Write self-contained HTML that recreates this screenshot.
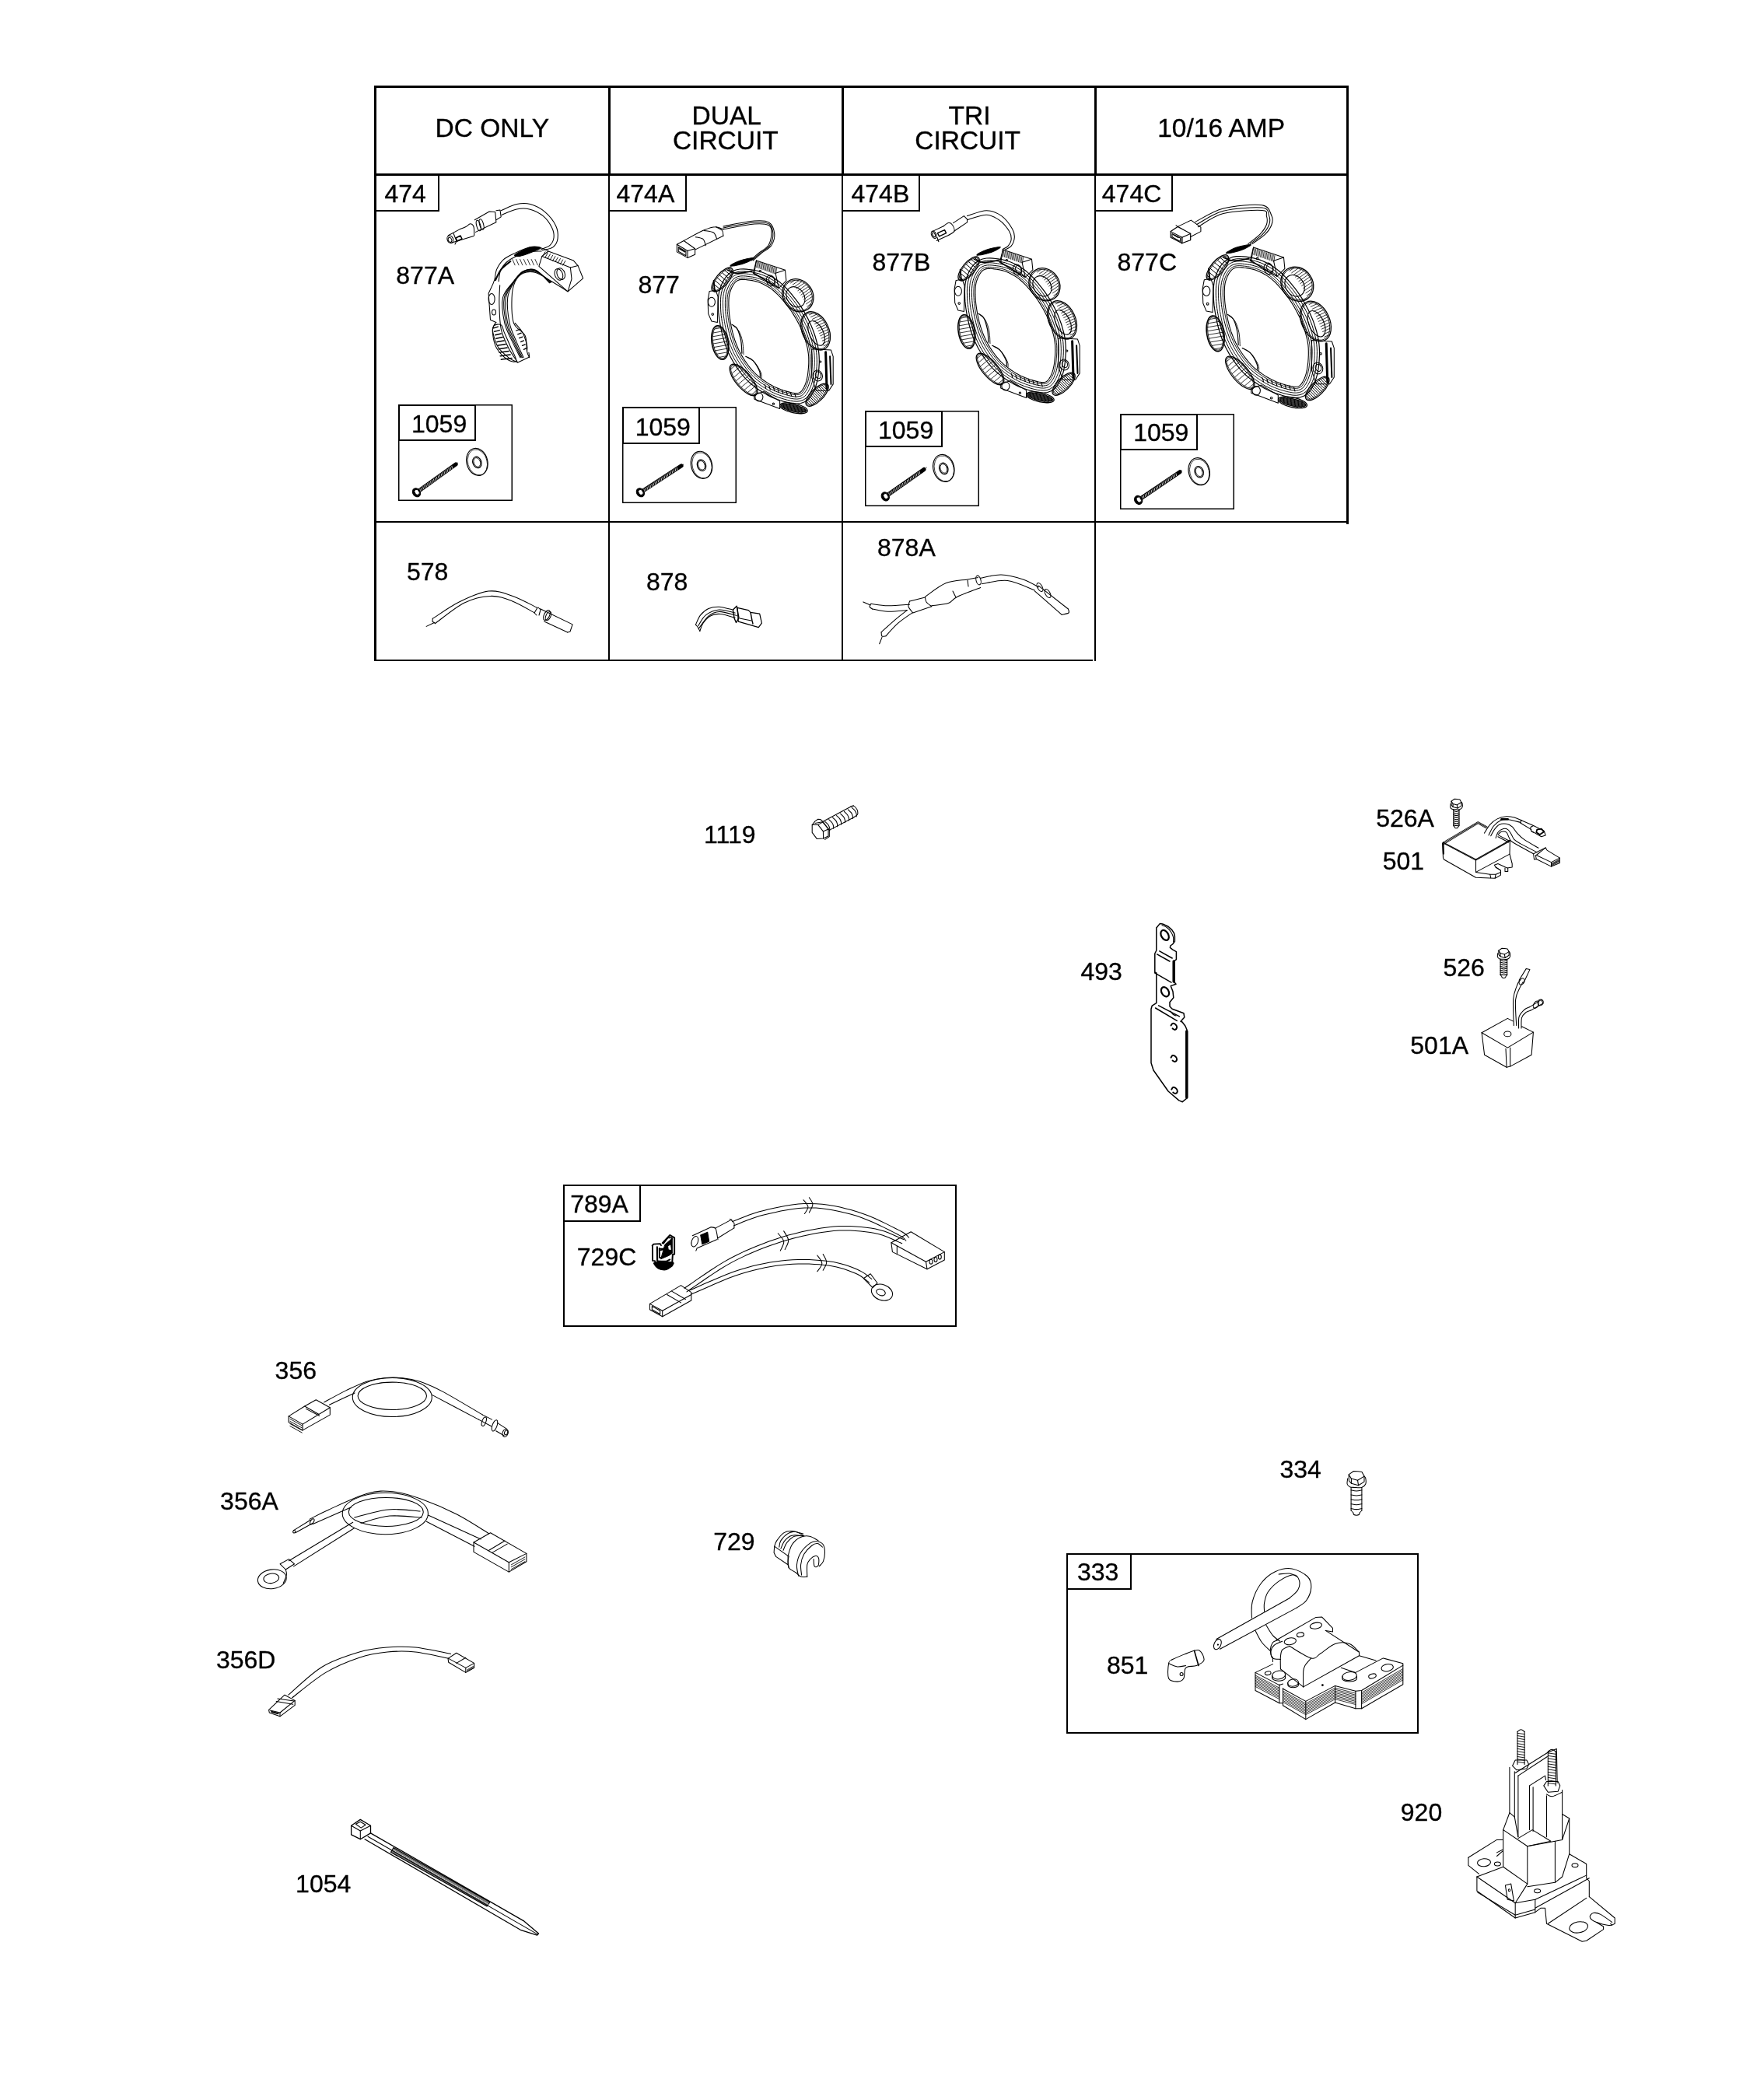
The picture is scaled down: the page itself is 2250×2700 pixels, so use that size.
<!DOCTYPE html>
<html><head><meta charset="utf-8"><style>
html,body{margin:0;padding:0;background:#fff;width:2250px;height:2700px;overflow:hidden}
svg{position:absolute;left:0;top:0;display:block;will-change:transform}
</style></head><body>
<svg width="2250" height="2700" viewBox="0 0 2250 2700" xmlns="http://www.w3.org/2000/svg">
<g fill="#000">
<rect x="481" y="110" width="1253" height="3"/>
<rect x="481" y="223" width="1253" height="3"/>
<rect x="481" y="670" width="1252" height="2"/>
<rect x="481" y="848" width="924" height="2"/>
<rect x="481" y="110" width="3" height="740"/>
<rect x="782" y="110" width="3" height="116"/>
<rect x="782" y="226" width="2" height="624"/>
<rect x="1082" y="110" width="3" height="116"/>
<rect x="1082" y="226" width="2" height="624"/>
<rect x="1407" y="110" width="3" height="116"/>
<rect x="1407" y="226" width="2" height="624"/>
<rect x="1731" y="110" width="3" height="564"/>
</g>
<g>
<rect x="482" y="224" width="82" height="47" fill="none" stroke="#000" stroke-width="2"/>
<rect x="783" y="224" width="99" height="47" fill="none" stroke="#000" stroke-width="2"/>
<rect x="1083" y="224" width="99" height="47" fill="none" stroke="#000" stroke-width="2"/>
<rect x="1408" y="224" width="99" height="47" fill="none" stroke="#000" stroke-width="2"/>
<rect x="512.75" y="520.75" width="145.5" height="122.5" fill="none" stroke="#000" stroke-width="1.5"/>
<rect x="513" y="521" width="98" height="45" fill="none" stroke="#000" stroke-width="2"/>
<rect x="800.75" y="523.75" width="145.5" height="122.5" fill="none" stroke="#000" stroke-width="1.5"/>
<rect x="801" y="524" width="98" height="46" fill="none" stroke="#000" stroke-width="2"/>
<rect x="1112.75" y="528.75" width="145.5" height="121.5" fill="none" stroke="#000" stroke-width="1.5"/>
<rect x="1113" y="529" width="98" height="45" fill="none" stroke="#000" stroke-width="2"/>
<rect x="1440.75" y="532.75" width="145.5" height="121.5" fill="none" stroke="#000" stroke-width="1.5"/>
<rect x="1441" y="533" width="98" height="45" fill="none" stroke="#000" stroke-width="2"/>
<rect x="725" y="1524" width="504" height="181" fill="none" stroke="#000" stroke-width="2"/>
<rect x="725" y="1524" width="98" height="46" fill="none" stroke="#000" stroke-width="2"/>
<rect x="1372" y="1998" width="451" height="230" fill="none" stroke="#000" stroke-width="2"/>
<rect x="1372" y="1998" width="82" height="45" fill="none" stroke="#000" stroke-width="2"/>
</g>
<g font-family="Liberation Sans, sans-serif" fill="#000" stroke="#000" stroke-width="0.35">
<text x="559.6" y="176.0" font-size="33.5">DC ONLY</text>
<text x="889.5" y="160.0" font-size="33.5">DUAL</text>
<text x="864.9" y="191.9" font-size="33.5">CIRCUIT</text>
<text x="1219.6" y="160.0" font-size="33.5">TRI</text>
<text x="1176.2" y="191.8" font-size="33.5">CIRCUIT</text>
<text x="1488.2" y="176.3" font-size="33.5">10/16 AMP</text>
<text x="494.5" y="260.0" font-size="32.0">474</text>
<text x="792.5" y="260.0" font-size="32.0">474A</text>
<text x="1094.5" y="260.0" font-size="32.0">474B</text>
<text x="1416.8" y="260.0" font-size="32.0">474C</text>
<text x="509.3" y="365.0" font-size="32.0">877A</text>
<text x="820.5" y="377.0" font-size="32.0">877</text>
<text x="1121.5" y="348.4" font-size="32.0">877B</text>
<text x="1436.5" y="348.0" font-size="32.0">877C</text>
<text x="529.0" y="556.0" font-size="32.0">1059</text>
<text x="816.7" y="559.8" font-size="32.0">1059</text>
<text x="1129.0" y="564.0" font-size="32.0">1059</text>
<text x="1457.2" y="567.0" font-size="32.0">1059</text>
<text x="523.0" y="746.0" font-size="32.0">578</text>
<text x="831.0" y="758.6" font-size="32.0">878</text>
<text x="1128.0" y="714.7" font-size="32.0">878A</text>
<text x="905.1" y="1084.0" font-size="32.0">1119</text>
<text x="1769.2" y="1062.9" font-size="32.0">526A</text>
<text x="1777.7" y="1118.4" font-size="32.0">501</text>
<text x="1389.4" y="1259.7" font-size="32.0">493</text>
<text x="1855.5" y="1254.8" font-size="32.0">526</text>
<text x="1813.3" y="1355.0" font-size="32.0">501A</text>
<text x="733.2" y="1559.0" font-size="32.0">789A</text>
<text x="741.8" y="1627.4" font-size="32.0">729C</text>
<text x="353.6" y="1772.7" font-size="32.0">356</text>
<text x="283.1" y="1940.7" font-size="32.0">356A</text>
<text x="277.9" y="2145.0" font-size="32.0">356D</text>
<text x="917.2" y="1992.7" font-size="32.0">729</text>
<text x="1645.5" y="1900.2" font-size="32.0">334</text>
<text x="1384.9" y="2031.8" font-size="32.0">333</text>
<text x="1422.9" y="2152.0" font-size="32.0">851</text>
<text x="1800.8" y="2340.7" font-size="32.0">920</text>
<text x="380.1" y="2432.7" font-size="32.0">1054</text>
</g>
<g fill="none" stroke="#000" stroke-width="1.05" stroke-linejoin="round" stroke-linecap="round">
<path d="M947.8,360.9 L950.1,359.9 L952.7,359.4 L955.6,359.3 L958.5,359.5 L961.4,359.9 L964.2,360.2 L967,360.6 L969.7,361.2 L972.5,361.9 L975.2,362.8 L977.9,363.8 L980.7,365 L983.4,366.4 L986.1,367.9 L988.8,369.5 L991.6,371.4 L994.3,373.5 L997.1,376 L1000.1,378.9 L1003.2,382.1 L1006.3,385.7 L1009.4,389.4 L1012.3,393 L1015,396.6 L1017.4,400 L1019.6,403.4 L1021.7,406.9 L1023.7,410.3 L1025.6,413.7 L1027.3,417.1 L1029,420.6 L1030.5,424 L1031.9,427.4 L1033.3,430.9 L1034.5,434.3 L1035.5,437.7 L1036.5,441.1 L1037.4,444.4 L1038.2,447.7 L1038.8,451.1 L1039.3,454.6 L1039.7,458.3 L1039.8,462.3 L1039.8,466.5 L1039.6,470.9 L1039.2,475.2 L1038.8,479.3 L1038.3,483 L1037.6,486.3 L1036.9,489.4 L1036,492.4 L1035,495 L1033.9,497.4 L1032.8,499.4 L1031.7,501.2 L1030.7,502.7 L1029.6,503.8 L1028.3,504.7 L1026.7,505.3 L1024.6,505.6 L1021.8,505.5 L1018.5,505 L1014.9,504.1 L1011.1,503.1 L1007.4,502 L1004,500.8 L1000.9,499.6 L997.8,498.3 L994.8,496.9 L991.9,495.3 L989,493.7 L986.2,491.9 L983.3,490 L980.5,488 L977.7,485.9 L974.9,483.7 L972.3,481.4 L969.7,478.9 L967.2,476.2 L964.8,473.3 L962.4,470.3 L960.2,467.2 L958,464.1 L956,461 L954.1,457.9 L952.4,454.8 L950.7,451.7 L949.2,448.5 L947.8,445.2 L946.4,441.8 L945.1,438.3 L944,434.8 L942.9,431.1 L941.9,427.4 L941,423.7 L940.2,419.9 L939.5,416 L938.8,412.1 L938.2,408.1 L937.7,404.2 L937.3,400.3 L937.1,396.6 L936.9,392.9 L936.9,389.3 L937,385.8 L937.2,382.3 L937.7,379.1 L938.4,376 L939.5,373 L940.7,370 L942.2,367.2 L943.8,364.7 L945.7,362.5Z" stroke-width="1.1"/>
<path d="M946.7,359.2 L949.5,358 L952.5,357.4 L955.6,357.3 L958.7,357.5 L961.6,357.9 L964.5,358.2 L967.3,358.7 L970.2,359.2 L973,360 L975.9,360.9 L978.7,362 L981.5,363.2 L984.3,364.6 L987.1,366.1 L989.9,367.9 L992.7,369.8 L995.6,372 L998.5,374.5 L1001.5,377.5 L1004.7,380.8 L1007.8,384.4 L1010.9,388.1 L1013.9,391.8 L1016.6,395.4 L1019,398.9 L1021.3,402.4 L1023.5,405.8 L1025.5,409.3 L1027.3,412.8 L1029.1,416.3 L1030.8,419.7 L1032.3,423.2 L1033.8,426.7 L1035.1,430.2 L1036.4,433.7 L1037.5,437.1 L1038.5,440.6 L1039.4,443.9 L1040.2,447.3 L1040.8,450.8 L1041.3,454.4 L1041.7,458.2 L1041.8,462.2 L1041.8,466.6 L1041.6,471 L1041.2,475.4 L1040.8,479.5 L1040.3,483.3 L1039.6,486.7 L1038.8,490 L1037.9,493 L1036.8,495.8 L1035.7,498.3 L1034.5,500.4 L1033.4,502.3 L1032.3,503.9 L1030.9,505.3 L1029.2,506.5 L1027.1,507.3 L1024.6,507.6 L1021.6,507.5 L1018.1,506.9 L1014.4,506.1 L1010.6,505 L1006.8,503.9 L1003.3,502.7 L1000.1,501.5 L997,500.1 L993.9,498.6 L990.9,497.1 L988,495.4 L985.1,493.6 L982.2,491.7 L979.3,489.6 L976.5,487.5 L973.7,485.2 L970.9,482.8 L968.3,480.3 L965.7,477.5 L963.2,474.6 L960.8,471.5 L958.5,468.4 L956.4,465.2 L954.3,462.1 L952.4,459 L950.6,455.8 L948.9,452.6 L947.4,449.3 L945.9,446 L944.5,442.5 L943.2,439 L942.1,435.4 L941,431.6 L940,427.9 L939.1,424.1 L938.3,420.3 L937.5,416.4 L936.8,412.4 L936.2,408.4 L935.7,404.4 L935.3,400.5 L935.1,396.7 L934.9,393 L934.9,389.3 L935,385.7 L935.2,382.1 L935.7,378.7 L936.5,375.4 L937.6,372.3 L938.9,369.2 L940.4,366.2 L942.2,363.5 L944.3,361.1Z" stroke-width="0.9"/>
<path d="M945.5,357.1 L948.8,355.6 L952.3,354.9 L955.6,354.8 L958.9,355 L962,355.4 L964.9,355.8 L967.8,356.2 L970.7,356.8 L973.7,357.6 L976.7,358.5 L979.7,359.6 L982.6,361 L985.5,362.4 L988.4,364 L991.3,365.8 L994.2,367.8 L997.2,370.1 L1000.2,372.7 L1003.3,375.7 L1006.5,379.1 L1009.7,382.8 L1012.9,386.5 L1015.9,390.3 L1018.6,393.9 L1021.1,397.5 L1023.4,401 L1025.6,404.6 L1027.6,408.1 L1029.5,411.6 L1031.3,415.1 L1033,418.7 L1034.6,422.2 L1036.1,425.8 L1037.5,429.3 L1038.7,432.9 L1039.8,436.4 L1040.9,439.9 L1041.8,443.3 L1042.6,446.8 L1043.3,450.4 L1043.8,454.1 L1044.1,458 L1044.3,462.2 L1044.3,466.6 L1044.1,471.1 L1043.7,475.6 L1043.3,479.8 L1042.7,483.7 L1042,487.3 L1041.2,490.6 L1040.2,493.8 L1039.1,496.7 L1038,499.4 L1036.7,501.7 L1035.5,503.6 L1034.2,505.4 L1032.6,507.2 L1030.4,508.8 L1027.7,509.7 L1024.7,510.1 L1021.4,510 L1017.7,509.4 L1013.8,508.5 L1009.9,507.4 L1006,506.2 L1002.5,505 L999.2,503.8 L995.9,502.4 L992.8,500.9 L989.7,499.3 L986.7,497.5 L983.7,495.7 L980.8,493.7 L977.8,491.7 L974.9,489.5 L972,487.1 L969.2,484.7 L966.5,482 L963.9,479.2 L961.3,476.2 L958.8,473.1 L956.5,469.9 L954.3,466.6 L952.2,463.4 L950.2,460.2 L948.4,457 L946.7,453.7 L945.1,450.4 L943.6,446.9 L942.2,443.4 L940.9,439.8 L939.7,436.1 L938.6,432.3 L937.6,428.5 L936.7,424.6 L935.8,420.8 L935.1,416.9 L934.3,412.8 L933.7,408.8 L933.2,404.7 L932.8,400.7 L932.6,396.8 L932.4,393 L932.4,389.3 L932.5,385.6 L932.8,381.9 L933.3,378.2 L934.1,374.8 L935.2,371.4 L936.6,368.1 L938.3,364.9 L940.3,362 L942.6,359.3Z" stroke-width="1.0"/>
<path d="M943.9,354.5 L947.9,352.7 L951.9,352 L955.7,351.8 L959.2,352 L962.3,352.4 L965.3,352.8 L968.3,353.3 L971.4,353.9 L974.5,354.7 L977.7,355.7 L980.8,356.9 L983.9,358.2 L986.9,359.7 L989.9,361.4 L992.9,363.2 L996,365.3 L999.1,367.8 L1002.2,370.5 L1005.4,373.6 L1008.7,377.1 L1012,380.8 L1015.2,384.6 L1018.2,388.4 L1021,392.1 L1023.6,395.8 L1026,399.4 L1028.2,403 L1030.3,406.6 L1032.2,410.2 L1034,413.8 L1035.8,417.4 L1037.4,421 L1038.9,424.6 L1040.3,428.3 L1041.6,431.9 L1042.7,435.5 L1043.8,439.1 L1044.7,442.6 L1045.5,446.2 L1046.2,449.9 L1046.8,453.8 L1047.1,457.8 L1047.3,462.2 L1047.3,466.7 L1047.1,471.3 L1046.7,475.9 L1046.3,480.2 L1045.7,484.2 L1045,487.9 L1044.1,491.4 L1043.1,494.8 L1041.9,497.8 L1040.6,500.7 L1039.3,503.2 L1038,505.2 L1036.6,507.3 L1034.6,509.5 L1031.7,511.4 L1028.4,512.6 L1024.8,513.1 L1021,512.9 L1017.1,512.3 L1013.1,511.4 L1009,510.3 L1005.1,509.1 L1001.5,507.9 L998,506.5 L994.7,505.1 L991.5,503.6 L988.3,501.9 L985.2,500.1 L982.1,498.2 L979.1,496.2 L976.1,494.1 L973.1,491.8 L970.1,489.4 L967.2,486.9 L964.4,484.1 L961.6,481.2 L959,478.1 L956.5,474.9 L954.1,471.6 L951.8,468.3 L949.6,465 L947.7,461.7 L945.8,458.4 L944,455 L942.4,451.6 L940.8,448.1 L939.4,444.5 L938,440.8 L936.8,437 L935.7,433.1 L934.7,429.2 L933.7,425.3 L932.9,421.4 L932.1,417.4 L931.4,413.3 L930.8,409.2 L930.2,405 L929.8,400.9 L929.6,396.9 L929.5,393.1 L929.4,389.3 L929.5,385.4 L929.8,381.5 L930.3,377.7 L931.2,373.9 L932.4,370.4 L933.9,366.9 L935.7,363.4 L937.9,360.1 L940.5,357.1Z" stroke-width="0.9"/>
<path d="M942.4,351.9 L947.1,349.9 L951.6,349 L955.7,348.8 L959.4,349.1 L962.7,349.4 L965.7,349.8 L968.8,350.3 L972.1,351 L975.4,351.8 L978.6,352.9 L981.9,354.1 L985.2,355.5 L988.3,357.1 L991.4,358.8 L994.5,360.7 L997.8,362.9 L1001,365.4 L1004.3,368.3 L1007.6,371.5 L1010.9,375.1 L1014.3,378.8 L1017.5,382.7 L1020.6,386.6 L1023.4,390.4 L1026.1,394.1 L1028.5,397.8 L1030.8,401.5 L1032.9,405.2 L1034.9,408.8 L1036.7,412.5 L1038.5,416.1 L1040.1,419.8 L1041.7,423.5 L1043.1,427.2 L1044.4,431 L1045.6,434.7 L1046.6,438.3 L1047.6,441.9 L1048.5,445.6 L1049.2,449.4 L1049.8,453.4 L1050.1,457.7 L1050.3,462.1 L1050.3,466.8 L1050.1,471.5 L1049.7,476.1 L1049.2,480.6 L1048.6,484.7 L1047.9,488.6 L1047,492.2 L1045.9,495.7 L1044.7,499 L1043.3,502 L1041.9,504.7 L1040.6,506.9 L1039,509.2 L1036.5,511.8 L1033.1,514.1 L1029,515.6 L1024.9,516.1 L1020.7,515.9 L1016.5,515.3 L1012.3,514.3 L1008.2,513.2 L1004.2,511.9 L1000.4,510.7 L996.9,509.3 L993.5,507.8 L990.1,506.2 L986.8,504.5 L983.6,502.7 L980.5,500.7 L977.4,498.7 L974.3,496.5 L971.2,494.2 L968.2,491.7 L965.1,489.1 L962.2,486.2 L959.4,483.2 L956.7,480 L954.1,476.7 L951.6,473.3 L949.3,470 L947.1,466.6 L945.1,463.2 L943.1,459.8 L941.3,456.4 L939.6,452.9 L938.1,449.3 L936.6,445.6 L935.2,441.8 L933.9,437.9 L932.8,433.9 L931.7,430 L930.8,426 L929.9,422 L929.2,418 L928.4,413.8 L927.8,409.6 L927.2,405.4 L926.8,401.1 L926.6,397.1 L926.5,393.2 L926.4,389.3 L926.5,385.3 L926.8,381.2 L927.4,377.1 L928.4,373.1 L929.6,369.3 L931.2,365.6 L933.1,361.9 L935.5,358.3 L938.5,354.9Z" stroke-width="1.0"/>
<path d="M940.8,349.3 L946.2,347 L951.3,346 L955.8,345.8 L959.7,346.1 L963.1,346.5 L966.1,346.9 L969.3,347.3 L972.7,348 L976.2,348.9 L979.6,350 L983.1,351.3 L986.4,352.8 L989.7,354.4 L992.9,356.2 L996.2,358.2 L999.5,360.5 L1002.9,363.1 L1006.3,366.1 L1009.7,369.4 L1013.2,373 L1016.6,376.9 L1019.8,380.8 L1023,384.8 L1025.9,388.6 L1028.5,392.4 L1031,396.2 L1033.4,400 L1035.5,403.7 L1037.5,407.4 L1039.4,411.1 L1041.2,414.9 L1042.9,418.6 L1044.5,422.4 L1045.9,426.2 L1047.3,430 L1048.5,433.8 L1049.5,437.5 L1050.5,441.1 L1051.4,444.9 L1052.2,448.9 L1052.7,453.1 L1053.1,457.5 L1053.3,462.1 L1053.3,466.9 L1053,471.7 L1052.7,476.4 L1052.2,480.9 L1051.6,485.2 L1050.8,489.2 L1049.9,493 L1048.8,496.7 L1047.5,500.1 L1046,503.4 L1044.5,506.2 L1043.1,508.5 L1041.3,511 L1038.5,514 L1034.4,516.8 L1029.7,518.5 L1025,519.1 L1020.4,518.9 L1016,518.2 L1011.6,517.2 L1007.3,516.1 L1003.2,514.8 L999.4,513.5 L995.8,512.1 L992.2,510.6 L988.7,508.9 L985.4,507.1 L982.1,505.2 L978.9,503.3 L975.7,501.2 L972.6,499 L969.4,496.6 L966.2,494 L963.1,491.3 L960.1,488.3 L957.1,485.2 L954.3,481.9 L951.7,478.5 L949.2,475.1 L946.8,471.6 L944.6,468.2 L942.5,464.8 L940.5,461.3 L938.7,457.7 L936.9,454.1 L935.3,450.4 L933.8,446.6 L932.4,442.7 L931.1,438.7 L929.9,434.7 L928.8,430.7 L927.9,426.6 L927,422.6 L926.2,418.5 L925.5,414.3 L924.8,410 L924.3,405.7 L923.8,401.4 L923.6,397.2 L923.5,393.2 L923.4,389.2 L923.5,385.1 L923.8,380.9 L924.4,376.5 L925.5,372.3 L926.8,368.2 L928.5,364.3 L930.5,360.4 L933.1,356.5 L936.4,352.8Z" stroke-width="1.2"/>
<path d="M940.9,417.1C942.1,418.1 945.8,419.2 947.8,422.6C949.7,426.1 951.5,432.5 952.6,437.7C953.6,443 953.7,451.4 953.9,454.2" stroke-width="1.2"/>
<path d="M942.3,418.5C943.5,419.7 947.8,421.9 949.8,425.4C951.9,428.8 953.6,434.1 954.6,439.1C955.7,444.1 955.8,452.8 956,455.5" stroke-width="0.9"/>
<path d="M958.7,458.3C960.3,459.2 965.4,460.6 968.3,463.8C971.3,467 975.1,474.1 976.6,477.5C978.1,480.9 977.1,483.2 977.3,484.3" stroke-width="1.2"/>
<path d="M961.5,459.7C963,460.7 967.6,462.6 970.4,465.8C973.2,469 976.8,475.5 978.2,478.9C979.7,482.2 978.9,484.6 979,485.7" stroke-width="0.9"/>
<ellipse cx="1025.9" cy="379.8" rx="19" ry="22" transform="rotate(-35 1025.9 379.8)" stroke-width="1.3"/>
<ellipse cx="1025.9" cy="379.8" rx="17.5" ry="20.5" transform="rotate(-35 1025.9 379.8)" stroke-width="0.8"/>
<ellipse cx="1022.9" cy="381.8" rx="11" ry="14" transform="rotate(-35 1022.9 381.8)" stroke-width="1.1"/>
<path d="M1016.6,363.9 L1021.6,360.4" stroke-width="0.8"/>
<path d="M1019.2,366.1 L1027,360.7" stroke-width="0.8"/>
<path d="M1021.6,368.6 L1031,362" stroke-width="0.8"/>
<path d="M1023.7,371.1 L1034.2,363.8" stroke-width="0.8"/>
<path d="M1025.8,373.8 L1037,366" stroke-width="0.8"/>
<path d="M1027.8,376.5 L1039.3,368.5" stroke-width="0.8"/>
<path d="M1029.8,379.2 L1041.2,371.2" stroke-width="0.8"/>
<path d="M1031.6,382 L1042.7,374.2" stroke-width="0.8"/>
<path d="M1033.4,384.9 L1043.8,377.6" stroke-width="0.8"/>
<path d="M1035,387.8 L1044.4,381.2" stroke-width="0.8"/>
<path d="M1036.5,390.8 L1044.3,385.4" stroke-width="0.8"/>
<path d="M1037.8,394.1 L1042.8,390.6" stroke-width="0.8"/>
<ellipse cx="1048.6" cy="425.4" rx="17" ry="26" transform="rotate(-25 1048.6 425.4)" stroke-width="1.3"/>
<ellipse cx="1048.6" cy="425.4" rx="15.5" ry="24.5" transform="rotate(-25 1048.6 425.4)" stroke-width="0.8"/>
<ellipse cx="1049.6" cy="428.4" rx="9" ry="17" transform="rotate(-25 1049.6 428.4)" stroke-width="1.1"/>
<path d="M1040.5,404.8 L1045.4,402.5" stroke-width="0.8"/>
<path d="M1042.5,407.6 L1049.8,404.2" stroke-width="0.8"/>
<path d="M1044.3,410.5 L1053.1,406.4" stroke-width="0.8"/>
<path d="M1046,413.5 L1055.8,408.9" stroke-width="0.8"/>
<path d="M1047.6,416.5 L1058.2,411.5" stroke-width="0.8"/>
<path d="M1049.2,419.5 L1060.2,414.4" stroke-width="0.8"/>
<path d="M1050.7,422.5 L1061.9,417.3" stroke-width="0.8"/>
<path d="M1052.1,425.6 L1063.3,420.4" stroke-width="0.8"/>
<path d="M1053.5,428.7 L1064.5,423.6" stroke-width="0.8"/>
<path d="M1054.8,431.8 L1065.3,426.9" stroke-width="0.8"/>
<path d="M1056,435 L1065.9,430.4" stroke-width="0.8"/>
<path d="M1057.2,438.2 L1066,434.1" stroke-width="0.8"/>
<path d="M1058.3,441.4 L1065.6,438" stroke-width="0.8"/>
<path d="M1059.1,444.8 L1064,442.5" stroke-width="0.8"/>
<ellipse cx="925.8" cy="440.5" rx="10.5" ry="22" transform="rotate(-10 925.8 440.5)" stroke-width="1.6"/>
<ellipse cx="925.8" cy="440.5" rx="9" ry="20.5" transform="rotate(-10 925.8 440.5)" stroke-width="0.8"/>
<path d="M918.8,423 L926.5,421.6" stroke-width="0.8"/>
<path d="M916.9,428 L930,425.7" stroke-width="0.8"/>
<path d="M916.3,432.8 L932.1,430" stroke-width="0.8"/>
<path d="M916.4,437.4 L933.7,434.4" stroke-width="0.8"/>
<path d="M917,442 L934.7,438.9" stroke-width="0.8"/>
<path d="M918,446.5 L935.3,443.5" stroke-width="0.8"/>
<path d="M919.5,450.9 L935.3,448.1" stroke-width="0.8"/>
<path d="M921.7,455.2 L934.8,452.9" stroke-width="0.8"/>
<path d="M925.2,459.3 L932.9,457.9" stroke-width="0.8"/>
<ellipse cx="956" cy="488.5" rx="10" ry="25" transform="rotate(-40 956 488.5)" stroke-width="1.3"/>
<ellipse cx="956" cy="488.5" rx="8.5" ry="23.5" transform="rotate(-40 956 488.5)" stroke-width="0.8"/>
<path d="M939.6,474.6 L945.2,469.9" stroke-width="0.8"/>
<path d="M941,480.3 L950.6,472.3" stroke-width="0.8"/>
<path d="M943.4,485.2 L955,475.5" stroke-width="0.8"/>
<path d="M946.3,489.7 L958.9,479.1" stroke-width="0.8"/>
<path d="M949.5,493.9 L962.5,483" stroke-width="0.8"/>
<path d="M953.1,497.8 L965.7,487.2" stroke-width="0.8"/>
<path d="M957,501.4 L968.6,491.7" stroke-width="0.8"/>
<path d="M961.4,504.6 L971,496.6" stroke-width="0.8"/>
<path d="M966.8,507 L972.4,502.3" stroke-width="0.8"/>
<ellipse cx="928.6" cy="359.5" rx="8" ry="19" transform="rotate(40 928.6 359.5)" stroke-width="1.3"/>
<ellipse cx="928.6" cy="359.5" rx="6.5" ry="17.5" transform="rotate(40 928.6 359.5)" stroke-width="0.8"/>
<path d="M936.5,345.7 L940.9,349.3" stroke-width="1.0"/>
<path d="M932,347.7 L939.6,354.1" stroke-width="1.0"/>
<path d="M928.3,350.5 L937.5,358.2" stroke-width="1.0"/>
<path d="M925.1,353.7 L935,362" stroke-width="1.0"/>
<path d="M922.2,357.1 L932.1,365.4" stroke-width="1.0"/>
<path d="M919.6,360.9 L928.8,368.6" stroke-width="1.0"/>
<path d="M917.5,365 L925.2,371.4" stroke-width="1.0"/>
<path d="M916.3,369.8 L920.6,373.4" stroke-width="1.0"/>
<ellipse cx="1050.6" cy="507.7" rx="8" ry="19" transform="rotate(45 1050.6 507.7)" stroke-width="1.3"/>
<ellipse cx="1050.6" cy="507.7" rx="6.5" ry="17.5" transform="rotate(45 1050.6 507.7)" stroke-width="0.8"/>
<path d="M1059.8,494.5 L1063.8,498.5" stroke-width="1.0"/>
<path d="M1057.1,495.3 L1063,501.2" stroke-width="1.0"/>
<path d="M1054.7,496.4 L1061.9,503.5" stroke-width="1.0"/>
<path d="M1052.6,497.6 L1060.6,505.7" stroke-width="1.0"/>
<path d="M1050.6,499.1 L1059.2,507.7" stroke-width="1.0"/>
<path d="M1048.7,500.6 L1057.7,509.6" stroke-width="1.0"/>
<path d="M1046.9,502.2 L1056.1,511.4" stroke-width="1.0"/>
<path d="M1045.2,503.9 L1054.4,513.1" stroke-width="1.0"/>
<path d="M1043.6,505.7 L1052.6,514.7" stroke-width="1.0"/>
<path d="M1042,507.6 L1050.7,516.3" stroke-width="1.0"/>
<path d="M1040.6,509.6 L1048.7,517.7" stroke-width="1.0"/>
<path d="M1039.3,511.8 L1046.5,519" stroke-width="1.0"/>
<path d="M1038.2,514.1 L1044.2,520.1" stroke-width="1.0"/>
<path d="M1037.5,516.8 L1041.5,520.8" stroke-width="1.0"/>
<ellipse cx="1020.5" cy="524.8" rx="18" ry="6" transform="rotate(12 1020.5 524.8)" stroke-width="1.3"/>
<ellipse cx="1020.5" cy="524.8" rx="16.5" ry="4.5" transform="rotate(12 1020.5 524.8)" stroke-width="0.8"/>
<path d="M1014.3,519.3 L1028.3,522.3" stroke-width="1.0"/>
<path d="M1009.6,519.3 L1032.6,524.2" stroke-width="1.0"/>
<path d="M1006.9,519.6 L1034.9,525.6" stroke-width="1.0"/>
<path d="M1005.3,520.2 L1036.1,526.8" stroke-width="1.0"/>
<path d="M1004.5,520.9 L1036.6,527.8" stroke-width="1.0"/>
<path d="M1004.3,521.8 L1036.4,528.7" stroke-width="1.0"/>
<path d="M1004.8,522.8 L1035.6,529.4" stroke-width="1.0"/>
<path d="M1006,524 L1034,530" stroke-width="1.0"/>
<path d="M1008.3,525.4 L1031.3,530.3" stroke-width="1.0"/>
<path d="M1012.6,527.3 L1026.6,530.3" stroke-width="1.0"/>
<path d="M938.9,341.7C939.5,340.7 946.9,336.5 951.9,334.9C956.9,333.2 967.5,331.2 969,331.6C970.5,331.9 964.3,335.3 960.8,336.9C957.3,338.5 951.4,340.2 947.8,341C944.1,341.8 938.2,342.7 938.9,341.7Z" fill="#000"/>
<path d="M935.4,347.2C937.5,347.9 942.5,351.1 947.8,351.3C953,351.5 963.8,349 967,348.6" stroke-width="1.6"/>
<path d="M968.3,351.3 L972.5,334.9 L1009.5,347.2 L1010.9,360.9 L1001.3,370.5 L968.3,351.3Z"/>
<path d="M972.5,334.9 L969.7,351.3 L1001.3,370.5"/>
<path d="M997.1,351.3 L1009.5,347.2"/>
<path d="M997.1,351.3 L1001.3,370.5"/>
<path d="M973.8,336.2 L972.7,343.8" stroke-width="0.8"/>
<path d="M975.5,336.8 L974.4,344.3" stroke-width="0.8"/>
<path d="M977.1,337.4 L976,344.9" stroke-width="0.8"/>
<path d="M978.8,338 L977.7,345.5" stroke-width="0.8"/>
<path d="M980.4,338.5 L979.3,346.1" stroke-width="0.8"/>
<path d="M982.1,339.1 L981,346.7" stroke-width="0.8"/>
<path d="M983.7,339.7 L982.6,347.2" stroke-width="0.8"/>
<path d="M985.3,340.3 L984.3,347.8" stroke-width="0.8"/>
<path d="M987,340.8 L985.9,348.4" stroke-width="0.8"/>
<path d="M988.6,341.4 L987.5,349" stroke-width="0.8"/>
<path d="M990.3,342 L989.2,349.5" stroke-width="0.8"/>
<path d="M991.9,342.6 L990.8,350.1" stroke-width="0.8"/>
<path d="M993.6,343.1 L992.5,350.7" stroke-width="0.8"/>
<path d="M995.2,343.7 L994.1,351.3" stroke-width="0.8"/>
<path d="M996.9,344.3 L995.8,351.8" stroke-width="0.8"/>
<path d="M998.5,344.9 L997.4,352.4" stroke-width="0.8"/>
<ellipse cx="991" cy="360.9" rx="5.5" ry="7" transform="rotate(-20 991 360.9)"/>
<ellipse cx="992.3" cy="360.2" rx="3.5" ry="5" transform="rotate(-20 992.3 360.2)"/>
<ellipse cx="977.3" cy="348.6" rx="1.2" ry="1.2"/>
<path d="M912.1,374.6 L920.3,373.3 L923.1,381.5 L922.4,414.4 L914.9,413 L910.7,403.4 L910.1,385.6Z"/>
<ellipse cx="914.9" cy="388.3" rx="4.5" ry="6"/>
<ellipse cx="916.2" cy="404.1" rx="1.3" ry="1.3"/>
<path d="M917.6,360.9 L919,374.6" stroke-width="1.8"/>
<path d="M1043.8,448.7 L1068.5,450.1 L1071.2,458.3 L1071.2,493.9 L1065.7,502.2 L1049.3,502.2 L1043.8,485.7Z"/>
<path d="M1061.6,452.8 L1063,499.4" stroke-width="3"/>
<path d="M1067.1,458.3 L1068.5,493.9" stroke-width="2"/>
<ellipse cx="1051.3" cy="483" rx="6" ry="7" transform="rotate(-20 1051.3 483)"/>
<ellipse cx="1052" cy="482.3" rx="3.5" ry="4.5" transform="rotate(-20 1052 482.3)"/>
<ellipse cx="1054.7" cy="465.1" rx="1.2" ry="1.2"/>
<path d="M969.7,507.7 L982.1,503.5 L1002.6,515.9 L1002.6,525.5 L980.7,517.3 L969.7,513.1Z"/>
<ellipse cx="975.9" cy="510.4" rx="5" ry="5.5"/>
<ellipse cx="994.4" cy="519.3" rx="1.2" ry="1.2"/>
<path d="M983.4,494.6 L984.8,499.4" stroke-width="1.1"/>
<path d="M988.9,496.3 L990.3,501.1" stroke-width="1.1"/>
<path d="M994.4,497.9 L995.8,502.7" stroke-width="1.1"/>
<path d="M999.9,499.6 L1001.3,504.4" stroke-width="1.1"/>
<path d="M1005.4,501.2 L1006.7,506" stroke-width="1.1"/>
<path d="M1010.9,502.9 L1012.2,507.7" stroke-width="1.1"/>
<path d="M1016.3,504.5 L1017.7,509.3" stroke-width="1.1"/>
<path d="M1021.8,506.1 L1023.2,510.9" stroke-width="1.1"/>
<path d="M1264.8,346.9 L1267.1,345.9 L1269.7,345.4 L1272.6,345.3 L1275.5,345.5 L1278.4,345.9 L1281.2,346.2 L1284,346.6 L1286.7,347.2 L1289.5,347.9 L1292.2,348.8 L1294.9,349.8 L1297.7,351 L1300.4,352.4 L1303.1,353.9 L1305.8,355.5 L1308.6,357.4 L1311.3,359.5 L1314.1,362 L1317.1,364.9 L1320.2,368.1 L1323.3,371.7 L1326.4,375.4 L1329.3,379 L1332,382.6 L1334.4,386 L1336.6,389.4 L1338.7,392.9 L1340.7,396.3 L1342.6,399.7 L1344.3,403.1 L1346,406.6 L1347.5,410 L1348.9,413.4 L1350.3,416.9 L1351.5,420.3 L1352.5,423.7 L1353.5,427.1 L1354.4,430.4 L1355.2,433.7 L1355.8,437.1 L1356.3,440.6 L1356.7,444.3 L1356.8,448.3 L1356.8,452.5 L1356.6,456.9 L1356.2,461.2 L1355.8,465.3 L1355.3,469 L1354.6,472.3 L1353.9,475.4 L1353,478.4 L1352,481 L1350.9,483.4 L1349.8,485.4 L1348.7,487.2 L1347.7,488.7 L1346.6,489.8 L1345.3,490.7 L1343.7,491.3 L1341.6,491.6 L1338.8,491.5 L1335.5,491 L1331.9,490.1 L1328.1,489.1 L1324.4,488 L1321,486.8 L1317.9,485.6 L1314.8,484.3 L1311.8,482.9 L1308.9,481.3 L1306,479.7 L1303.2,477.9 L1300.3,476 L1297.5,474 L1294.7,471.9 L1291.9,469.7 L1289.3,467.4 L1286.7,464.9 L1284.2,462.2 L1281.8,459.3 L1279.4,456.3 L1277.2,453.2 L1275,450.1 L1273,447 L1271.1,443.9 L1269.4,440.8 L1267.7,437.7 L1266.2,434.5 L1264.8,431.2 L1263.4,427.8 L1262.1,424.3 L1261,420.8 L1259.9,417.1 L1258.9,413.4 L1258,409.7 L1257.2,405.9 L1256.5,402 L1255.8,398.1 L1255.2,394.1 L1254.7,390.2 L1254.3,386.3 L1254.1,382.6 L1253.9,378.9 L1253.9,375.3 L1254,371.8 L1254.2,368.3 L1254.7,365.1 L1255.4,362 L1256.5,359 L1257.7,356 L1259.2,353.2 L1260.8,350.7 L1262.7,348.5Z" stroke-width="1.1"/>
<path d="M1263.7,345.2 L1266.5,344 L1269.5,343.4 L1272.6,343.3 L1275.7,343.5 L1278.6,343.9 L1281.5,344.2 L1284.3,344.7 L1287.2,345.2 L1290,346 L1292.9,346.9 L1295.7,348 L1298.5,349.2 L1301.3,350.6 L1304.1,352.1 L1306.9,353.9 L1309.7,355.8 L1312.6,358 L1315.5,360.5 L1318.5,363.5 L1321.7,366.8 L1324.8,370.4 L1327.9,374.1 L1330.9,377.8 L1333.6,381.4 L1336,384.9 L1338.3,388.4 L1340.5,391.8 L1342.5,395.3 L1344.3,398.8 L1346.1,402.3 L1347.8,405.7 L1349.3,409.2 L1350.8,412.7 L1352.1,416.2 L1353.4,419.7 L1354.5,423.1 L1355.5,426.6 L1356.4,429.9 L1357.2,433.3 L1357.8,436.8 L1358.3,440.4 L1358.7,444.2 L1358.8,448.2 L1358.8,452.6 L1358.6,457 L1358.2,461.4 L1357.8,465.5 L1357.3,469.3 L1356.6,472.7 L1355.8,476 L1354.9,479 L1353.8,481.8 L1352.7,484.3 L1351.5,486.4 L1350.4,488.3 L1349.3,489.9 L1347.9,491.3 L1346.2,492.5 L1344.1,493.3 L1341.6,493.6 L1338.6,493.5 L1335.1,492.9 L1331.4,492.1 L1327.6,491 L1323.8,489.9 L1320.3,488.7 L1317.1,487.5 L1314,486.1 L1310.9,484.6 L1307.9,483.1 L1305,481.4 L1302.1,479.6 L1299.2,477.7 L1296.3,475.6 L1293.5,473.5 L1290.7,471.2 L1287.9,468.8 L1285.3,466.3 L1282.7,463.5 L1280.2,460.6 L1277.8,457.5 L1275.5,454.4 L1273.4,451.2 L1271.3,448.1 L1269.4,445 L1267.6,441.8 L1265.9,438.6 L1264.4,435.3 L1262.9,432 L1261.5,428.5 L1260.2,425 L1259.1,421.4 L1258,417.6 L1257,413.9 L1256.1,410.1 L1255.3,406.3 L1254.5,402.4 L1253.8,398.4 L1253.2,394.4 L1252.7,390.4 L1252.3,386.5 L1252.1,382.7 L1251.9,379 L1251.9,375.3 L1252,371.7 L1252.2,368.1 L1252.7,364.7 L1253.5,361.4 L1254.6,358.3 L1255.9,355.2 L1257.4,352.2 L1259.2,349.5 L1261.3,347.1Z" stroke-width="0.9"/>
<path d="M1262.5,343.1 L1265.8,341.6 L1269.3,340.9 L1272.6,340.8 L1275.9,341 L1279,341.4 L1281.9,341.8 L1284.8,342.2 L1287.7,342.8 L1290.7,343.6 L1293.7,344.5 L1296.7,345.6 L1299.6,347 L1302.5,348.4 L1305.4,350 L1308.3,351.8 L1311.2,353.8 L1314.2,356.1 L1317.2,358.7 L1320.3,361.7 L1323.5,365.1 L1326.7,368.8 L1329.9,372.5 L1332.9,376.3 L1335.6,379.9 L1338.1,383.5 L1340.4,387 L1342.6,390.6 L1344.6,394.1 L1346.5,397.6 L1348.3,401.1 L1350,404.7 L1351.6,408.2 L1353.1,411.8 L1354.5,415.3 L1355.7,418.9 L1356.8,422.4 L1357.9,425.9 L1358.8,429.3 L1359.6,432.8 L1360.3,436.4 L1360.8,440.1 L1361.1,444 L1361.3,448.2 L1361.3,452.6 L1361.1,457.1 L1360.7,461.6 L1360.3,465.8 L1359.7,469.7 L1359,473.3 L1358.2,476.6 L1357.2,479.8 L1356.1,482.7 L1355,485.4 L1353.7,487.7 L1352.5,489.6 L1351.2,491.4 L1349.6,493.2 L1347.4,494.8 L1344.7,495.7 L1341.7,496.1 L1338.4,496 L1334.7,495.4 L1330.8,494.5 L1326.9,493.4 L1323,492.2 L1319.5,491 L1316.2,489.8 L1312.9,488.4 L1309.8,486.9 L1306.7,485.3 L1303.7,483.5 L1300.7,481.7 L1297.8,479.7 L1294.8,477.7 L1291.9,475.5 L1289,473.1 L1286.2,470.7 L1283.5,468 L1280.9,465.2 L1278.3,462.2 L1275.8,459.1 L1273.5,455.9 L1271.3,452.6 L1269.2,449.4 L1267.2,446.2 L1265.4,443 L1263.7,439.7 L1262.1,436.4 L1260.6,432.9 L1259.2,429.4 L1257.9,425.8 L1256.7,422.1 L1255.6,418.3 L1254.6,414.5 L1253.7,410.6 L1252.8,406.8 L1252.1,402.9 L1251.3,398.8 L1250.7,394.8 L1250.2,390.7 L1249.8,386.7 L1249.6,382.8 L1249.4,379 L1249.4,375.3 L1249.5,371.6 L1249.8,367.9 L1250.3,364.2 L1251.1,360.8 L1252.2,357.4 L1253.6,354.1 L1255.3,350.9 L1257.3,348 L1259.6,345.3Z" stroke-width="1.0"/>
<path d="M1260.9,340.5 L1264.9,338.7 L1268.9,338 L1272.7,337.8 L1276.2,338 L1279.3,338.4 L1282.3,338.8 L1285.3,339.3 L1288.4,339.9 L1291.5,340.7 L1294.7,341.7 L1297.8,342.9 L1300.9,344.2 L1303.9,345.7 L1306.9,347.4 L1309.9,349.2 L1313,351.3 L1316.1,353.8 L1319.2,356.5 L1322.4,359.6 L1325.7,363.1 L1329,366.8 L1332.2,370.6 L1335.2,374.4 L1338,378.1 L1340.6,381.8 L1343,385.4 L1345.2,389 L1347.3,392.6 L1349.2,396.2 L1351,399.8 L1352.8,403.4 L1354.4,407 L1355.9,410.6 L1357.3,414.3 L1358.6,417.9 L1359.7,421.5 L1360.8,425.1 L1361.7,428.6 L1362.5,432.2 L1363.2,435.9 L1363.8,439.8 L1364.1,443.8 L1364.3,448.2 L1364.3,452.7 L1364.1,457.3 L1363.7,461.9 L1363.3,466.2 L1362.7,470.2 L1362,473.9 L1361.1,477.4 L1360.1,480.8 L1358.9,483.8 L1357.6,486.7 L1356.3,489.2 L1355,491.2 L1353.6,493.3 L1351.6,495.5 L1348.7,497.4 L1345.4,498.6 L1341.8,499.1 L1338,498.9 L1334.1,498.3 L1330.1,497.4 L1326,496.3 L1322.1,495.1 L1318.5,493.9 L1315,492.5 L1311.7,491.1 L1308.5,489.6 L1305.3,487.9 L1302.2,486.1 L1299.1,484.2 L1296.1,482.2 L1293.1,480.1 L1290.1,477.8 L1287.1,475.4 L1284.2,472.9 L1281.4,470.1 L1278.6,467.2 L1276,464.1 L1273.5,460.9 L1271.1,457.6 L1268.8,454.3 L1266.6,451 L1264.7,447.7 L1262.8,444.4 L1261,441 L1259.4,437.6 L1257.8,434.1 L1256.4,430.5 L1255,426.8 L1253.8,423 L1252.7,419.1 L1251.7,415.2 L1250.7,411.3 L1249.9,407.4 L1249.1,403.4 L1248.4,399.3 L1247.8,395.2 L1247.2,391 L1246.8,386.9 L1246.6,382.9 L1246.5,379.1 L1246.4,375.3 L1246.5,371.4 L1246.8,367.5 L1247.3,363.7 L1248.2,359.9 L1249.4,356.4 L1250.9,352.9 L1252.7,349.4 L1254.9,346.1 L1257.5,343.1Z" stroke-width="0.9"/>
<path d="M1259.4,337.9 L1264.1,335.9 L1268.6,335 L1272.7,334.8 L1276.4,335.1 L1279.7,335.4 L1282.7,335.8 L1285.8,336.3 L1289.1,337 L1292.4,337.8 L1295.6,338.9 L1298.9,340.1 L1302.2,341.5 L1305.3,343.1 L1308.4,344.8 L1311.5,346.7 L1314.8,348.9 L1318,351.4 L1321.3,354.3 L1324.6,357.5 L1327.9,361.1 L1331.3,364.8 L1334.5,368.7 L1337.6,372.6 L1340.4,376.4 L1343.1,380.1 L1345.5,383.8 L1347.8,387.5 L1349.9,391.2 L1351.9,394.8 L1353.7,398.5 L1355.5,402.1 L1357.1,405.8 L1358.7,409.5 L1360.1,413.2 L1361.4,417 L1362.6,420.7 L1363.6,424.3 L1364.6,427.9 L1365.5,431.6 L1366.2,435.4 L1366.8,439.4 L1367.1,443.7 L1367.3,448.1 L1367.3,452.8 L1367.1,457.5 L1366.7,462.1 L1366.2,466.6 L1365.6,470.7 L1364.9,474.6 L1364,478.2 L1362.9,481.7 L1361.7,485 L1360.3,488 L1358.9,490.7 L1357.6,492.9 L1356,495.2 L1353.5,497.8 L1350.1,500.1 L1346,501.6 L1341.9,502.1 L1337.7,501.9 L1333.5,501.3 L1329.3,500.3 L1325.2,499.2 L1321.2,497.9 L1317.4,496.7 L1313.9,495.3 L1310.5,493.8 L1307.1,492.2 L1303.8,490.5 L1300.6,488.7 L1297.5,486.7 L1294.4,484.7 L1291.3,482.5 L1288.2,480.2 L1285.2,477.7 L1282.1,475.1 L1279.2,472.2 L1276.4,469.2 L1273.7,466 L1271.1,462.7 L1268.6,459.3 L1266.3,456 L1264.1,452.6 L1262.1,449.2 L1260.1,445.8 L1258.3,442.4 L1256.6,438.9 L1255.1,435.3 L1253.6,431.6 L1252.2,427.8 L1250.9,423.9 L1249.8,419.9 L1248.7,416 L1247.8,412 L1246.9,408 L1246.2,404 L1245.4,399.8 L1244.8,395.6 L1244.2,391.4 L1243.8,387.1 L1243.6,383.1 L1243.5,379.2 L1243.4,375.3 L1243.5,371.3 L1243.8,367.2 L1244.4,363.1 L1245.4,359.1 L1246.6,355.3 L1248.2,351.6 L1250.1,347.9 L1252.5,344.3 L1255.5,340.9Z" stroke-width="1.0"/>
<path d="M1257.8,335.3 L1263.2,333 L1268.3,332 L1272.8,331.8 L1276.7,332.1 L1280.1,332.5 L1283.1,332.9 L1286.3,333.3 L1289.7,334 L1293.2,334.9 L1296.6,336 L1300.1,337.3 L1303.4,338.8 L1306.7,340.4 L1309.9,342.2 L1313.2,344.2 L1316.5,346.5 L1319.9,349.1 L1323.3,352.1 L1326.7,355.4 L1330.2,359 L1333.6,362.9 L1336.8,366.8 L1340,370.8 L1342.9,374.6 L1345.5,378.4 L1348,382.2 L1350.4,386 L1352.5,389.7 L1354.5,393.4 L1356.4,397.1 L1358.2,400.9 L1359.9,404.6 L1361.5,408.4 L1362.9,412.2 L1364.3,416 L1365.5,419.8 L1366.5,423.5 L1367.5,427.1 L1368.4,430.9 L1369.2,434.9 L1369.7,439.1 L1370.1,443.5 L1370.3,448.1 L1370.3,452.9 L1370,457.7 L1369.7,462.4 L1369.2,466.9 L1368.6,471.2 L1367.8,475.2 L1366.9,479 L1365.8,482.7 L1364.5,486.1 L1363,489.4 L1361.5,492.2 L1360.1,494.5 L1358.3,497 L1355.5,500 L1351.4,502.8 L1346.7,504.5 L1342,505.1 L1337.4,504.9 L1333,504.2 L1328.6,503.2 L1324.3,502.1 L1320.2,500.8 L1316.4,499.5 L1312.8,498.1 L1309.2,496.6 L1305.7,494.9 L1302.4,493.1 L1299.1,491.2 L1295.9,489.3 L1292.7,487.2 L1289.6,485 L1286.4,482.6 L1283.2,480 L1280.1,477.3 L1277.1,474.3 L1274.1,471.2 L1271.3,467.9 L1268.7,464.5 L1266.2,461.1 L1263.8,457.6 L1261.6,454.2 L1259.5,450.8 L1257.5,447.3 L1255.7,443.7 L1253.9,440.1 L1252.3,436.4 L1250.8,432.6 L1249.4,428.7 L1248.1,424.7 L1246.9,420.7 L1245.8,416.7 L1244.9,412.6 L1244,408.6 L1243.2,404.5 L1242.5,400.3 L1241.8,396 L1241.3,391.7 L1240.8,387.4 L1240.6,383.2 L1240.5,379.2 L1240.4,375.2 L1240.5,371.1 L1240.8,366.9 L1241.4,362.5 L1242.5,358.3 L1243.8,354.2 L1245.5,350.3 L1247.5,346.4 L1250.1,342.5 L1253.4,338.8Z" stroke-width="1.2"/>
<path d="M1257.9,403.1C1259.1,404.1 1262.8,405.2 1264.8,408.6C1266.7,412.1 1268.5,418.5 1269.6,423.7C1270.6,429 1270.7,437.4 1270.9,440.2" stroke-width="1.2"/>
<path d="M1259.3,404.5C1260.5,405.7 1264.8,407.9 1266.8,411.4C1268.9,414.8 1270.6,420.1 1271.6,425.1C1272.7,430.1 1272.8,438.8 1273,441.5" stroke-width="0.9"/>
<path d="M1275.7,444.3C1277.3,445.2 1282.4,446.6 1285.3,449.8C1288.3,453 1292.1,460.1 1293.6,463.5C1295.1,466.9 1294.1,469.2 1294.3,470.3" stroke-width="1.2"/>
<path d="M1278.5,445.7C1280,446.7 1284.6,448.6 1287.4,451.8C1290.2,455 1293.8,461.5 1295.2,464.9C1296.7,468.2 1295.9,470.6 1296,471.7" stroke-width="0.9"/>
<ellipse cx="1342.9" cy="365.8" rx="19" ry="22" transform="rotate(-35 1342.9 365.8)" stroke-width="1.3"/>
<ellipse cx="1342.9" cy="365.8" rx="17.5" ry="20.5" transform="rotate(-35 1342.9 365.8)" stroke-width="0.8"/>
<ellipse cx="1339.9" cy="367.8" rx="11" ry="14" transform="rotate(-35 1339.9 367.8)" stroke-width="1.1"/>
<path d="M1333.6,349.9 L1338.6,346.4" stroke-width="0.8"/>
<path d="M1336.2,352.1 L1344,346.7" stroke-width="0.8"/>
<path d="M1338.6,354.6 L1348,348" stroke-width="0.8"/>
<path d="M1340.7,357.1 L1351.2,349.8" stroke-width="0.8"/>
<path d="M1342.8,359.8 L1354,352" stroke-width="0.8"/>
<path d="M1344.8,362.5 L1356.3,354.5" stroke-width="0.8"/>
<path d="M1346.8,365.2 L1358.2,357.2" stroke-width="0.8"/>
<path d="M1348.6,368 L1359.7,360.2" stroke-width="0.8"/>
<path d="M1350.4,370.9 L1360.8,363.6" stroke-width="0.8"/>
<path d="M1352,373.8 L1361.4,367.2" stroke-width="0.8"/>
<path d="M1353.5,376.8 L1361.3,371.4" stroke-width="0.8"/>
<path d="M1354.8,380.1 L1359.8,376.6" stroke-width="0.8"/>
<ellipse cx="1365.6" cy="411.4" rx="17" ry="26" transform="rotate(-25 1365.6 411.4)" stroke-width="1.3"/>
<ellipse cx="1365.6" cy="411.4" rx="15.5" ry="24.5" transform="rotate(-25 1365.6 411.4)" stroke-width="0.8"/>
<ellipse cx="1366.6" cy="414.4" rx="9" ry="17" transform="rotate(-25 1366.6 414.4)" stroke-width="1.1"/>
<path d="M1357.5,390.8 L1362.4,388.5" stroke-width="0.8"/>
<path d="M1359.5,393.6 L1366.8,390.2" stroke-width="0.8"/>
<path d="M1361.3,396.5 L1370.1,392.4" stroke-width="0.8"/>
<path d="M1363,399.5 L1372.8,394.9" stroke-width="0.8"/>
<path d="M1364.6,402.5 L1375.2,397.5" stroke-width="0.8"/>
<path d="M1366.2,405.5 L1377.2,400.4" stroke-width="0.8"/>
<path d="M1367.7,408.5 L1378.9,403.3" stroke-width="0.8"/>
<path d="M1369.1,411.6 L1380.3,406.4" stroke-width="0.8"/>
<path d="M1370.5,414.7 L1381.5,409.6" stroke-width="0.8"/>
<path d="M1371.8,417.8 L1382.3,412.9" stroke-width="0.8"/>
<path d="M1373,421 L1382.9,416.4" stroke-width="0.8"/>
<path d="M1374.2,424.2 L1383,420.1" stroke-width="0.8"/>
<path d="M1375.3,427.4 L1382.6,424" stroke-width="0.8"/>
<path d="M1376.1,430.8 L1381,428.5" stroke-width="0.8"/>
<ellipse cx="1242.8" cy="426.5" rx="10.5" ry="22" transform="rotate(-10 1242.8 426.5)" stroke-width="1.6"/>
<ellipse cx="1242.8" cy="426.5" rx="9" ry="20.5" transform="rotate(-10 1242.8 426.5)" stroke-width="0.8"/>
<path d="M1235.8,409 L1243.5,407.6" stroke-width="0.8"/>
<path d="M1233.9,414 L1247,411.7" stroke-width="0.8"/>
<path d="M1233.3,418.8 L1249.1,416" stroke-width="0.8"/>
<path d="M1233.4,423.4 L1250.7,420.4" stroke-width="0.8"/>
<path d="M1234,428 L1251.7,424.9" stroke-width="0.8"/>
<path d="M1235,432.5 L1252.3,429.5" stroke-width="0.8"/>
<path d="M1236.5,436.9 L1252.3,434.1" stroke-width="0.8"/>
<path d="M1238.7,441.2 L1251.8,438.9" stroke-width="0.8"/>
<path d="M1242.2,445.3 L1249.9,443.9" stroke-width="0.8"/>
<ellipse cx="1273" cy="474.5" rx="10" ry="25" transform="rotate(-40 1273 474.5)" stroke-width="1.3"/>
<ellipse cx="1273" cy="474.5" rx="8.5" ry="23.5" transform="rotate(-40 1273 474.5)" stroke-width="0.8"/>
<path d="M1256.6,460.6 L1262.2,455.9" stroke-width="0.8"/>
<path d="M1258,466.3 L1267.6,458.3" stroke-width="0.8"/>
<path d="M1260.4,471.2 L1272,461.5" stroke-width="0.8"/>
<path d="M1263.3,475.7 L1275.9,465.1" stroke-width="0.8"/>
<path d="M1266.5,479.9 L1279.5,469" stroke-width="0.8"/>
<path d="M1270.1,483.8 L1282.7,473.2" stroke-width="0.8"/>
<path d="M1274,487.4 L1285.6,477.7" stroke-width="0.8"/>
<path d="M1278.4,490.6 L1288,482.6" stroke-width="0.8"/>
<path d="M1283.8,493 L1289.4,488.3" stroke-width="0.8"/>
<ellipse cx="1245.6" cy="345.5" rx="8" ry="19" transform="rotate(40 1245.6 345.5)" stroke-width="1.3"/>
<ellipse cx="1245.6" cy="345.5" rx="6.5" ry="17.5" transform="rotate(40 1245.6 345.5)" stroke-width="0.8"/>
<path d="M1253.5,331.7 L1257.9,335.3" stroke-width="1.0"/>
<path d="M1249,333.7 L1256.6,340.1" stroke-width="1.0"/>
<path d="M1245.3,336.5 L1254.5,344.2" stroke-width="1.0"/>
<path d="M1242.1,339.7 L1252,348" stroke-width="1.0"/>
<path d="M1239.2,343.1 L1249.1,351.4" stroke-width="1.0"/>
<path d="M1236.6,346.9 L1245.8,354.6" stroke-width="1.0"/>
<path d="M1234.5,351 L1242.2,357.4" stroke-width="1.0"/>
<path d="M1233.3,355.8 L1237.6,359.4" stroke-width="1.0"/>
<ellipse cx="1367.6" cy="493.7" rx="8" ry="19" transform="rotate(45 1367.6 493.7)" stroke-width="1.3"/>
<ellipse cx="1367.6" cy="493.7" rx="6.5" ry="17.5" transform="rotate(45 1367.6 493.7)" stroke-width="0.8"/>
<path d="M1376.8,480.5 L1380.8,484.5" stroke-width="1.0"/>
<path d="M1374.1,481.3 L1380,487.2" stroke-width="1.0"/>
<path d="M1371.7,482.4 L1378.9,489.5" stroke-width="1.0"/>
<path d="M1369.6,483.6 L1377.6,491.7" stroke-width="1.0"/>
<path d="M1367.6,485.1 L1376.2,493.7" stroke-width="1.0"/>
<path d="M1365.7,486.6 L1374.7,495.6" stroke-width="1.0"/>
<path d="M1363.9,488.2 L1373.1,497.4" stroke-width="1.0"/>
<path d="M1362.2,489.9 L1371.4,499.1" stroke-width="1.0"/>
<path d="M1360.6,491.7 L1369.6,500.7" stroke-width="1.0"/>
<path d="M1359,493.6 L1367.7,502.3" stroke-width="1.0"/>
<path d="M1357.6,495.6 L1365.7,503.7" stroke-width="1.0"/>
<path d="M1356.3,497.8 L1363.5,505" stroke-width="1.0"/>
<path d="M1355.2,500.1 L1361.2,506.1" stroke-width="1.0"/>
<path d="M1354.5,502.8 L1358.5,506.8" stroke-width="1.0"/>
<ellipse cx="1337.5" cy="510.8" rx="18" ry="6" transform="rotate(12 1337.5 510.8)" stroke-width="1.3"/>
<ellipse cx="1337.5" cy="510.8" rx="16.5" ry="4.5" transform="rotate(12 1337.5 510.8)" stroke-width="0.8"/>
<path d="M1331.3,505.3 L1345.3,508.3" stroke-width="1.0"/>
<path d="M1326.6,505.3 L1349.6,510.2" stroke-width="1.0"/>
<path d="M1323.9,505.6 L1351.9,511.6" stroke-width="1.0"/>
<path d="M1322.3,506.2 L1353.1,512.8" stroke-width="1.0"/>
<path d="M1321.5,506.9 L1353.6,513.8" stroke-width="1.0"/>
<path d="M1321.3,507.8 L1353.4,514.7" stroke-width="1.0"/>
<path d="M1321.8,508.8 L1352.6,515.4" stroke-width="1.0"/>
<path d="M1323,510 L1351,516" stroke-width="1.0"/>
<path d="M1325.3,511.4 L1348.3,516.3" stroke-width="1.0"/>
<path d="M1329.6,513.3 L1343.6,516.3" stroke-width="1.0"/>
<path d="M1255.9,327.7C1256.5,326.7 1263.9,322.5 1268.9,320.9C1273.9,319.2 1284.5,317.2 1286,317.6C1287.5,317.9 1281.3,321.3 1277.8,322.9C1274.3,324.5 1268.4,326.2 1264.8,327C1261.1,327.8 1255.2,328.7 1255.9,327.7Z" fill="#000"/>
<path d="M1252.4,333.2C1254.5,333.9 1259.5,337.1 1264.8,337.3C1270,337.5 1280.8,335 1284,334.6" stroke-width="1.6"/>
<path d="M1285.3,337.3 L1289.5,320.9 L1326.5,333.2 L1327.9,346.9 L1318.3,356.5 L1285.3,337.3Z"/>
<path d="M1289.5,320.9 L1286.7,337.3 L1318.3,356.5"/>
<path d="M1314.1,337.3 L1326.5,333.2"/>
<path d="M1314.1,337.3 L1318.3,356.5"/>
<path d="M1290.8,322.2 L1289.7,329.8" stroke-width="0.8"/>
<path d="M1292.5,322.8 L1291.4,330.3" stroke-width="0.8"/>
<path d="M1294.1,323.4 L1293,330.9" stroke-width="0.8"/>
<path d="M1295.8,324 L1294.7,331.5" stroke-width="0.8"/>
<path d="M1297.4,324.5 L1296.3,332.1" stroke-width="0.8"/>
<path d="M1299.1,325.1 L1298,332.7" stroke-width="0.8"/>
<path d="M1300.7,325.7 L1299.6,333.2" stroke-width="0.8"/>
<path d="M1302.3,326.3 L1301.3,333.8" stroke-width="0.8"/>
<path d="M1304,326.8 L1302.9,334.4" stroke-width="0.8"/>
<path d="M1305.6,327.4 L1304.5,335" stroke-width="0.8"/>
<path d="M1307.3,328 L1306.2,335.5" stroke-width="0.8"/>
<path d="M1308.9,328.6 L1307.8,336.1" stroke-width="0.8"/>
<path d="M1310.6,329.1 L1309.5,336.7" stroke-width="0.8"/>
<path d="M1312.2,329.7 L1311.1,337.3" stroke-width="0.8"/>
<path d="M1313.9,330.3 L1312.8,337.8" stroke-width="0.8"/>
<path d="M1315.5,330.9 L1314.4,338.4" stroke-width="0.8"/>
<ellipse cx="1308" cy="346.9" rx="5.5" ry="7" transform="rotate(-20 1308 346.9)"/>
<ellipse cx="1309.3" cy="346.2" rx="3.5" ry="5" transform="rotate(-20 1309.3 346.2)"/>
<ellipse cx="1294.3" cy="334.6" rx="1.2" ry="1.2"/>
<path d="M1229.1,360.6 L1237.3,359.3 L1240.1,367.5 L1239.4,400.4 L1231.9,399 L1227.7,389.4 L1227.1,371.6Z"/>
<ellipse cx="1231.9" cy="374.3" rx="4.5" ry="6"/>
<ellipse cx="1233.2" cy="390.1" rx="1.3" ry="1.3"/>
<path d="M1234.6,346.9 L1236,360.6" stroke-width="1.8"/>
<path d="M1360.8,434.7 L1385.5,436.1 L1388.2,444.3 L1388.2,479.9 L1382.7,488.2 L1366.3,488.2 L1360.8,471.7Z"/>
<path d="M1378.6,438.8 L1380,485.4" stroke-width="3"/>
<path d="M1384.1,444.3 L1385.5,479.9" stroke-width="2"/>
<ellipse cx="1368.3" cy="469" rx="6" ry="7" transform="rotate(-20 1368.3 469)"/>
<ellipse cx="1369" cy="468.3" rx="3.5" ry="4.5" transform="rotate(-20 1369 468.3)"/>
<ellipse cx="1371.7" cy="451.1" rx="1.2" ry="1.2"/>
<path d="M1286.7,493.7 L1299.1,489.5 L1319.6,501.9 L1319.6,511.5 L1297.7,503.3 L1286.7,499.1Z"/>
<ellipse cx="1292.9" cy="496.4" rx="5" ry="5.5"/>
<ellipse cx="1311.4" cy="505.3" rx="1.2" ry="1.2"/>
<path d="M1300.4,480.6 L1301.8,485.4" stroke-width="1.1"/>
<path d="M1305.9,482.3 L1307.3,487.1" stroke-width="1.1"/>
<path d="M1311.4,483.9 L1312.8,488.7" stroke-width="1.1"/>
<path d="M1316.9,485.6 L1318.3,490.4" stroke-width="1.1"/>
<path d="M1322.4,487.2 L1323.7,492" stroke-width="1.1"/>
<path d="M1327.9,488.9 L1329.2,493.7" stroke-width="1.1"/>
<path d="M1333.3,490.5 L1334.7,495.3" stroke-width="1.1"/>
<path d="M1338.8,492.1 L1340.2,496.9" stroke-width="1.1"/>
<path d="M1585.7,345.4 L1588.2,344.3 L1590.9,343.8 L1593.9,343.7 L1597,343.9 L1600,344.3 L1603,344.6 L1605.9,345.1 L1608.7,345.7 L1611.6,346.4 L1614.5,347.3 L1617.4,348.4 L1620.3,349.7 L1623.1,351.1 L1626,352.7 L1628.8,354.4 L1631.7,356.4 L1634.6,358.6 L1637.5,361.2 L1640.7,364.2 L1643.9,367.7 L1647.2,371.4 L1650.4,375.2 L1653.5,379.1 L1656.3,382.8 L1658.8,386.4 L1661.2,390 L1663.4,393.6 L1665.4,397.2 L1667.4,400.8 L1669.2,404.4 L1671,408 L1672.6,411.6 L1674.1,415.2 L1675.5,418.8 L1676.7,422.4 L1677.9,426 L1678.9,429.5 L1679.8,433 L1680.7,436.5 L1681.3,440.1 L1681.9,443.7 L1682.2,447.6 L1682.3,451.8 L1682.3,456.2 L1682.1,460.8 L1681.8,465.4 L1681.3,469.6 L1680.7,473.5 L1680.1,477 L1679.3,480.3 L1678.3,483.4 L1677.3,486.2 L1676.2,488.6 L1675,490.8 L1673.9,492.6 L1672.8,494.2 L1671.7,495.4 L1670.3,496.4 L1668.6,497 L1666.3,497.3 L1663.5,497.2 L1660,496.6 L1656.2,495.7 L1652.2,494.7 L1648.3,493.5 L1644.7,492.2 L1641.4,491 L1638.2,489.6 L1635.1,488.1 L1632.1,486.5 L1629,484.7 L1626,482.9 L1623,480.9 L1620.1,478.8 L1617.1,476.6 L1614.2,474.3 L1611.4,471.8 L1608.7,469.2 L1606.1,466.4 L1603.6,463.4 L1601.1,460.2 L1598.7,457 L1596.5,453.7 L1594.3,450.5 L1592.4,447.2 L1590.5,444 L1588.8,440.7 L1587.2,437.3 L1585.7,433.9 L1584.3,430.3 L1582.9,426.7 L1581.7,422.9 L1580.6,419.1 L1579.6,415.2 L1578.6,411.2 L1577.8,407.3 L1577,403.2 L1576.3,399.1 L1575.6,394.9 L1575.1,390.8 L1574.7,386.7 L1574.5,382.8 L1574.3,379 L1574.3,375.2 L1574.4,371.5 L1574.6,367.9 L1575.1,364.4 L1575.9,361.2 L1577,358.1 L1578.3,354.9 L1579.8,352 L1581.6,349.3 L1583.5,347.1Z" stroke-width="1.1"/>
<path d="M1584.6,343.6 L1587.5,342.3 L1590.7,341.7 L1593.9,341.6 L1597.1,341.8 L1600.3,342.2 L1603.3,342.6 L1606.2,343 L1609.2,343.6 L1612.2,344.4 L1615.2,345.3 L1618.2,346.5 L1621.2,347.8 L1624.1,349.2 L1627,350.8 L1630,352.6 L1632.9,354.7 L1635.9,357 L1639,359.7 L1642.1,362.7 L1645.4,366.2 L1648.8,370 L1652,373.9 L1655.1,377.8 L1658,381.6 L1660.5,385.2 L1662.9,388.9 L1665.2,392.5 L1667.3,396.2 L1669.2,399.8 L1671.1,403.5 L1672.9,407.1 L1674.5,410.8 L1676,414.4 L1677.4,418.1 L1678.7,421.7 L1679.9,425.4 L1680.9,429 L1681.9,432.5 L1682.7,436.1 L1683.4,439.7 L1683.9,443.5 L1684.3,447.5 L1684.4,451.7 L1684.4,456.3 L1684.2,461 L1683.9,465.5 L1683.4,469.9 L1682.8,473.9 L1682.1,477.5 L1681.3,480.9 L1680.3,484 L1679.2,487 L1678,489.6 L1676.8,491.8 L1675.6,493.8 L1674.5,495.5 L1673,497 L1671.2,498.2 L1669,499 L1666.4,499.4 L1663.2,499.2 L1659.6,498.7 L1655.7,497.8 L1651.6,496.7 L1647.7,495.5 L1644,494.2 L1640.7,492.9 L1637.4,491.5 L1634.2,490 L1631,488.3 L1628,486.5 L1624.9,484.6 L1621.9,482.6 L1618.8,480.5 L1615.8,478.3 L1612.9,475.9 L1610,473.4 L1607.2,470.7 L1604.6,467.8 L1602,464.7 L1599.4,461.5 L1597,458.2 L1594.7,454.9 L1592.6,451.6 L1590.6,448.3 L1588.7,445 L1586.9,441.6 L1585.3,438.2 L1583.8,434.7 L1582.3,431.1 L1581,427.3 L1579.7,423.5 L1578.6,419.6 L1577.5,415.7 L1576.6,411.7 L1575.7,407.7 L1574.9,403.6 L1574.2,399.5 L1573.6,395.2 L1573,391 L1572.6,386.9 L1572.4,382.9 L1572.2,379 L1572.2,375.2 L1572.3,371.4 L1572.6,367.6 L1573.1,364 L1573.9,360.6 L1575,357.3 L1576.4,354 L1578,350.9 L1579.9,348 L1582.1,345.5Z" stroke-width="0.9"/>
<path d="M1583.3,341.3 L1586.8,339.8 L1590.4,339.1 L1594,339 L1597.4,339.2 L1600.6,339.6 L1603.6,340 L1606.7,340.4 L1609.8,341 L1612.9,341.9 L1616.1,342.8 L1619.2,344 L1622.3,345.4 L1625.3,346.9 L1628.3,348.6 L1631.4,350.4 L1634.5,352.6 L1637.6,355 L1640.8,357.7 L1644,360.9 L1647.4,364.5 L1650.8,368.3 L1654.1,372.2 L1657.2,376.2 L1660.1,380 L1662.7,383.7 L1665.2,387.5 L1667.4,391.2 L1669.6,394.9 L1671.6,398.6 L1673.5,402.3 L1675.3,406 L1676.9,409.7 L1678.5,413.4 L1679.9,417.2 L1681.2,420.9 L1682.4,424.6 L1683.5,428.3 L1684.4,431.9 L1685.3,435.5 L1686,439.3 L1686.5,443.2 L1686.9,447.3 L1687.1,451.7 L1687,456.4 L1686.8,461.1 L1686.5,465.8 L1686,470.2 L1685.4,474.3 L1684.7,478 L1683.8,481.6 L1682.8,484.9 L1681.7,487.9 L1680.4,490.7 L1679.1,493.2 L1677.8,495.2 L1676.5,497.1 L1674.8,499 L1672.4,500.6 L1669.6,501.6 L1666.5,502 L1663,501.9 L1659.1,501.3 L1655,500.3 L1650.9,499.2 L1646.9,498 L1643.1,496.7 L1639.7,495.4 L1636.3,493.9 L1633,492.3 L1629.8,490.6 L1626.6,488.8 L1623.5,486.9 L1620.4,484.8 L1617.3,482.7 L1614.2,480.4 L1611.2,477.9 L1608.2,475.3 L1605.4,472.5 L1602.6,469.5 L1599.9,466.4 L1597.3,463.1 L1594.9,459.8 L1592.5,456.4 L1590.3,453 L1588.3,449.6 L1586.4,446.2 L1584.6,442.8 L1582.9,439.3 L1581.3,435.7 L1579.9,432 L1578.5,428.2 L1577.2,424.3 L1576.1,420.3 L1575,416.3 L1574,412.3 L1573.2,408.2 L1572.4,404.1 L1571.6,399.9 L1571,395.6 L1570.4,391.3 L1570,387.1 L1569.8,383 L1569.6,379.1 L1569.6,375.2 L1569.7,371.2 L1569.9,367.4 L1570.5,363.5 L1571.4,359.9 L1572.6,356.4 L1574,352.9 L1575.7,349.6 L1577.8,346.5 L1580.3,343.6Z" stroke-width="1.0"/>
<path d="M1581.7,338.6 L1585.9,336.8 L1590.1,336 L1594,335.8 L1597.7,336.1 L1601,336.4 L1604.1,336.8 L1607.2,337.3 L1610.5,338 L1613.8,338.8 L1617.1,339.9 L1620.4,341.1 L1623.6,342.6 L1626.8,344.1 L1629.9,345.9 L1633.1,347.8 L1636.3,350 L1639.6,352.5 L1642.9,355.4 L1646.3,358.7 L1649.7,362.3 L1653.2,366.2 L1656.5,370.3 L1659.7,374.3 L1662.6,378.2 L1665.3,382 L1667.8,385.8 L1670.2,389.6 L1672.3,393.4 L1674.4,397.1 L1676.3,400.9 L1678.1,404.7 L1679.8,408.5 L1681.4,412.3 L1682.9,416.1 L1684.2,419.9 L1685.4,423.7 L1686.5,427.4 L1687.5,431.1 L1688.4,434.9 L1689.1,438.8 L1689.7,442.9 L1690.1,447.1 L1690.2,451.7 L1690.2,456.4 L1690,461.3 L1689.6,466.1 L1689.1,470.6 L1688.5,474.8 L1687.8,478.7 L1686.8,482.4 L1685.8,485.9 L1684.6,489.1 L1683.2,492.1 L1681.8,494.7 L1680.5,496.9 L1679,499.1 L1676.8,501.4 L1673.8,503.4 L1670.3,504.7 L1666.6,505.1 L1662.6,505 L1658.5,504.3 L1654.3,503.4 L1650,502.2 L1645.9,501 L1642.1,499.6 L1638.5,498.3 L1635,496.8 L1631.6,495.1 L1628.3,493.4 L1625,491.5 L1621.8,489.5 L1618.6,487.4 L1615.4,485.2 L1612.3,482.8 L1609.2,480.3 L1606.1,477.6 L1603.1,474.7 L1600.2,471.6 L1597.5,468.4 L1594.8,465 L1592.3,461.6 L1589.9,458.1 L1587.7,454.7 L1585.6,451.2 L1583.6,447.7 L1581.8,444.2 L1580,440.6 L1578.4,436.9 L1576.9,433.1 L1575.5,429.2 L1574.2,425.2 L1573,421.2 L1571.9,417.1 L1571,413 L1570.1,408.9 L1569.3,404.7 L1568.5,400.4 L1567.8,396 L1567.3,391.7 L1566.9,387.4 L1566.6,383.2 L1566.5,379.2 L1566.4,375.1 L1566.5,371.1 L1566.8,367 L1567.4,363 L1568.4,359 L1569.6,355.3 L1571.2,351.6 L1573,348 L1575.3,344.6 L1578.1,341.4Z" stroke-width="0.9"/>
<path d="M1580,335.9 L1585,333.7 L1589.8,332.8 L1594.1,332.7 L1597.9,332.9 L1601.4,333.3 L1604.5,333.7 L1607.8,334.2 L1611.2,334.9 L1614.7,335.8 L1618.1,336.9 L1621.6,338.2 L1625,339.7 L1628.2,341.3 L1631.5,343.1 L1634.8,345.2 L1638.2,347.5 L1641.6,350.1 L1645,353.1 L1648.5,356.5 L1652,360.2 L1655.5,364.2 L1658.9,368.3 L1662.2,372.3 L1665.2,376.3 L1667.9,380.2 L1670.5,384.1 L1672.9,388 L1675.1,391.8 L1677.1,395.7 L1679.1,399.5 L1681,403.3 L1682.7,407.2 L1684.3,411.1 L1685.8,415 L1687.2,418.9 L1688.4,422.8 L1689.5,426.6 L1690.5,430.4 L1691.4,434.2 L1692.2,438.3 L1692.8,442.5 L1693.2,446.9 L1693.4,451.6 L1693.3,456.5 L1693.1,461.5 L1692.7,466.3 L1692.2,471 L1691.6,475.3 L1690.8,479.4 L1689.9,483.3 L1688.8,486.9 L1687.5,490.3 L1686,493.5 L1684.5,496.3 L1683.1,498.6 L1681.5,501 L1678.9,503.7 L1675.3,506.2 L1671,507.7 L1666.7,508.3 L1662.3,508.1 L1657.9,507.4 L1653.5,506.4 L1649.1,505.3 L1644.9,503.9 L1641,502.6 L1637.3,501.2 L1633.7,499.6 L1630.2,497.9 L1626.7,496.1 L1623.4,494.2 L1620.1,492.2 L1616.8,490 L1613.6,487.8 L1610.3,485.3 L1607.1,482.7 L1604,479.9 L1600.9,476.9 L1597.9,473.7 L1595,470.4 L1592.3,466.9 L1589.7,463.4 L1587.3,459.9 L1585,456.3 L1582.9,452.8 L1580.8,449.2 L1579,445.6 L1577.2,441.9 L1575.5,438.1 L1574,434.2 L1572.5,430.2 L1571.2,426.2 L1570,422 L1568.9,417.9 L1567.9,413.7 L1567,409.5 L1566.2,405.3 L1565.4,400.9 L1564.7,396.5 L1564.2,392 L1563.7,387.6 L1563.5,383.3 L1563.3,379.2 L1563.3,375.1 L1563.4,370.9 L1563.7,366.7 L1564.3,362.4 L1565.3,358.1 L1566.7,354.2 L1568.3,350.3 L1570.3,346.4 L1572.8,342.6 L1575.9,339.1Z" stroke-width="1.0"/>
<path d="M1578.4,333.2 L1584.1,330.7 L1589.4,329.7 L1594.1,329.5 L1598.2,329.8 L1601.8,330.2 L1605,330.6 L1608.3,331.1 L1611.9,331.8 L1615.5,332.8 L1619.2,333.9 L1622.8,335.3 L1626.3,336.9 L1629.7,338.5 L1633.1,340.4 L1636.5,342.5 L1640,344.9 L1643.6,347.7 L1647.2,350.8 L1650.8,354.3 L1654.4,358.1 L1657.9,362.1 L1661.4,366.3 L1664.7,370.4 L1667.7,374.4 L1670.5,378.4 L1673.1,382.4 L1675.6,386.4 L1677.8,390.3 L1679.9,394.2 L1681.9,398.1 L1683.8,402 L1685.6,406 L1687.3,409.9 L1688.8,413.9 L1690.2,417.9 L1691.4,421.9 L1692.6,425.7 L1693.6,429.6 L1694.5,433.6 L1695.3,437.8 L1695.9,442.2 L1696.3,446.8 L1696.5,451.6 L1696.5,456.6 L1696.2,461.7 L1695.9,466.6 L1695.4,471.4 L1694.7,475.9 L1693.9,480.1 L1692.9,484.1 L1691.7,487.9 L1690.4,491.5 L1688.9,494.9 L1687.3,497.9 L1685.8,500.3 L1683.9,503 L1681,506.1 L1676.7,509 L1671.7,510.8 L1666.8,511.4 L1662,511.3 L1657.3,510.5 L1652.7,509.5 L1648.3,508.3 L1644,506.9 L1639.9,505.6 L1636.1,504.1 L1632.4,502.5 L1628.7,500.8 L1625.2,498.9 L1621.8,496.9 L1618.4,494.8 L1615.1,492.6 L1611.7,490.3 L1608.4,487.8 L1605.1,485.1 L1601.8,482.2 L1598.6,479.1 L1595.5,475.8 L1592.6,472.4 L1589.8,468.8 L1587.2,465.2 L1584.7,461.6 L1582.3,458 L1580.1,454.4 L1578.1,450.7 L1576.1,447 L1574.3,443.2 L1572.6,439.3 L1571,435.4 L1569.5,431.3 L1568.2,427.1 L1566.9,422.9 L1565.8,418.6 L1564.8,414.4 L1563.9,410.1 L1563.1,405.8 L1562.3,401.4 L1561.6,396.9 L1561,392.4 L1560.6,387.9 L1560.3,383.5 L1560.2,379.3 L1560.1,375.1 L1560.2,370.8 L1560.6,366.3 L1561.2,361.8 L1562.3,357.3 L1563.7,353 L1565.4,348.9 L1567.6,344.8 L1570.3,340.7 L1573.8,336.8Z" stroke-width="1.2"/>
<path d="M1578.5,404.4C1579.7,405.4 1583.7,406.6 1585.7,410.2C1587.7,413.8 1589.7,420.5 1590.7,426C1591.8,431.5 1591.9,440.4 1592.2,443.3" stroke-width="1.2"/>
<path d="M1579.9,405.8C1581.3,407 1585.7,409.4 1587.9,413C1590,416.6 1591.8,422.2 1592.9,427.4C1594,432.7 1594.1,441.8 1594.3,444.7" stroke-width="0.9"/>
<path d="M1597.2,447.6C1598.9,448.6 1604.2,450 1607.3,453.4C1610.4,456.7 1614.4,464.2 1615.9,467.8C1617.5,471.4 1616.5,473.8 1616.7,475" stroke-width="1.2"/>
<path d="M1600.1,449C1601.7,450.1 1606.5,452.2 1609.5,455.5C1612.4,458.9 1616.2,465.7 1617.7,469.2C1619.2,472.7 1618.4,475.2 1618.5,476.4" stroke-width="0.9"/>
<ellipse cx="1667.8" cy="365.2" rx="19.9" ry="23.1" transform="rotate(-35 1667.8 365.2)" stroke-width="1.3"/>
<ellipse cx="1667.8" cy="365.2" rx="18.4" ry="21.5" transform="rotate(-35 1667.8 365.2)" stroke-width="0.8"/>
<ellipse cx="1664.6" cy="367.3" rx="11.6" ry="14.7" transform="rotate(-35 1664.6 367.3)" stroke-width="1.1"/>
<path d="M1658,348.4 L1663.2,344.8" stroke-width="0.8"/>
<path d="M1660.7,350.8 L1668.9,345.1" stroke-width="0.8"/>
<path d="M1663.2,353.4 L1673.1,346.5" stroke-width="0.8"/>
<path d="M1665.5,356.1 L1676.5,348.4" stroke-width="0.8"/>
<path d="M1667.7,358.9 L1679.4,350.7" stroke-width="0.8"/>
<path d="M1669.8,361.7 L1681.8,353.3" stroke-width="0.8"/>
<path d="M1671.8,364.6 L1683.8,356.2" stroke-width="0.8"/>
<path d="M1673.7,367.5 L1685.4,359.3" stroke-width="0.8"/>
<path d="M1675.6,370.5 L1686.6,362.8" stroke-width="0.8"/>
<path d="M1677.3,373.6 L1687.2,366.7" stroke-width="0.8"/>
<path d="M1678.9,376.8 L1687.1,371.1" stroke-width="0.8"/>
<path d="M1680.2,380.2 L1685.5,376.5" stroke-width="0.8"/>
<ellipse cx="1691.5" cy="413" rx="17.9" ry="27.3" transform="rotate(-25 1691.5 413)" stroke-width="1.3"/>
<ellipse cx="1691.5" cy="413" rx="16.3" ry="25.7" transform="rotate(-25 1691.5 413)" stroke-width="0.8"/>
<ellipse cx="1692.6" cy="416.2" rx="9.5" ry="17.9" transform="rotate(-25 1692.6 416.2)" stroke-width="1.1"/>
<path d="M1683.1,391.5 L1688.2,389.1" stroke-width="0.8"/>
<path d="M1685.2,394.4 L1692.8,390.8" stroke-width="0.8"/>
<path d="M1687.1,397.4 L1696.3,393.1" stroke-width="0.8"/>
<path d="M1688.9,400.5 L1699.2,395.7" stroke-width="0.8"/>
<path d="M1690.6,403.7 L1701.6,398.5" stroke-width="0.8"/>
<path d="M1692.2,406.9 L1703.7,401.5" stroke-width="0.8"/>
<path d="M1693.7,410.1 L1705.5,404.6" stroke-width="0.8"/>
<path d="M1695.2,413.3 L1707,407.8" stroke-width="0.8"/>
<path d="M1696.7,416.5 L1708.2,411.2" stroke-width="0.8"/>
<path d="M1698.1,419.8 L1709.2,414.7" stroke-width="0.8"/>
<path d="M1699.4,423.1 L1709.7,418.3" stroke-width="0.8"/>
<path d="M1700.6,426.5 L1709.9,422.2" stroke-width="0.8"/>
<path d="M1701.7,429.9 L1709.4,426.3" stroke-width="0.8"/>
<path d="M1702.6,433.4 L1707.8,431" stroke-width="0.8"/>
<ellipse cx="1562.7" cy="428.9" rx="11" ry="23.1" transform="rotate(-10 1562.7 428.9)" stroke-width="1.6"/>
<ellipse cx="1562.7" cy="428.9" rx="9.5" ry="21.5" transform="rotate(-10 1562.7 428.9)" stroke-width="0.8"/>
<path d="M1555.2,410.5 L1563.4,409.1" stroke-width="0.8"/>
<path d="M1553.3,415.8 L1567,413.4" stroke-width="0.8"/>
<path d="M1552.7,420.8 L1569.3,417.9" stroke-width="0.8"/>
<path d="M1552.8,425.7 L1570.9,422.5" stroke-width="0.8"/>
<path d="M1553.4,430.5 L1572,427.2" stroke-width="0.8"/>
<path d="M1554.4,435.2 L1572.6,432" stroke-width="0.8"/>
<path d="M1556,439.9 L1572.7,437" stroke-width="0.8"/>
<path d="M1558.3,444.4 L1572.1,442" stroke-width="0.8"/>
<path d="M1562,448.7 L1570.1,447.2" stroke-width="0.8"/>
<ellipse cx="1594.3" cy="479.3" rx="10.5" ry="26.2" transform="rotate(-40 1594.3 479.3)" stroke-width="1.3"/>
<ellipse cx="1594.3" cy="479.3" rx="8.9" ry="24.7" transform="rotate(-40 1594.3 479.3)" stroke-width="0.8"/>
<path d="M1577.1,464.8 L1583.1,459.8" stroke-width="0.8"/>
<path d="M1578.6,470.8 L1588.7,462.3" stroke-width="0.8"/>
<path d="M1581.1,475.9 L1593.3,465.6" stroke-width="0.8"/>
<path d="M1584.1,480.6 L1597.4,469.4" stroke-width="0.8"/>
<path d="M1587.5,485 L1601.2,473.5" stroke-width="0.8"/>
<path d="M1591.3,489.1 L1604.6,477.9" stroke-width="0.8"/>
<path d="M1595.4,492.9 L1607.6,482.7" stroke-width="0.8"/>
<path d="M1600,496.3 L1610.1,487.8" stroke-width="0.8"/>
<path d="M1605.6,498.8 L1611.6,493.8" stroke-width="0.8"/>
<ellipse cx="1565.5" cy="343.9" rx="8.4" ry="19.9" transform="rotate(40 1565.5 343.9)" stroke-width="1.3"/>
<ellipse cx="1565.5" cy="343.9" rx="6.8" ry="18.4" transform="rotate(40 1565.5 343.9)" stroke-width="0.8"/>
<path d="M1573.9,329.3 L1578.5,333.2" stroke-width="1.0"/>
<path d="M1569.1,331.5 L1577.1,338.2" stroke-width="1.0"/>
<path d="M1565.3,334.4 L1574.9,342.5" stroke-width="1.0"/>
<path d="M1561.9,337.8 L1572.3,346.5" stroke-width="1.0"/>
<path d="M1558.8,341.4 L1569.2,350.1" stroke-width="1.0"/>
<path d="M1556.2,345.3 L1565.8,353.4" stroke-width="1.0"/>
<path d="M1554,349.6 L1562,356.3" stroke-width="1.0"/>
<path d="M1552.6,354.7 L1557.2,358.5" stroke-width="1.0"/>
<ellipse cx="1693.7" cy="499.4" rx="8.4" ry="19.9" transform="rotate(45 1693.7 499.4)" stroke-width="1.3"/>
<ellipse cx="1693.7" cy="499.4" rx="6.8" ry="18.4" transform="rotate(45 1693.7 499.4)" stroke-width="0.8"/>
<path d="M1703.3,485.6 L1707.5,489.8" stroke-width="1.0"/>
<path d="M1700.5,486.4 L1706.7,492.7" stroke-width="1.0"/>
<path d="M1698,487.6 L1705.6,495.1" stroke-width="1.0"/>
<path d="M1695.8,488.9 L1704.2,497.4" stroke-width="1.0"/>
<path d="M1693.7,490.4 L1702.7,499.5" stroke-width="1.0"/>
<path d="M1691.7,492 L1701.1,501.5" stroke-width="1.0"/>
<path d="M1689.8,493.7 L1699.4,503.4" stroke-width="1.0"/>
<path d="M1688,495.5 L1697.6,505.2" stroke-width="1.0"/>
<path d="M1686.3,497.4 L1695.7,506.9" stroke-width="1.0"/>
<path d="M1684.7,499.4 L1693.7,508.5" stroke-width="1.0"/>
<path d="M1683.2,501.5 L1691.6,510" stroke-width="1.0"/>
<path d="M1681.8,503.8 L1689.4,511.3" stroke-width="1.0"/>
<path d="M1680.7,506.2 L1686.9,512.5" stroke-width="1.0"/>
<path d="M1679.9,509 L1684.1,513.2" stroke-width="1.0"/>
<ellipse cx="1662" cy="517.4" rx="18.9" ry="6.3" transform="rotate(12 1662 517.4)" stroke-width="1.3"/>
<ellipse cx="1662" cy="517.4" rx="17.3" ry="4.7" transform="rotate(12 1662 517.4)" stroke-width="0.8"/>
<path d="M1655.5,511.7 L1670.3,514.8" stroke-width="1.0"/>
<path d="M1650.6,511.6 L1674.8,516.8" stroke-width="1.0"/>
<path d="M1647.8,512 L1677.2,518.2" stroke-width="1.0"/>
<path d="M1646.2,512.6 L1678.5,519.5" stroke-width="1.0"/>
<path d="M1645.3,513.4 L1679,520.6" stroke-width="1.0"/>
<path d="M1645.1,514.3 L1678.8,521.5" stroke-width="1.0"/>
<path d="M1645.6,515.4 L1677.9,522.3" stroke-width="1.0"/>
<path d="M1646.9,516.6 L1676.2,522.9" stroke-width="1.0"/>
<path d="M1649.2,518.1 L1673.4,523.2" stroke-width="1.0"/>
<path d="M1653.8,520 L1668.5,523.2" stroke-width="1.0"/>
<path d="M1576.3,325.2C1577.1,324.1 1584.7,319.8 1590,318C1595.3,316.2 1606.5,314.2 1608,314.5C1609.6,314.9 1603.1,318.5 1599.4,320.2C1595.7,321.8 1589.5,323.6 1585.7,324.5C1581.9,325.3 1575.6,326.3 1576.3,325.2Z" fill="#000"/>
<path d="M1572.7,331C1574.9,331.7 1580.2,335 1585.7,335.3C1591.2,335.5 1602.5,332.9 1605.9,332.4" stroke-width="1.6"/>
<path d="M1607.3,335.3 L1611.6,318 L1650.5,331 L1651.9,345.4 L1641.9,355.4 L1607.3,335.3Z"/>
<path d="M1611.6,318 L1608.7,335.3 L1641.9,355.4"/>
<path d="M1637.5,335.3 L1650.5,331"/>
<path d="M1637.5,335.3 L1641.9,355.4"/>
<path d="M1613.1,319.4 L1611.9,327.4" stroke-width="0.8"/>
<path d="M1614.8,320 L1613.6,328" stroke-width="0.8"/>
<path d="M1616.5,320.6 L1615.4,328.6" stroke-width="0.8"/>
<path d="M1618.3,321.3 L1617.1,329.2" stroke-width="0.8"/>
<path d="M1620,321.9 L1618.8,329.8" stroke-width="0.8"/>
<path d="M1621.7,322.5 L1620.6,330.4" stroke-width="0.8"/>
<path d="M1623.4,323.1 L1622.3,331" stroke-width="0.8"/>
<path d="M1625.2,323.7 L1624,331.6" stroke-width="0.8"/>
<path d="M1626.9,324.3 L1625.7,332.2" stroke-width="0.8"/>
<path d="M1628.6,324.9 L1627.5,332.8" stroke-width="0.8"/>
<path d="M1630.3,325.5 L1629.2,333.4" stroke-width="0.8"/>
<path d="M1632.1,326.1 L1630.9,334" stroke-width="0.8"/>
<path d="M1633.8,326.7 L1632.7,334.6" stroke-width="0.8"/>
<path d="M1635.5,327.3 L1634.4,335.2" stroke-width="0.8"/>
<path d="M1637.3,327.9 L1636.1,335.8" stroke-width="0.8"/>
<path d="M1639,328.5 L1637.8,336.4" stroke-width="0.8"/>
<ellipse cx="1631.1" cy="345.4" rx="5.8" ry="7.4" transform="rotate(-20 1631.1 345.4)"/>
<ellipse cx="1632.5" cy="344.6" rx="3.7" ry="5.2" transform="rotate(-20 1632.5 344.6)"/>
<ellipse cx="1616.7" cy="332.4" rx="1.3" ry="1.3"/>
<path d="M1548.3,359.8 L1556.9,358.3 L1559.8,367 L1559.1,401.5 L1551.1,400.1 L1546.8,390 L1546.1,371.3Z"/>
<ellipse cx="1551.1" cy="374.2" rx="4.7" ry="6.3"/>
<ellipse cx="1552.6" cy="390.7" rx="1.4" ry="1.4"/>
<path d="M1554,345.4 L1555.5,359.8" stroke-width="1.8"/>
<path d="M1686.5,437.5 L1712.4,439 L1715.3,447.6 L1715.3,485 L1709.5,493.7 L1692.3,493.7 L1686.5,476.4Z"/>
<path d="M1705.2,441.8 L1706.7,490.8" stroke-width="3"/>
<path d="M1711,447.6 L1712.4,485" stroke-width="2"/>
<ellipse cx="1694.4" cy="473.5" rx="6.3" ry="7.4" transform="rotate(-20 1694.4 473.5)"/>
<ellipse cx="1695.1" cy="472.8" rx="3.7" ry="4.7" transform="rotate(-20 1695.1 472.8)"/>
<ellipse cx="1698" cy="454.8" rx="1.3" ry="1.3"/>
<path d="M1608.7,499.4 L1621.7,495.1 L1643.3,508.1 L1643.3,518.2 L1620.3,509.5 L1608.7,505.2Z"/>
<ellipse cx="1615.2" cy="502.3" rx="5.2" ry="5.8"/>
<ellipse cx="1634.7" cy="511.7" rx="1.3" ry="1.3"/>
<path d="M1623.1,485.8 L1624.6,490.8" stroke-width="1.1"/>
<path d="M1628.9,487.5 L1630.3,492.5" stroke-width="1.1"/>
<path d="M1634.7,489.2 L1636.1,494.3" stroke-width="1.1"/>
<path d="M1640.4,490.9 L1641.9,496" stroke-width="1.1"/>
<path d="M1646.2,492.7 L1647.6,497.7" stroke-width="1.1"/>
<path d="M1651.9,494.4 L1653.4,499.4" stroke-width="1.1"/>
<path d="M1657.7,496.1 L1659.1,501.2" stroke-width="1.1"/>
<path d="M1663.5,497.9 L1664.9,502.9" stroke-width="1.1"/>
<path d="M870.3,314.3 L879.2,309.5 L893.6,319.8 L893.6,327.3 L884,331.4 L870.3,323.9Z"/>
<path d="M870.3,314.3 L884,322.5 L893.6,319.8"/>
<path d="M884,322.5 L884,331.4"/>
<path d="M872.3,317.7 L881.9,323.2 L881.9,328.7 L872.3,323.2Z"/>
<path d="M873.7,319.8 L880.6,323.9" stroke-width="1.5"/>
<path d="M879.2,309.5C883.5,307.2 898.4,298.7 905.3,295.8C912.1,292.8 916.2,291.8 920.3,291.7C924.5,291.5 928.3,294.5 929.9,295.1"/>
<path d="M893.6,321.1 L929.9,303.3"/>
<path d="M894.3,304.7C895.9,305.1 901.7,305.6 903.9,307.4C906.1,309.3 906.7,314.3 907.3,315.7"/>
<path d="M905.3,296.5C907.3,296.9 914.9,297.4 917.6,299.2C920.3,301 921,306.1 921.7,307.4"/>
<path d="M920.3,291.7C921.7,292.5 927,294.5 928.6,296.5C930.2,298.4 929.7,302.2 929.9,303.3"/>
<path d="M929.9,291C936.6,289.8 959.9,284.9 969.7,284.1C979.5,283.3 984.6,283.4 988.9,286.2C993.3,288.9 995.3,295.7 995.8,300.6C996.2,305.5 994.4,311.5 991.7,315.7C988.9,319.8 983.2,322.1 979.3,325.3C975.4,328.5 970.2,333.3 968.3,334.9"/>
<path d="M929.9,292.9C936.6,291.7 959.9,286.8 969.7,286C979.5,285.2 984.9,285.7 988.9,288.1C992.9,290.5 993.7,296 993.9,300.6C994,305.2 992.5,311.5 989.7,315.7C987,319.8 981.3,322.1 977.4,325.3C973.5,328.5 968.3,333.3 966.4,334.9"/>
<path d="M929.9,294.8C936.6,293.7 959.9,288.8 969.7,288C979.5,287.2 985.2,287.9 988.9,290C992.6,292.1 992.1,296.3 991.9,300.6C991.7,304.8 990.6,311.5 987.8,315.7C985.1,319.8 979.4,322.1 975.5,325.3C971.6,328.5 966.3,333.3 964.5,334.9"/>
<path d="M1505.2,297.6 L1514.2,291.4 L1530.7,300.4 L1530.7,308.7 L1519.7,312.8 L1505.2,305.2Z" stroke-width="1.2"/>
<path d="M1505.2,297.6 L1519.7,305.2 L1530.7,300.4"/>
<path d="M1519.7,305.2 L1519.7,312.8" stroke-width="1.6"/>
<path d="M1507,300.5 L1517.5,306 L1517.5,310.5 L1507,304.8Z"/>
<path d="M1509,302 L1515,305.5" stroke-width="1.4"/>
<path d="M1514.2,291.4 L1531.4,283.1 L1543.9,292.1 L1543.9,297.6 L1530.7,304.5"/>
<path d="M1514,291.5 L1512,289.5"/>
<path d="M1537,285.2C1543,282.3 1558.6,271.6 1572.9,268C1587.2,264.4 1612.2,262.2 1622.6,263.8C1632.9,265.4 1632.9,273.5 1635,277.6C1637.1,281.8 1636.4,284.8 1635,288.7C1633.6,292.6 1630.9,297 1626.7,301.1C1622.5,305.2 1612.9,311.4 1610.1,313.5"/>
<path d="M1538.7,288.5C1544.4,285.6 1558.9,274.9 1572.9,271.3C1586.9,267.7 1612.8,266.1 1622.6,267.1C1632.4,268.2 1630.2,274 1631.7,277.6C1633.2,281.2 1633.1,284.8 1631.7,288.7C1630.3,292.6 1627.4,297 1623.4,301.1C1619.4,305.2 1610.1,311.4 1607.5,313.5"/>
<path d="M1540.3,291.8C1545.7,288.9 1559.2,278.2 1572.9,274.6C1586.6,271 1613.3,269.9 1622.6,270.4C1631.8,270.9 1627.4,274.6 1628.4,277.6C1629.4,280.7 1629.8,284.8 1628.4,288.7C1627,292.6 1624,297 1620.1,301.1C1616.2,305.2 1607.4,311.4 1604.8,313.5"/>
<ellipse cx="578.9" cy="307.8" rx="3.8" ry="5" transform="rotate(-25 578.9 307.8)"/>
<ellipse cx="578.5" cy="308.3" rx="2.2" ry="3.2" transform="rotate(-25 578.5 308.3)"/>
<path d="M576.3,302.8 L591.4,294.6"/>
<path d="M581,312 L609,303.4"/>
<path d="M583,300 L587,310 L585,314"/>
<path d="M586,306 L592,303 L594,307 L588,310Z" stroke-width="1.5"/>
<path d="M591.4,294.6C592.7,294.1 596.8,292.6 599,291.5C601.2,290.4 602.9,287.7 604.6,287.7C606.3,287.7 608.1,289 609,291.5C609.9,294 609.6,300.9 609.7,302.8"/>
<path d="M610.3,282.7 L629.1,272 L636.7,272.6 L637.9,285.8 L611.5,298.4"/>
<ellipse cx="615.3" cy="290" rx="2.5" ry="7" transform="rotate(-15 615.3 290)"/>
<ellipse cx="619.1" cy="288.5" rx="2.5" ry="7" transform="rotate(-15 619.1 288.5)"/>
<path d="M637.9,270.7 L643,270.1 L644.2,278.9 L637.9,282.7"/>
<path d="M644.2,270.7C647.6,269.4 658,264 664.3,262.6C670.6,261.2 675.8,260.9 681.9,262.6C688,264.3 695.3,268 700.8,272.6C706.2,277.2 711.9,284.5 714.6,290.2C717.3,295.9 717.7,302 717.1,306.6C716.5,311.2 714.2,315.4 710.9,317.9C707.5,320.4 699.3,321.1 697,321.7"/>
<path d="M644.9,276.4C648.1,275.1 658.3,270.1 664.3,268.9C670.3,267.6 675,267.4 680.7,268.9C686.4,270.4 693.5,273.7 698.3,277.7C703.1,281.7 707.3,288.1 709.6,292.7C711.9,297.3 712.5,301.5 712.1,305.3C711.7,309.1 709.8,312.9 707.1,315.4C704.4,317.9 697.7,319.6 695.8,320.4"/>
<ellipse cx="1200.7" cy="301.8" rx="3" ry="5" transform="rotate(-25 1200.7 301.8)"/>
<ellipse cx="1200.7" cy="301.8" rx="1.6" ry="3" transform="rotate(-25 1200.7 301.8)"/>
<path d="M1198.6,297.6 L1213.1,290.7"/>
<path d="M1204.2,309.4 L1220,302.2"/>
<path d="M1205.5,299.7 L1214.5,295.6 L1216.6,299.7 L1207.6,303.9Z" stroke-width="1.4"/>
<path d="M1204.9,305.2 L1206.9,310.8"/>
<path d="M1213.1,290.7C1214.2,290 1217.5,286.9 1219.4,286.6C1221.2,286.2 1222.9,286.9 1224.2,288.7C1225.5,290.4 1227.6,294.7 1227,297C1226.3,299.2 1221.2,301.3 1220,302.2"/>
<path d="M1225.6,286.6 L1239.4,277.6 L1243.5,281.8 L1243.5,285.9 L1227,297"/>
<path d="M1243.5,277.6C1247.7,276.5 1261,270.7 1268.4,270.7C1275.7,270.7 1282.2,273.7 1287.7,277.6C1293.2,281.5 1298.8,289.6 1301.5,294.2C1304.3,298.8 1304.5,301.6 1304.3,305.2C1304.1,308.9 1302.4,313.5 1300.1,316.3C1297.8,319 1292.1,320.9 1290.5,321.8"/>
<path d="M1244.2,282.5C1248.2,281.4 1261.6,276.1 1268.4,276.2C1275.2,276.4 1280.1,279.7 1285,283.1C1289.8,286.6 1294.8,292.8 1297.4,297C1299.9,301.1 1300.4,304.8 1300.1,308C1299.9,311.2 1297.8,314.2 1296,316.3C1294.2,318.4 1290.2,319.7 1289.1,320.4"/>
<path d="M664.5,465.5C662.8,464.5 658.1,463 654,459.8C650,456.6 643.6,451.4 640.2,446C636.9,440.6 634.7,431.9 633.8,427.4C632.8,423 633.9,421.5 634.6,419.3C635.2,417.2 637.3,415.3 637.8,414.5"/>
<path d="M637.8,414.5 L630.5,411.2 L628.1,377.2 L633.8,365.1 L636.2,358.6"/>
<path d="M636.2,358.6C636.6,356.6 636.9,350.5 638.6,346.4C640.4,342.4 643.1,337.7 646.7,334.3C650.4,330.9 654.8,328.9 660.5,326.2C666.2,323.5 674.8,319.3 680.7,318.1C686.7,316.9 692.1,318.1 696.1,318.9C700.2,319.7 703.5,322.3 705,323"/>
<path d="M641.1,361.8C641.5,359.5 641.9,352.1 643.5,348.1C645.1,344 647.7,340.5 650.8,337.5C653.9,334.6 657,332.5 662.1,330.2C667.2,327.9 675.9,325 681.5,323.8C687.2,322.6 693.7,323.1 696.1,323"/>
<path d="M705,323 L737.4,335.1 L743.1,341.6 L749.6,357.8 L730.1,374.8 L692.9,342.4 L696.9,329.4 L705,323Z"/>
<path d="M696.9,329.4 L733.4,344 L735,358.6 L730.1,374.8"/>
<path d="M733.4,344 L743.1,341.6"/>
<ellipse cx="718.4" cy="352.9" rx="5" ry="7.5" transform="rotate(-20 718.4 352.9)"/>
<ellipse cx="721.2" cy="352.1" rx="5" ry="7.5" transform="rotate(-20 721.2 352.1)"/>
<path d="M701,323.8 L697.7,329.4" stroke-width="0.9"/>
<path d="M704.2,325.2 L701,330.9" stroke-width="0.9"/>
<path d="M707.4,326.7 L704.2,332.3" stroke-width="0.9"/>
<path d="M710.7,328.1 L707.4,333.8" stroke-width="0.9"/>
<path d="M713.9,329.6 L710.7,335.3" stroke-width="0.9"/>
<path d="M717.2,331.1 L713.9,336.7" stroke-width="0.9"/>
<path d="M720.4,332.5 L717.2,338.2" stroke-width="0.9"/>
<path d="M723.6,334 L720.4,339.6" stroke-width="0.9"/>
<path d="M726.9,335.4 L723.6,341.1" stroke-width="0.9"/>
<path d="M730.1,374.8C726.6,372.6 716,365.9 709.1,361.8C702.2,357.8 694.9,352.2 688.8,350.5C682.8,348.7 677.1,349.3 672.6,351.3C668.2,353.3 664.5,357.4 662.1,362.6C659.7,367.9 658.3,374.1 658.1,382.9C657.8,391.6 657.7,407.2 660.5,415.3C663.3,423.4 672.2,425.4 675.1,431.5C677.9,437.5 676.5,447 677.5,451.7C678.4,456.4 680.2,458.4 680.7,459.8"/>
<path d="M709.1,362.6C705.7,360.3 694.9,351.3 688.8,349.3C682.8,347.2 677.2,348.1 672.6,350.3C668,352.5 664.5,357 661.2,362.4C657.9,367.8 653.7,374.1 652.7,382.9C651.7,391.7 653.2,405.8 655.1,415.3C657,424.7 661.1,432.1 664.1,439.6C667.1,447 671.6,456.4 673.1,459.8"/>
<path d="M708.3,363C705,360.6 694.8,350.7 688.8,348.5C682.9,346.2 677.3,347.4 672.6,349.7C668,352 664.5,356.7 660.8,362.2C657.1,367.8 651.6,374 650.3,382.9C648.9,391.7 650.7,405.8 652.7,415.3C654.7,424.7 659,432.1 662.1,439.6C665.2,447 669.9,456.4 671.5,459.8"/>
<path d="M707.4,363.5C704.3,360.9 694.6,350.1 688.8,347.7C683,345.2 677.4,346.6 672.6,349C667.9,351.4 664.5,356.4 660.5,362.1C656.4,367.7 650,374 648.3,382.9C646.7,391.7 648.7,405.8 650.8,415.3C652.8,424.7 657.2,432.1 660.5,439.6C663.7,447 668.6,456.4 670.2,459.8"/>
<path d="M706.6,363.8C703.7,361 694.5,349.8 688.8,347.2C683.2,344.7 677.4,346.2 672.6,348.7C667.9,351.2 664.5,356.3 660.2,362C655.8,367.7 648.3,374 646.4,382.9C644.5,391.8 646.7,405.8 648.8,415.3C650.9,424.7 655.5,432.1 658.9,439.6C662.2,447 667.2,456.4 668.9,459.8"/>
<path d="M642.7,366.7C642.5,370.7 641.6,381.5 641.9,391C642.1,400.4 642.3,413.9 644.3,423.4C646.3,432.8 650.5,440.6 654,447.7C657.5,454.7 663.5,462.5 665.3,465.5"/>
<path d="M665.3,466.3 L680.7,459 L679.9,453.3"/>
<path d="M634.6,419.3C632.8,421.6 633.1,426.7 633.8,431.5C634.4,436.2 635.5,442.5 638.6,447.7C641.7,452.8 648.2,459.5 652.4,462.2C656.6,464.9 662.9,466.3 663.7,463.8C664.5,461.4 659.8,453.7 657.2,447.7C654.7,441.6 650.5,432.4 648.3,427.4C646.2,422.4 646.6,419 644.3,417.7C642,416.3 636.3,417 634.6,419.3Z"/>
<path d="M634.6,421.7C635.5,421.5 639.3,420.4 640.2,420.1" stroke-width="1.5"/>
<path d="M635.7,426.2C636.7,426 641.1,424.9 642.2,424.6" stroke-width="1.5"/>
<path d="M636.7,430.7C638,430.5 643,429.4 644.2,429.1" stroke-width="1.5"/>
<path d="M637.8,435.2C639.2,435 644.8,433.9 646.2,433.6" stroke-width="1.5"/>
<path d="M638.9,439.7C640.4,439.5 646.6,438.4 648.2,438.1" stroke-width="1.5"/>
<path d="M640,444.2C641.7,444 648.4,442.9 650.1,442.6" stroke-width="1.5"/>
<path d="M641.1,448.7C642.9,448.5 650.3,447.4 652.1,447.1" stroke-width="1.5"/>
<path d="M642.1,453.2C644.1,453 652.1,451.9 654.1,451.6" stroke-width="1.5"/>
<path d="M643.2,457.7C645.4,457.5 653.9,456.4 656.1,456.1" stroke-width="1.5"/>
<path d="M644.3,462.2C646.6,462 655.8,460.9 658.1,460.6" stroke-width="1.5"/>
<path d="M662.1,415.3C663.7,417.3 669.3,422.7 671.8,427.4C674.4,432.1 676.5,439.6 677.5,443.6C678.4,447.7 677.5,450.4 677.5,451.7"/>
<path d="M663.7,425 L668.6,423.4" stroke-width="1.3"/>
<path d="M665.7,429.8 L670.2,428.2" stroke-width="1.3"/>
<path d="M667.6,434.7 L671.8,433.1" stroke-width="1.3"/>
<path d="M669.6,439.6 L673.4,437.9" stroke-width="1.3"/>
<path d="M671.5,444.4 L675.1,442.8" stroke-width="1.3"/>
<path d="M673.4,449.3 L676.7,447.7" stroke-width="1.3"/>
<path d="M662.1,327.4C664.3,325.5 676,319.2 681.5,317.7C687.1,316.2 694.8,317.5 695.3,318.5C695.8,319.5 689.2,321.9 684.8,323.8C680.3,325.6 672.4,328.8 668.6,329.4C664.8,330 659.9,329.4 662.1,327.4Z" fill="#000"/>
<path d="M663.7,331.1C665.9,330.8 672.9,330 676.7,329.4C680.5,328.9 684.8,328.1 686.4,327.8" stroke="#fff"/>
<path d="M658.9,333.5 L662.1,340.8" stroke-width="0.8"/>
<path d="M663.7,333.5 L667,340.8" stroke-width="0.8"/>
<path d="M668.6,333.5 L671.8,340.8" stroke-width="0.8"/>
<path d="M673.4,333.5 L676.7,340.8" stroke-width="0.8"/>
<path d="M678.3,333.5 L681.5,340.8" stroke-width="0.8"/>
<path d="M683.2,333.5 L686.4,340.8" stroke-width="0.8"/>
<path d="M688,333.5 L691.3,340.8" stroke-width="0.8"/>
<path d="M637,360.2C638.2,357.9 641.1,350.5 644.3,346.4C647.5,342.4 654.4,337.7 656.4,335.9" stroke-width="2"/>
<ellipse cx="635" cy="401.5" rx="2.5" ry="3.5"/>
<ellipse cx="632.1" cy="384.5" rx="4" ry="7"/>
<path d="M537.5,631.8 L586,597" stroke-width="5.2"/>
<path d="M538.6,633 L538,630" stroke="#fff" stroke-width="0.75"/>
<path d="M540.6,631.6 L539.9,628.6" stroke="#fff" stroke-width="0.75"/>
<path d="M542.5,630.2 L541.9,627.2" stroke="#fff" stroke-width="0.75"/>
<path d="M544.5,628.8 L543.8,625.8" stroke="#fff" stroke-width="0.75"/>
<path d="M546.4,627.4 L545.8,624.4" stroke="#fff" stroke-width="0.75"/>
<path d="M548.4,626 L547.7,623" stroke="#fff" stroke-width="0.75"/>
<path d="M550.3,624.6 L549.7,621.6" stroke="#fff" stroke-width="0.75"/>
<path d="M552.3,623.2 L551.6,620.2" stroke="#fff" stroke-width="0.75"/>
<path d="M554.2,621.8 L553.6,618.8" stroke="#fff" stroke-width="0.75"/>
<path d="M556.2,620.4 L555.5,617.4" stroke="#fff" stroke-width="0.75"/>
<path d="M558.1,619 L557.5,616" stroke="#fff" stroke-width="0.75"/>
<path d="M560.1,617.6 L559.4,614.6" stroke="#fff" stroke-width="0.75"/>
<path d="M562,616.2 L561.4,613.2" stroke="#fff" stroke-width="0.75"/>
<path d="M564,614.8 L563.3,611.8" stroke="#fff" stroke-width="0.75"/>
<path d="M565.9,613.4 L565.3,610.4" stroke="#fff" stroke-width="0.75"/>
<path d="M567.9,612 L567.2,609" stroke="#fff" stroke-width="0.75"/>
<path d="M569.8,610.6 L569.2,607.6" stroke="#fff" stroke-width="0.75"/>
<path d="M571.8,609.2 L571.1,606.2" stroke="#fff" stroke-width="0.75"/>
<path d="M573.7,607.8 L573.1,604.8" stroke="#fff" stroke-width="0.75"/>
<path d="M575.7,606.4 L575,603.4" stroke="#fff" stroke-width="0.75"/>
<path d="M577.6,605 L577,602" stroke="#fff" stroke-width="0.75"/>
<path d="M579.6,603.6 L578.9,600.6" stroke="#fff" stroke-width="0.75"/>
<path d="M581.5,602.2 L580.9,599.2" stroke="#fff" stroke-width="0.75"/>
<path d="M586,597 L589.2,594.7" stroke-width="1" stroke-dasharray="1 1"/>
<ellipse cx="535.5" cy="633.2" rx="4.8" ry="5.8" transform="rotate(-35 535.5 633.2)" fill="#000"/>
<ellipse cx="536.1" cy="632.8" rx="2.8" ry="3.8" transform="rotate(-35 536.1 632.8)" fill="#fff" stroke-width="0.9"/>
<ellipse cx="613.4" cy="593.9" rx="13.4" ry="17.8" transform="rotate(-15 613.4 593.9)" stroke-width="1.2"/>
<ellipse cx="613.9" cy="594.4" rx="12.4" ry="16.8" transform="rotate(-15 613.9 594.4)" stroke-width="0.7"/>
<ellipse cx="613.4" cy="594.4" rx="5.5" ry="7.4" transform="rotate(-20 613.4 594.4)" stroke-width="1.2"/>
<ellipse cx="613.4" cy="594.4" rx="4.2" ry="6" transform="rotate(-20 613.4 594.4)" stroke-width="0.8"/>
<path d="M825.4,631.9 L876,598.9" stroke-width="5.2"/>
<path d="M826.5,633.1 L826,630.1" stroke="#fff" stroke-width="0.75"/>
<path d="M828.5,631.8 L828,628.8" stroke="#fff" stroke-width="0.75"/>
<path d="M830.5,630.5 L830,627.5" stroke="#fff" stroke-width="0.75"/>
<path d="M832.5,629.2 L832,626.2" stroke="#fff" stroke-width="0.75"/>
<path d="M834.5,627.9 L834,624.9" stroke="#fff" stroke-width="0.75"/>
<path d="M836.5,626.6 L836,623.6" stroke="#fff" stroke-width="0.75"/>
<path d="M838.5,625.3 L838,622.3" stroke="#fff" stroke-width="0.75"/>
<path d="M840.6,624 L840,621" stroke="#fff" stroke-width="0.75"/>
<path d="M842.6,622.6 L842,619.6" stroke="#fff" stroke-width="0.75"/>
<path d="M844.6,621.3 L844.1,618.3" stroke="#fff" stroke-width="0.75"/>
<path d="M846.6,620 L846.1,617" stroke="#fff" stroke-width="0.75"/>
<path d="M848.6,618.7 L848.1,615.7" stroke="#fff" stroke-width="0.75"/>
<path d="M850.6,617.4 L850.1,614.4" stroke="#fff" stroke-width="0.75"/>
<path d="M852.6,616.1 L852.1,613.1" stroke="#fff" stroke-width="0.75"/>
<path d="M854.6,614.8 L854.1,611.8" stroke="#fff" stroke-width="0.75"/>
<path d="M856.6,613.5 L856.1,610.5" stroke="#fff" stroke-width="0.75"/>
<path d="M858.6,612.1 L858.1,609.1" stroke="#fff" stroke-width="0.75"/>
<path d="M860.7,610.8 L860.1,607.8" stroke="#fff" stroke-width="0.75"/>
<path d="M862.7,609.5 L862.1,606.5" stroke="#fff" stroke-width="0.75"/>
<path d="M864.7,608.2 L864.1,605.2" stroke="#fff" stroke-width="0.75"/>
<path d="M866.7,606.9 L866.2,603.9" stroke="#fff" stroke-width="0.75"/>
<path d="M868.7,605.6 L868.2,602.6" stroke="#fff" stroke-width="0.75"/>
<path d="M870.7,604.3 L870.2,601.3" stroke="#fff" stroke-width="0.75"/>
<path d="M876,598.9 L879.3,596.7" stroke-width="1" stroke-dasharray="1 1"/>
<ellipse cx="823.4" cy="633.3" rx="4.8" ry="5.8" transform="rotate(-35 823.4 633.3)" fill="#000"/>
<ellipse cx="823.9" cy="632.9" rx="2.8" ry="3.8" transform="rotate(-35 823.9 632.9)" fill="#fff" stroke-width="0.9"/>
<ellipse cx="902" cy="597.8" rx="13.4" ry="17.8" transform="rotate(-15 902 597.8)" stroke-width="1.2"/>
<ellipse cx="902.5" cy="598.3" rx="12.4" ry="16.8" transform="rotate(-15 902.5 598.3)" stroke-width="0.7"/>
<ellipse cx="902" cy="598.3" rx="5.5" ry="7.4" transform="rotate(-20 902 598.3)" stroke-width="1.2"/>
<ellipse cx="902" cy="598.3" rx="4.2" ry="6" transform="rotate(-20 902 598.3)" stroke-width="0.8"/>
<path d="M1140.4,637 L1187.9,603.6" stroke-width="5.2"/>
<path d="M1141.5,638.2 L1140.8,635.2" stroke="#fff" stroke-width="0.75"/>
<path d="M1143.4,636.8 L1142.8,633.8" stroke="#fff" stroke-width="0.75"/>
<path d="M1145.4,635.4 L1144.8,632.5" stroke="#fff" stroke-width="0.75"/>
<path d="M1147.3,634.1 L1146.7,631.1" stroke="#fff" stroke-width="0.75"/>
<path d="M1149.3,632.7 L1148.7,629.7" stroke="#fff" stroke-width="0.75"/>
<path d="M1151.3,631.3 L1150.6,628.3" stroke="#fff" stroke-width="0.75"/>
<path d="M1153.2,629.9 L1152.6,626.9" stroke="#fff" stroke-width="0.75"/>
<path d="M1155.2,628.5 L1154.6,625.6" stroke="#fff" stroke-width="0.75"/>
<path d="M1157.2,627.2 L1156.5,624.2" stroke="#fff" stroke-width="0.75"/>
<path d="M1159.1,625.8 L1158.5,622.8" stroke="#fff" stroke-width="0.75"/>
<path d="M1161.1,624.4 L1160.5,621.4" stroke="#fff" stroke-width="0.75"/>
<path d="M1163.1,623 L1162.4,620" stroke="#fff" stroke-width="0.75"/>
<path d="M1165,621.6 L1164.4,618.7" stroke="#fff" stroke-width="0.75"/>
<path d="M1167,620.3 L1166.4,617.3" stroke="#fff" stroke-width="0.75"/>
<path d="M1168.9,618.9 L1168.3,615.9" stroke="#fff" stroke-width="0.75"/>
<path d="M1170.9,617.5 L1170.3,614.5" stroke="#fff" stroke-width="0.75"/>
<path d="M1172.9,616.1 L1172.2,613.1" stroke="#fff" stroke-width="0.75"/>
<path d="M1174.8,614.7 L1174.2,611.8" stroke="#fff" stroke-width="0.75"/>
<path d="M1176.8,613.4 L1176.2,610.4" stroke="#fff" stroke-width="0.75"/>
<path d="M1178.8,612 L1178.1,609" stroke="#fff" stroke-width="0.75"/>
<path d="M1180.7,610.6 L1180.1,607.6" stroke="#fff" stroke-width="0.75"/>
<path d="M1182.7,609.2 L1182.1,606.2" stroke="#fff" stroke-width="0.75"/>
<path d="M1187.9,603.6 L1191.2,601.3" stroke-width="1" stroke-dasharray="1 1"/>
<ellipse cx="1138.3" cy="638.4" rx="4.8" ry="5.8" transform="rotate(-35 1138.3 638.4)" fill="#000"/>
<ellipse cx="1138.9" cy="638" rx="2.8" ry="3.8" transform="rotate(-35 1138.9 638)" fill="#fff" stroke-width="0.9"/>
<ellipse cx="1213.3" cy="601.9" rx="13.4" ry="17.8" transform="rotate(-15 1213.3 601.9)" stroke-width="1.2"/>
<ellipse cx="1213.8" cy="602.4" rx="12.4" ry="16.8" transform="rotate(-15 1213.8 602.4)" stroke-width="0.7"/>
<ellipse cx="1213.3" cy="602.4" rx="5.5" ry="7.4" transform="rotate(-20 1213.3 602.4)" stroke-width="1.2"/>
<ellipse cx="1213.3" cy="602.4" rx="4.2" ry="6" transform="rotate(-20 1213.3 602.4)" stroke-width="0.8"/>
<path d="M1465.8,641.5 L1516.9,606.8" stroke-width="5.2"/>
<path d="M1466.9,642.7 L1466.3,639.7" stroke="#fff" stroke-width="0.75"/>
<path d="M1468.9,641.3 L1468.3,638.3" stroke="#fff" stroke-width="0.75"/>
<path d="M1470.8,640 L1470.3,637" stroke="#fff" stroke-width="0.75"/>
<path d="M1472.8,638.6 L1472.3,635.6" stroke="#fff" stroke-width="0.75"/>
<path d="M1474.8,637.3 L1474.2,634.3" stroke="#fff" stroke-width="0.75"/>
<path d="M1476.8,635.9 L1476.2,632.9" stroke="#fff" stroke-width="0.75"/>
<path d="M1478.8,634.6 L1478.2,631.6" stroke="#fff" stroke-width="0.75"/>
<path d="M1480.8,633.2 L1480.2,630.2" stroke="#fff" stroke-width="0.75"/>
<path d="M1482.8,631.9 L1482.2,628.9" stroke="#fff" stroke-width="0.75"/>
<path d="M1484.7,630.5 L1484.2,627.6" stroke="#fff" stroke-width="0.75"/>
<path d="M1486.7,629.2 L1486.2,626.2" stroke="#fff" stroke-width="0.75"/>
<path d="M1488.7,627.8 L1488.1,624.9" stroke="#fff" stroke-width="0.75"/>
<path d="M1490.7,626.5 L1490.1,623.5" stroke="#fff" stroke-width="0.75"/>
<path d="M1492.7,625.2 L1492.1,622.2" stroke="#fff" stroke-width="0.75"/>
<path d="M1494.7,623.8 L1494.1,620.8" stroke="#fff" stroke-width="0.75"/>
<path d="M1496.7,622.5 L1496.1,619.5" stroke="#fff" stroke-width="0.75"/>
<path d="M1498.7,621.1 L1498.1,618.1" stroke="#fff" stroke-width="0.75"/>
<path d="M1500.6,619.8 L1500.1,616.8" stroke="#fff" stroke-width="0.75"/>
<path d="M1502.6,618.4 L1502,615.4" stroke="#fff" stroke-width="0.75"/>
<path d="M1504.6,617.1 L1504,614.1" stroke="#fff" stroke-width="0.75"/>
<path d="M1506.6,615.7 L1506,612.7" stroke="#fff" stroke-width="0.75"/>
<path d="M1508.6,614.4 L1508,611.4" stroke="#fff" stroke-width="0.75"/>
<path d="M1510.6,613 L1510,610" stroke="#fff" stroke-width="0.75"/>
<path d="M1512.6,611.7 L1512,608.7" stroke="#fff" stroke-width="0.75"/>
<path d="M1516.9,606.8 L1520.2,604.6" stroke-width="1" stroke-dasharray="1 1"/>
<ellipse cx="1463.7" cy="642.9" rx="4.8" ry="5.8" transform="rotate(-35 1463.7 642.9)" fill="#000"/>
<ellipse cx="1464.3" cy="642.5" rx="2.8" ry="3.8" transform="rotate(-35 1464.3 642.5)" fill="#fff" stroke-width="0.9"/>
<ellipse cx="1541.7" cy="606.2" rx="13.4" ry="17.8" transform="rotate(-15 1541.7 606.2)" stroke-width="1.2"/>
<ellipse cx="1542.2" cy="606.7" rx="12.4" ry="16.8" transform="rotate(-15 1542.2 606.7)" stroke-width="0.7"/>
<ellipse cx="1541.7" cy="606.7" rx="5.5" ry="7.4" transform="rotate(-20 1541.7 606.7)" stroke-width="1.2"/>
<ellipse cx="1541.7" cy="606.7" rx="4.2" ry="6" transform="rotate(-20 1541.7 606.7)" stroke-width="0.8"/>
<path d="M556.3,795.3C562,791.8 578.3,779.9 590.3,774C602.2,768.1 616.5,761.4 628,760.1C639.5,758.8 648.9,762.8 659.4,766.4C669.9,770 685.6,779 690.9,781.5"/>
<path d="M559.5,801.6C565.7,797.2 584.8,781.1 596.6,775.2C608.4,769.3 620.2,766.8 630.5,766.4C640.8,766 648.8,769.1 658.2,772.7C667.6,776.3 682.3,785.3 687.1,787.8"/>
<path d="M548.2,805.4 L558.9,800.3"/>
<path d="M556.3,795.3 L556,799 L559.5,801.6"/>
<path d="M690.9,781.5 L687,788 L690,791"/>
<path d="M692,781 L695,784 L693,791"/>
<path d="M694.6,782.7 L736.1,802.9 L733,812 L729.8,813"/>
<path d="M699.7,799.1 L729.8,812.9"/>
<ellipse cx="703" cy="791" rx="3.5" ry="7" transform="rotate(25 703 791)"/>
<ellipse cx="705" cy="792" rx="3" ry="6" transform="rotate(25 705 792)"/>
<path d="M894.4,803.2C895.4,801.2 897.9,794.3 900.6,790.9C903.4,787.5 906.9,784.4 910.9,782.6C914.9,780.8 919.5,780 924.6,780.2C929.7,780.4 938.9,783.4 941.7,784"/>
<path d="M897.8,804.6C899.4,802.3 902.9,794.3 907.4,790.9C911.9,787.5 918.3,784.5 924.6,784C930.9,783.5 941.7,787.4 945.1,788.1"/>
<path d="M898.5,808C900.6,805.4 906.5,795.8 910.9,792.2C915.2,788.6 918.5,786.5 924.6,786.4C930.7,786.3 943.4,790.6 947.2,791.5"/>
<path d="M899.9,811.4C900.6,809.7 901.6,804.4 904,801.1C906.4,797.8 910.5,793.4 914.3,791.5C918.1,789.6 921.5,789 926.6,789.5C931.7,790 942,793.5 945.1,794.3"/>
<path d="M894.4,803.2 L897,806 L899.9,811.4"/>
<path d="M942.4,784 L947.2,779.2 L950,794.3 L946.5,800.5 L944.1,795Z" stroke-width="1.4"/>
<path d="M947.9,781.3 L962.3,784.7 L965,787.4 L976.7,789.1 L979.4,801.1 L975.3,806.6 L949.3,799.1Z" stroke-width="1.2"/>
<path d="M951,795 L966,798"/>
<path d="M965,787.4 L967,798 L968,802" stroke-width="1.4"/>
<path d="M1189.5,767.2C1193.9,764.3 1206.9,753.5 1216,749.8C1225.1,746.1 1237.3,746.1 1244.2,744.9C1251.1,743.7 1255.2,742.8 1257.4,742.4"/>
<path d="M1197.8,778.8C1201.4,778.2 1213.8,777.4 1219.3,775.5C1224.8,773.6 1224,770.5 1230.9,767.2C1237.8,763.9 1255.7,757.5 1260.7,755.6"/>
<path d="M1260.7,743.2C1265.1,742.5 1278.2,738.8 1287.3,739.1C1296.4,739.4 1307.4,742.3 1315.4,744.9C1323.4,747.5 1332,753.1 1335.3,754.8"/>
<path d="M1262.4,750.7C1267.9,750 1284.2,745.1 1295.5,746.5C1306.8,747.9 1324.5,756.8 1330.3,758.9"/>
<path d="M1335.3,753.1 L1373.4,783"/>
<path d="M1330.3,759.8 L1365.2,790.4"/>
<path d="M1373.4,783C1373.5,783.8 1375.4,786.8 1374,788C1372.6,789.2 1366.7,790 1365.2,790.4"/>
<ellipse cx="1337" cy="755" rx="3" ry="6" transform="rotate(-30 1337 755)"/>
<ellipse cx="1347" cy="763" rx="3" ry="6" transform="rotate(-30 1347 763)"/>
<ellipse cx="1258" cy="746" rx="3" ry="6" transform="rotate(-15 1258 746)"/>
<path d="M1244,746 L1245,754"/>
<path d="M1225,760 L1229,768"/>
<path d="M1119.9,776.3C1123.5,776.7 1133.1,778.6 1141.4,778.8C1149.7,778.9 1164.9,777.5 1169.6,777.2"/>
<path d="M1121.5,783C1124.8,783.5 1133.9,786 1141.4,786.3C1148.9,786.6 1162.2,784.9 1166.3,784.6"/>
<path d="M1119.9,776.3C1119.6,776.9 1117.7,778.9 1118,780C1118.3,781.1 1120.9,782.5 1121.5,783"/>
<path d="M1133.1,812.8C1135.9,810.3 1144.2,802.6 1149.7,797.9C1155.2,793.2 1163.5,786.8 1166.3,784.6"/>
<path d="M1138.9,817.8C1141.5,815 1149,806.2 1154.7,801.2C1160.4,796.2 1169.9,790.1 1172.9,787.9"/>
<path d="M1133.1,812.8C1133.2,813.7 1133,817.2 1134,818C1135,818.8 1138.1,817.8 1138.9,817.8"/>
<path d="M1109.9,773.9 L1119.1,778"/>
<path d="M1130.7,827.7 L1134,819.4"/>
<path d="M1169.6,773 L1189.5,768"/>
<path d="M1173.7,787.9 L1197.8,779.7"/>
<path d="M1169.6,773C1169.3,774.2 1167.3,777.5 1168,780C1168.7,782.5 1172.8,786.6 1173.7,787.9"/>
<path d="M1189.5,768C1189.8,769 1189.6,772 1191,774C1192.4,776 1196.7,778.8 1197.8,779.7"/>
<path d="M1044.2,1060.6 L1051.7,1060.4 L1058.4,1068.9 L1058.6,1078.1 L1050.2,1078.4 L1044.2,1070.4Z"/>
<path d="M1044.2,1060.6 L1047.9,1055.9 L1051.7,1053.3 L1054.7,1053.5 L1058.1,1056.3 L1065,1066.1"/>
<path d="M1051.7,1060.4 L1057.7,1057.1"/>
<path d="M1058.4,1068.9 L1065,1066.1 L1065,1075.1 L1058.6,1078.1"/>
<path d="M1060.7,1079.4 L1066.3,1075.6 L1066.3,1067.4 L1064.6,1064.9"/>
<path d="M1047.9,1058.4 L1057.3,1056.7 L1064.1,1064.4"/>
<path d="M1058.1,1056.3 L1094.1,1037 L1097.6,1036.1"/>
<path d="M1066.3,1067.4 L1098,1050.7"/>
<path d="M1094.1,1036.6C1094.7,1036.5 1096.4,1035.6 1097.6,1036.1C1098.8,1036.7 1100.6,1038.8 1101.4,1040C1102.3,1041.2 1102.5,1042.2 1102.7,1043.4C1102.9,1044.6 1103.3,1046.1 1102.5,1047.3C1101.7,1048.5 1098.8,1050.1 1098,1050.7"/>
<path d="M1060.7,1056.3C1061.4,1057 1064,1059.1 1065,1060.6C1066,1062 1066.4,1063.6 1066.7,1064.9C1067,1066.1 1066.7,1067.4 1066.7,1067.9"/>
<path d="M1065.6,1053.7C1066.4,1054.4 1068.9,1056.6 1069.9,1058C1070.9,1059.4 1071.4,1061.1 1071.6,1062.3C1071.9,1063.5 1071.6,1064.8 1071.6,1065.3"/>
<path d="M1070.6,1051.1C1071.3,1051.9 1073.9,1054 1074.9,1055.4C1075.9,1056.9 1076.3,1058.5 1076.6,1059.7C1076.9,1060.9 1076.6,1062.2 1076.6,1062.7"/>
<path d="M1075.5,1048.6C1076.2,1049.3 1078.8,1051.4 1079.8,1052.9C1080.8,1054.3 1081.2,1055.9 1081.5,1057.1C1081.8,1058.4 1081.5,1059.6 1081.5,1060.1"/>
<path d="M1080.4,1046C1081.1,1046.7 1083.7,1048.9 1084.7,1050.3C1085.7,1051.7 1086.1,1053.4 1086.4,1054.6C1086.7,1055.8 1086.4,1057.1 1086.4,1057.6"/>
<path d="M1085.4,1043.4C1086.1,1044.1 1088.6,1046.3 1089.6,1047.7C1090.6,1049.1 1091.1,1050.8 1091.4,1052C1091.6,1053.2 1091.4,1054.5 1091.4,1055"/>
<path d="M1090.3,1040.9C1091,1041.6 1093.6,1043.7 1094.6,1045.1C1095.6,1046.6 1096,1048.2 1096.3,1049.4C1096.6,1050.6 1096.3,1051.9 1096.3,1052.4"/>
<path d="M1095.2,1038.3C1095.9,1039 1098.5,1041.1 1099.5,1042.6C1100.5,1044 1100.9,1045.6 1101.2,1046.9C1101.5,1048.1 1101.2,1049.4 1101.2,1049.9"/>
<path d="M1866,1030.1 L1870.1,1027.3 L1873.6,1027.5 L1876.9,1027.9 L1878.9,1031.5 L1873.4,1034.9 L1868.1,1033.5Z"/>
<path d="M1866,1030.1 L1866.2,1035.3 L1868.1,1037.5 L1868.1,1033.5"/>
<path d="M1873.4,1034.9 L1874.1,1039.1 L1878.9,1036.1 L1878.9,1031.5"/>
<path d="M1868.1,1037.5 L1874.1,1039.1"/>
<path d="M1865.1,1033.2C1865.1,1034 1864.4,1036.7 1864.7,1037.9C1865,1039.1 1865.9,1039.9 1866.9,1040.3C1867.9,1040.8 1869.1,1040.7 1870.7,1040.8C1872.4,1040.9 1875.2,1041.3 1876.7,1040.8C1878.3,1040.3 1879.5,1039.2 1880.1,1037.9C1880.6,1036.7 1880.3,1034.3 1880.1,1033.2C1879.9,1032.1 1879.1,1031.8 1878.9,1031.5"/>
<path d="M1868.8,1040.8 L1868.8,1061.6"/>
<path d="M1876,1040.8 L1876,1061.6"/>
<path d="M1868.8,1042.4C1869.4,1042.5 1871.2,1043.4 1872.4,1043.4C1873.6,1043.4 1875.4,1042.5 1876,1042.4"/>
<path d="M1868.8,1045C1869.4,1045.1 1871.2,1046 1872.4,1046C1873.6,1046 1875.4,1045.1 1876,1045"/>
<path d="M1868.8,1047.5C1869.4,1047.7 1871.2,1048.5 1872.4,1048.5C1873.6,1048.5 1875.4,1047.7 1876,1047.5"/>
<path d="M1868.8,1050.1C1869.4,1050.3 1871.2,1051.1 1872.4,1051.1C1873.6,1051.1 1875.4,1050.3 1876,1050.1"/>
<path d="M1868.8,1052.7C1869.4,1052.9 1871.2,1053.7 1872.4,1053.7C1873.6,1053.7 1875.4,1052.9 1876,1052.7"/>
<path d="M1868.8,1055.3C1869.4,1055.5 1871.2,1056.3 1872.4,1056.3C1873.6,1056.3 1875.4,1055.5 1876,1055.3"/>
<path d="M1868.8,1057.9C1869.4,1058.1 1871.2,1058.9 1872.4,1058.9C1873.6,1058.9 1875.4,1058.1 1876,1057.9"/>
<path d="M1868.8,1060.5C1869.4,1060.7 1871.2,1061.5 1872.4,1061.5C1873.6,1061.5 1875.4,1060.7 1876,1060.5"/>
<path d="M1868.8,1061.6C1869,1061.8 1869.9,1062.7 1870.2,1063.2C1870.5,1063.6 1870.2,1064 1870.6,1064.3C1871,1064.6 1871.8,1064.8 1872.4,1064.8C1873,1064.8 1873.8,1064.6 1874.2,1064.3C1874.6,1064 1874.3,1063.6 1874.6,1063.2C1874.9,1062.7 1875.8,1061.8 1876,1061.6"/>
<path d="M1855.5,1083 L1900.3,1056.5 L1912.2,1063.1" stroke-width="0.9"/>
<path d="M1856,1084.2 L1900.3,1057.7 L1911.5,1063.9" stroke-width="0.9"/>
<path d="M1856.4,1085.4 L1900.3,1058.9 L1910.7,1064.8" stroke-width="0.9"/>
<path d="M1855.5,1083 L1897.5,1105 L1941.4,1080.3"/>
<path d="M1857.3,1084.9 L1897.5,1106.1 L1940.5,1081.7"/>
<path d="M1854.6,1083.9 L1855.5,1103.1 L1856.4,1105 L1897.5,1128.3 L1922.2,1129.2 L1929.5,1125.1 L1929.5,1119.1 L1923.1,1115 L1921.3,1112.3 L1925.9,1110.5 L1937.8,1115.9 L1944.2,1115 L1944.2,1110.5 L1941,1098.1 L1941.4,1080.3"/>
<path d="M1855.5,1083.9 L1855.9,1097.7" stroke-width="2"/>
<path d="M1897.5,1105 L1897.5,1121.4 L1941,1098.1"/>
<path d="M1897.5,1121.4 L1915.8,1124.2 L1923.1,1124.2 L1929.5,1121.4"/>
<path d="M1915.8,1124.2 L1916.7,1128.7"/>
<path d="M1923.1,1124.2 L1922.2,1128.7"/>
<path d="M1923.1,1115 L1929.5,1119.1"/>
<path d="M1935,1115.9 L1935,1120.5 L1938.7,1120.5 L1938.7,1115.9"/>
<path d="M1908.5,1071.1C1909.7,1069.3 1913.1,1063.2 1915.8,1060.2C1918.6,1057.1 1921.5,1054.6 1925,1052.9C1928.5,1051.1 1933.2,1050 1936.9,1049.7C1940.5,1049.4 1943.7,1050.2 1946.9,1051C1950.1,1051.9 1954.5,1054.1 1956.1,1054.7"/>
<path d="M1914,1073.9C1915.1,1071.9 1917.8,1065.2 1920.4,1062C1923,1058.8 1926.5,1056.1 1929.5,1054.7C1932.6,1053.3 1934.4,1053.3 1938.7,1053.8C1943,1054.2 1952.4,1056.8 1955.1,1057.4"/>
<path d="M1930.5,1053.3 L1938.7,1053.3" stroke-width="2.5"/>
<path d="M1916.7,1074.8C1917.5,1073.4 1919.5,1069 1921.3,1066.6C1923.1,1064.1 1925.1,1061.4 1927.7,1060.2C1930.3,1059 1934.1,1058.8 1936.9,1059.3C1939.6,1059.7 1941.9,1060.9 1944.2,1062.9C1946.5,1064.9 1948,1068.4 1950.6,1071.1C1953.2,1073.9 1955.1,1076.2 1959.7,1079.4C1964.3,1082.6 1975,1088.5 1978,1090.3"/>
<path d="M1923.1,1077.5C1923.6,1076.3 1924.4,1072.2 1925.9,1070.2C1927.4,1068.2 1930.2,1066.3 1932.3,1065.7C1934.4,1065 1936.9,1065.4 1938.7,1066.6C1940.5,1067.8 1941.9,1070.8 1943.3,1073C1944.6,1075.1 1944.9,1077.4 1946.9,1079.4C1948.9,1081.4 1950.3,1082.1 1955.1,1084.9C1960,1087.6 1972.7,1094 1976.2,1095.8"/>
<path d="M1925.9,1073C1926.6,1072.4 1928.6,1069.8 1930.5,1069.3C1932.3,1068.9 1935.2,1068.9 1936.9,1070.2C1938.5,1071.6 1939.1,1075.4 1940.5,1077.5C1941.9,1079.7 1939.9,1079.7 1945.1,1083C1950.3,1086.4 1967.2,1095.2 1971.6,1097.7"/>
<path d="M1926.8,1073.9 L1940.5,1081.2"/>
<path d="M1925.9,1075.7 L1939.6,1083"/>
<path d="M1956.1,1054.7 L1971.6,1061.5"/>
<path d="M1955.1,1058.3 L1968.9,1066.6"/>
<path d="M1956.1,1054.7C1955.9,1055 1955.3,1055.9 1955.1,1056.5C1955,1057.1 1955.1,1058 1955.1,1058.3"/>
<path d="M1971.6,1061.5C1971,1061.9 1968.4,1062.7 1967.9,1063.8C1967.5,1065 1968.2,1067.3 1968.9,1068.4C1969.5,1069.5 1971.1,1069.9 1971.6,1070.2"/>
<path d="M1971.6,1061.5 L1985.3,1068.4 L1987.1,1073.9 L1981.7,1075.7 L1968.9,1068.4"/>
<path d="M1976.2,1066.6 L1981.7,1065.7 L1985.3,1069.3 L1979.8,1073 L1975.3,1070.2Z" stroke-width="1.8"/>
<path d="M1971.6,1097.7 L1987.1,1089.9 L1989,1093.1 L2005.4,1103.1 L2005.4,1109.5 L1994.5,1114.1 L1975.3,1104.5 L1972.5,1105Z"/>
<path d="M1975.3,1099.5 L1994.5,1108.6 L2005.4,1103.1"/>
<path d="M1994.5,1108.6 L1994.5,1114.1"/>
<path d="M1974.3,1099.5 L1975.3,1104.5"/>
<path d="M1987.1,1089.9 L1975.3,1099.5"/>
<path d="M1995.4,1110 L2004.5,1105.2" stroke-width="0.8"/>
<path d="M1995.4,1110.9 L2004.5,1106.1" stroke-width="0.8"/>
<path d="M1995.4,1111.8 L2004.5,1107" stroke-width="0.8"/>
<path d="M1995.4,1112.7 L2004.5,1107.9" stroke-width="0.8"/>
<path d="M1486.8,1222 L1486.8,1193 L1491.2,1187.6 L1494.8,1188 L1502,1191.2 L1506.8,1195.6 L1509.6,1200 L1510.4,1204 L1510.4,1210.4 L1507.6,1214 L1504.8,1216 L1504.4,1218.4 L1507.6,1220.8 L1512.4,1223.6 L1512.4,1233.6 L1509.2,1236 L1509.2,1262 L1512,1265.2 L1505.2,1267.6 L1508,1274.8 L1508.8,1282.8 L1504,1288.4 L1504,1294 L1507.2,1297.2 L1522,1302.8 L1522.8,1308 L1518,1313.2 L1520,1314 L1524,1319.2 L1526,1324 L1526,1412 L1520.3,1416.7 L1515.8,1414.9 L1502,1403 L1483,1376 L1480,1366.5 L1480,1297.2 L1481.2,1293.2 L1486.8,1289.6 L1486.8,1251 L1484.8,1250 L1484.8,1226 L1486.8,1222Z" stroke-width="1.5"/>
<path d="M1484.6,1250.8 L1506,1263.2" stroke-width="1.4"/>
<path d="M1509.2,1236 L1509.2,1262" stroke-width="3.5"/>
<path d="M1525.8,1326 L1525.8,1411" stroke-width="3.5"/>
<path d="M1494,1189.5C1495.2,1190.1 1499,1191.4 1501,1193C1503,1194.6 1504.8,1197 1506,1199C1507.2,1201 1508.1,1203 1508.5,1205C1508.9,1207 1508.5,1210 1508.5,1211"/>
<ellipse cx="1497.6" cy="1202.4" rx="4.5" ry="7" transform="rotate(-30 1497.6 1202.4)" stroke-width="2.2"/>
<ellipse cx="1498" cy="1275.2" rx="4.5" ry="6.5" transform="rotate(-30 1498 1275.2)" stroke-width="2.2"/>
<path d="M1490.8,1222.8 L1507.2,1232" stroke-width="1.5"/>
<path d="M1487.6,1226.8 L1504,1236" stroke-width="1.5"/>
<path d="M1489.6,1292.8 L1516.4,1306.8" stroke-width="1.5"/>
<path d="M1485.6,1296 L1513.2,1312.4" stroke-width="1.5"/>
<path d="M1505,1300C1505.5,1300.7 1506.8,1303 1508,1304C1509.2,1305 1511.3,1305.7 1512,1306" stroke-width="1.2"/>
<path d="M1505.6,1318.4C1505.9,1318 1506.6,1316.1 1507.6,1315.9C1508.6,1315.7 1510.7,1316.5 1511.6,1317.4C1512.5,1318.3 1513.3,1320.3 1513.1,1321.4C1512.9,1322.5 1511.5,1323.7 1510.6,1323.9C1509.7,1324.1 1508.1,1322.7 1507.6,1322.4" stroke-width="2"/>
<path d="M1505.6,1359.6C1505.9,1359.2 1506.6,1357.3 1507.6,1357.1C1508.6,1356.9 1510.7,1357.7 1511.6,1358.6C1512.5,1359.5 1513.3,1361.5 1513.1,1362.6C1512.9,1363.7 1511.5,1364.9 1510.6,1365.1C1509.7,1365.3 1508.1,1363.8 1507.6,1363.6" stroke-width="2"/>
<path d="M1506.3,1400.6C1506.6,1400.2 1507.3,1398.3 1508.3,1398.1C1509.3,1397.9 1511.4,1398.7 1512.3,1399.6C1513.2,1400.5 1514,1402.5 1513.8,1403.6C1513.6,1404.7 1512.2,1405.9 1511.3,1406.1C1510.4,1406.3 1508.8,1404.8 1508.3,1404.6" stroke-width="2"/>
<path d="M1926.8,1222.1 L1931,1219.2 L1934.6,1219.4 L1938.1,1219.9 L1940.1,1223.6 L1934.4,1227.1 L1929,1225.6Z"/>
<path d="M1926.8,1222.1 L1927,1227.5 L1929,1229.8 L1929,1225.6"/>
<path d="M1934.4,1227.1 L1935.1,1231.5 L1940.1,1228.3 L1940.1,1223.6"/>
<path d="M1929,1229.8 L1935.1,1231.5"/>
<path d="M1925.9,1225.3C1925.8,1226.1 1925.1,1229 1925.4,1230.2C1925.7,1231.5 1926.7,1232.2 1927.7,1232.7C1928.8,1233.2 1930,1233.1 1931.7,1233.2C1933.4,1233.3 1936.3,1233.7 1937.9,1233.2C1939.5,1232.7 1940.8,1231.5 1941.4,1230.2C1941.9,1228.9 1941.6,1226.4 1941.4,1225.3C1941.1,1224.2 1940.3,1223.9 1940.1,1223.6"/>
<path d="M1929.1,1233.2 L1929.1,1253.5"/>
<path d="M1937.7,1233.2 L1937.7,1253.5"/>
<path d="M1929.1,1234.7C1929.8,1234.9 1932,1235.7 1933.4,1235.7C1934.8,1235.7 1937,1234.9 1937.7,1234.7"/>
<path d="M1929.1,1237.3C1929.8,1237.4 1932,1238.3 1933.4,1238.3C1934.8,1238.3 1937,1237.4 1937.7,1237.3"/>
<path d="M1929.1,1239.8C1929.8,1240 1932,1240.8 1933.4,1240.8C1934.8,1240.8 1937,1240 1937.7,1239.8"/>
<path d="M1929.1,1242.4C1929.8,1242.5 1932,1243.4 1933.4,1243.4C1934.8,1243.4 1937,1242.5 1937.7,1242.4"/>
<path d="M1929.1,1244.9C1929.8,1245.1 1932,1245.9 1933.4,1245.9C1934.8,1245.9 1937,1245.1 1937.7,1244.9"/>
<path d="M1929.1,1247.4C1929.8,1247.6 1932,1248.4 1933.4,1248.4C1934.8,1248.4 1937,1247.6 1937.7,1247.4"/>
<path d="M1929.1,1250C1929.8,1250.1 1932,1251 1933.4,1251C1934.8,1251 1937,1250.1 1937.7,1250"/>
<path d="M1929.1,1252.5C1929.8,1252.7 1932,1253.5 1933.4,1253.5C1934.8,1253.5 1937,1252.7 1937.7,1252.5"/>
<path d="M1929.1,1253.5C1929.4,1253.9 1930.5,1254.9 1930.8,1255.5C1931.2,1256 1930.8,1256.5 1931.2,1256.8C1931.7,1257.1 1932.7,1257.4 1933.4,1257.4C1934.1,1257.4 1935.1,1257.1 1935.6,1256.8C1936,1256.5 1935.6,1256 1936,1255.5C1936.3,1254.9 1937.4,1253.9 1937.7,1253.5"/>
<path d="M1905.1,1327.7 L1938.3,1309.4 L1945.1,1312.9"/>
<path d="M1956.6,1319.7 L1971.4,1327.1 L1938.3,1347.1 L1905.1,1327.7"/>
<path d="M1905.1,1327.7 L1908.6,1356.3 L1937.1,1372.3 L1941.7,1371.1 L1969.1,1356.3 L1971.4,1327.1"/>
<path d="M1936,1348.3 L1937.1,1372.3"/>
<path d="M1941.7,1347.1 L1941.7,1371.1"/>
<ellipse cx="1938.3" cy="1329.4" rx="4.6" ry="3.4"/>
<path d="M1946.3,1318.6C1946.2,1312.9 1945,1293 1945.7,1284.3C1946.5,1275.5 1949.4,1270 1950.9,1266C1952.3,1262 1953.7,1261.2 1954.3,1260.3"/>
<path d="M1949.7,1318.6C1949.5,1313 1947.8,1293.6 1948.6,1285.4C1949.3,1277.2 1952.7,1273.2 1954.3,1269.4C1955.9,1265.6 1957.6,1263.7 1958.3,1262.6"/>
<path d="M1953.1,1260.3 L1962.3,1245.4 L1966.9,1246.6 L1958.9,1263.7"/>
<ellipse cx="1956.6" cy="1262" rx="3" ry="4.5" transform="rotate(30 1956.6 1262)"/>
<path d="M1952.6,1322C1952.7,1319.5 1951.9,1311.1 1953.1,1307.1C1954.4,1303.1 1957.7,1300.1 1960,1298C1962.3,1295.9 1965.7,1295.1 1966.9,1294.6"/>
<path d="M1956,1322C1956.1,1319.7 1955.5,1311.7 1956.6,1308.3C1957.6,1304.9 1960.4,1303 1962.3,1301.4C1964.2,1299.9 1967,1299.5 1968,1299.1"/>
<path d="M1966.9,1294.6 L1981.7,1285.4 L1984,1290 L1968,1299.1"/>
<ellipse cx="1974.9" cy="1291.7" rx="3" ry="5" transform="rotate(30 1974.9 1291.7)"/>
<ellipse cx="1980.6" cy="1288.9" rx="3.5" ry="4" transform="rotate(30 1980.6 1288.9)"/>
<path d="M943.3,1575.9 L946.3,1574.7 L950.1,1573.2 L954.6,1571.3 L959.7,1569.3 L965.2,1567.2 L971,1565.2 L977,1563.3 L983.1,1561.7 L989.6,1560.2 L996.5,1558.7 L1003.9,1557.1 L1011.4,1555.7 L1019.1,1554.5 L1026.9,1553.6 L1034.5,1553 L1041.9,1552.9 L1049.2,1553.1 L1056.6,1553.8 L1064,1554.7 L1071.5,1556 L1078.9,1557.5 L1086.2,1559.2 L1093.5,1561.1 L1100.5,1563.1 L1107.6,1565.5 L1115.1,1568.4 L1122.5,1571.6 L1129.9,1575 L1136.9,1578.4 L1143.3,1581.5 L1148.9,1584.4 L1153.6,1586.7 L1157,1588.6 L1159.5,1590.1 L1161.1,1591.3 L1162.2,1592.2 L1162.8,1592.9 L1163.4,1593.6 L1164.1,1594.5 L1164.8,1595.2"/><path d="M941.4,1570.7 L944.3,1569.6 L948.1,1568.1 L952.6,1566.2 L957.7,1564.2 L963.3,1562 L969.3,1559.9 L975.5,1558 L981.8,1556.4 L988.4,1554.8 L995.4,1553.3 L1002.8,1551.8 L1010.5,1550.3 L1018.4,1549.1 L1026.3,1548.1 L1034.2,1547.5 L1041.9,1547.4 L1049.5,1547.7 L1057.2,1548.3 L1064.8,1549.3 L1072.5,1550.6 L1080.1,1552.1 L1087.6,1553.9 L1094.9,1555.8 L1102.2,1557.9 L1109.5,1560.4 L1117.1,1563.3 L1124.8,1566.6 L1132.2,1570 L1139.3,1573.4 L1145.7,1576.6 L1151.4,1579.5 L1156.1,1581.9 L1159.7,1583.8 L1162.5,1585.5 L1164.6,1587 L1166,1588.3 L1167.1,1589.4 L1167.7,1590.3 L1168.1,1590.8 L1168.6,1591.2"/>
<path d="M1033,1542.7C1034,1544.2 1038.7,1548.6 1038.9,1551.6C1039.2,1554.6 1035.2,1559 1034.5,1560.5"/>
<path d="M1040.4,1539.7C1041.2,1541.2 1044.9,1545.4 1044.9,1548.6C1044.9,1551.9 1041.2,1557.3 1040.4,1559"/>
<path d="M883,1660.9 L887.5,1657.8 L893.5,1653.6 L900.7,1648.7 L908.6,1643.2 L917,1637.6 L925.6,1632 L934.1,1626.9 L942.1,1622.4 L950,1618.4 L957.9,1614.6 L966,1611 L974.2,1607.6 L982.4,1604.3 L990.7,1601.3 L998.9,1598.4 L1007,1595.8 L1015.2,1593.4 L1023.5,1591.2 L1031.9,1589.2 L1040.2,1587.4 L1048.5,1585.8 L1056.5,1584.4 L1064.3,1583.4 L1071.8,1582.6 L1079.1,1582.1 L1086.2,1581.9 L1093.2,1582 L1100,1582.4 L1106.6,1583 L1112.9,1583.7 L1118.9,1584.5 L1124.6,1585.5 L1130,1586.7 L1135.2,1588.3 L1140.4,1590.2 L1145.2,1592.2 L1149.7,1594.2 L1153.6,1596 L1157,1597.6 L1159.7,1598.7"/><path d="M879.9,1656.3 L884.4,1653.3 L890.4,1649.1 L897.5,1644.1 L905.5,1638.7 L914,1633 L922.7,1627.4 L931.3,1622.1 L939.6,1617.5 L947.5,1613.5 L955.6,1609.6 L963.8,1605.9 L972.1,1602.5 L980.5,1599.2 L988.8,1596.1 L997.2,1593.2 L1005.4,1590.6 L1013.7,1588.1 L1022.2,1585.9 L1030.7,1583.8 L1039.1,1582 L1047.5,1580.4 L1055.7,1579 L1063.7,1577.9 L1071.4,1577.1 L1078.9,1576.6 L1086.2,1576.4 L1093.4,1576.5 L1100.4,1576.9 L1107.1,1577.5 L1113.6,1578.2 L1119.8,1579.1 L1125.6,1580.1 L1131.4,1581.4 L1137,1583.1 L1142.3,1585.1 L1147.4,1587.2 L1151.9,1589.2 L1155.9,1591 L1159.2,1592.6 L1161.8,1593.6"/>
<path d="M1000.3,1585.8C1001.5,1587.5 1007.2,1592.5 1007.7,1596.2C1008.2,1599.9 1004,1606.1 1003.3,1608.1"/>
<path d="M1007.7,1582.8C1008.7,1584.8 1013.4,1590.7 1013.7,1594.7C1013.9,1598.7 1009.9,1604.6 1009.2,1606.6"/>
<path d="M888.4,1664.1 L893.5,1661.9 L900.4,1658.9 L908.5,1655.4 L917.4,1651.5 L926.8,1647.5 L936.3,1643.6 L945.3,1640.2 L953.6,1637.4 L961.2,1635.2 L968.8,1633.2 L976.3,1631.4 L983.7,1629.8 L991,1628.5 L998.3,1627.3 L1005.4,1626.4 L1012.4,1625.7 L1019.4,1625.2 L1026.4,1624.9 L1033.4,1624.9 L1040.3,1625 L1047,1625.4 L1053.5,1625.8 L1059.6,1626.4 L1065.3,1627.1 L1070.6,1628 L1075.6,1629 L1080.4,1630.2 L1084.9,1631.6 L1089.1,1633 L1093.1,1634.5 L1096.8,1635.9 L1100.2,1637.3 L1103.3,1638.8 L1106,1640.3 L1108.5,1642 L1110.8,1643.6 L1112.8,1645.2 L1114.6,1646.7 L1116.2,1647.9 L1117.5,1648.9"/><path d="M886.3,1659 L891.4,1656.9 L898.1,1653.9 L906.3,1650.3 L915.3,1646.4 L924.7,1642.4 L934.3,1638.5 L943.5,1635 L951.9,1632.2 L959.8,1629.9 L967.5,1627.8 L975.1,1626 L982.7,1624.4 L990.1,1623 L997.5,1621.9 L1004.8,1620.9 L1011.9,1620.2 L1019.1,1619.7 L1026.3,1619.4 L1033.5,1619.4 L1040.5,1619.5 L1047.3,1619.9 L1053.9,1620.4 L1060.2,1621 L1066,1621.7 L1071.6,1622.6 L1076.9,1623.7 L1081.9,1624.9 L1086.6,1626.3 L1091,1627.8 L1095.1,1629.3 L1098.9,1630.8 L1102.4,1632.3 L1105.8,1633.9 L1108.9,1635.6 L1111.7,1637.4 L1114.1,1639.2 L1116.3,1640.9 L1118.1,1642.4 L1119.6,1643.6 L1120.8,1644.5"/>
<path d="M1050.8,1614C1051.8,1615.7 1056.8,1620.9 1056.8,1624.4C1056.8,1627.9 1051.8,1633.1 1050.8,1634.8"/>
<path d="M1058.2,1612.5C1059,1614.3 1062.7,1619.5 1062.7,1622.9C1062.7,1626.4 1059,1631.6 1058.2,1633.3"/>
<path d="M1145.9,1597.7 L1171.2,1583.7 L1214.3,1609.6 L1214.3,1620 L1192,1631.8 L1147.4,1609.6Z"/>
<path d="M1145.9,1597.7 L1190.5,1622.3 L1214.3,1609.6"/>
<path d="M1190.5,1622.3 L1192,1631.8"/>
<path d="M1153.3,1602.1 L1153.3,1612.5"/>
<ellipse cx="1197" cy="1622.3" rx="2" ry="3"/>
<ellipse cx="1203" cy="1619.4" rx="2" ry="3"/>
<ellipse cx="1208.3" cy="1616.1" rx="2" ry="3"/>
<path d="M835.4,1676.4 L875.5,1652.6 L888.8,1661.6 L888.8,1672 L851.7,1692.8 L835.4,1683.8Z"/>
<path d="M835.4,1676.4 L851.7,1685.3 L888.8,1664.5"/>
<path d="M851.7,1685.3 L851.7,1692.8"/>
<path d="M857.6,1664.5 L875.5,1674.9"/>
<path d="M863.6,1660.1 L881.4,1670.5"/>
<path d="M838.3,1679.4 L848.7,1685.3 L848.7,1689.8 L838.3,1683.8Z"/>
<ellipse cx="1134" cy="1661.6" rx="14" ry="10" transform="rotate(20 1134 1661.6)"/>
<ellipse cx="1132.5" cy="1661.6" rx="6" ry="4" transform="rotate(20 1132.5 1661.6)"/>
<path d="M1110.2,1643.7 L1119.2,1637.8 L1128.1,1649.7 L1122.1,1655.6Z"/>
<ellipse cx="893.3" cy="1596.2" rx="4" ry="7" transform="rotate(20 893.3 1596.2)"/>
<path d="M890.3,1588.8 L914.1,1577.8"/>
<path d="M896.9,1604.5 L921.5,1593.8"/>
<path d="M900.7,1587.9 L909.7,1584.3 L911.7,1596.2 L902.8,1599.7Z" fill="#000"/>
<path d="M896.3,1604.5 L894.8,1608.1"/>
<path d="M914.1,1577.8C915.1,1578.1 918.6,1577.2 920.1,1579.8C921.5,1582.5 922.5,1591.5 923,1593.8"/>
<path d="M920.1,1578.9 L940.9,1567.9"/>
<path d="M923,1591.7 L943.8,1578.9"/>
<path d="M938.5,1567.4C939.4,1568.2 942.9,1570.5 943.8,1572.4C944.7,1574.3 943.8,1577.9 943.8,1578.9"/>
<path d="M842.3,1622.9C838.6,1623.6 841.4,1625.5 842,1626.9C842.6,1628.2 844.6,1629.9 846,1630.9C847.4,1631.8 848.8,1632.3 850.6,1632.6C852.4,1632.9 854.9,1633.1 856.9,1632.6C858.9,1632 861.2,1630.1 862.6,1629.1C863.9,1628.2 864.6,1628 864.9,1626.9C865.1,1625.8 868,1623.2 864.3,1622.6C860.5,1621.9 846,1622.1 842.3,1622.9Z" fill="#000"/>
<path d="M838.6,1601.7 L840.3,1599.7 L844.3,1599.4 L848.9,1599.1 L850,1601.1" stroke-width="1.8"/>
<path d="M838.9,1601.7 L839.1,1620.9 L842,1621.1 L842.3,1622.9" stroke-width="1.8"/>
<path d="M844.9,1603.4 L845.1,1621.1" stroke-width="2.2"/>
<path d="M847.7,1604.9 L848,1617.1 L850.6,1617.1" stroke-width="1.8"/>
<path d="M851.7,1598.3 L861.4,1588 L867.1,1591.4 L867.1,1612.6 L864.9,1612.9 L864.3,1622" stroke-width="2"/>
<path d="M852.9,1598.9 L858.6,1591.4 L863.7,1591.4 L864.3,1592.9" stroke-width="1.6"/>
<path d="M855.1,1600 L864.3,1592 L864.3,1611.4 L860,1614.3 L850,1618.6Z" fill="#000" stroke-width="1"/>
<path d="M859.1,1602.3 L862,1600.6 L862.9,1606.9 L859.7,1606.6Z" fill="#fff" stroke="none"/>
<path d="M848.9,1607.4 L855.7,1605.7 L860.9,1608.6 L861.4,1611.1" stroke="#000" stroke-width="1.8"/>
<path d="M848.3,1605.7 L852.9,1605.7 L855.7,1603.4" stroke-width="1.8"/>
<path d="M845.4,1621.4 L850.6,1621.7 L857.4,1621.4 L861.4,1619.4" stroke-width="1.8"/>
<ellipse cx="504.3" cy="1796.5" rx="51" ry="25"/>
<ellipse cx="504.3" cy="1794.8" rx="44.2" ry="17.7"/>
<path d="M416.6,1802.9C421.4,1800.3 436.6,1791.9 445.7,1787.4C454.9,1783 463.4,1778.9 471.4,1776.3C479.4,1773.7 486,1772.4 493.7,1771.7C501.4,1770.9 510,1770.9 517.7,1771.7C525.4,1772.4 531.4,1773.4 540,1776.3C548.6,1779.2 555.7,1782 569.1,1789.1C582.6,1796.3 612,1814.1 620.6,1819.1"/>
<path d="M423.4,1806.3C428.9,1803.7 450.6,1793.4 456,1790.9"/>
<path d="M555.4,1793.4C565.4,1798.7 605.4,1819.9 615.4,1825.1"/>
<path d="M371.1,1820.9 L391.7,1808 L406.3,1799.8 L424.3,1809.7 L424.3,1819.1 L389.1,1838.9 L371.1,1828.6Z"/>
<path d="M371.1,1820.9 L389.1,1831.1 L424.3,1809.7"/>
<path d="M389.1,1831.1 L389.1,1838.9"/>
<path d="M391.7,1808 L409.7,1818.3"/>
<path d="M393.4,1811.4 L410.6,1820.3"/>
<path d="M372.9,1824.3 L388.3,1832.9" stroke-width="0.9"/>
<path d="M372.9,1827.4 L388.3,1835.9" stroke-width="0.9"/>
<path d="M372.9,1830.5 L388.3,1839" stroke-width="0.9"/>
<path d="M372.9,1833.5 L388.3,1842.1" stroke-width="0.9"/>
<path d="M620.6,1819.1 L632.6,1825.1"/>
<path d="M615.4,1825.1 L631.7,1833.7"/>
<ellipse cx="622.3" cy="1827.7" rx="2.5" ry="6" transform="rotate(20 622.3 1827.7)"/>
<ellipse cx="636" cy="1832.9" rx="3" ry="7.5" transform="rotate(20 636 1832.9)"/>
<path d="M639.4,1829.4 L651.4,1837.1"/>
<path d="M637.7,1839.7 L648,1845.7"/>
<ellipse cx="649.7" cy="1842.3" rx="3.5" ry="5" transform="rotate(20 649.7 1842.3)"/>
<ellipse cx="650.6" cy="1841.9" rx="2" ry="3" transform="rotate(20 650.6 1841.9)"/>
<ellipse cx="495.3" cy="1946" rx="55.1" ry="26.7"/>
<ellipse cx="496.3" cy="1943.9" rx="48" ry="18.5"/>
<path d="M398.2,1953.2C402.3,1951.1 410.5,1946.3 422.9,1940.9C435.2,1935.4 458.5,1924.1 472.2,1920.3C485.9,1916.4 493.5,1916.6 505.1,1917.8C516.8,1919 528.5,1922.6 542.2,1927.5C555.9,1932.4 573,1939.7 587.4,1947C601.8,1954.4 621.7,1967.6 628.6,1971.7"/>
<path d="M402.3,1959.4C407.8,1957 427,1948.6 435.2,1945C443.4,1941.4 448.9,1939 451.7,1937.8"/>
<path d="M550.4,1948.1 L618.3,1978.9"/>
<path d="M548.3,1956.3 L610.1,1988.2"/>
<path d="M455.8,1951.1C463,1949.4 484.9,1942.2 499,1940.9C513,1939.5 533.3,1942.6 540.1,1942.9"/>
<path d="M464,1958.3C470.2,1956.8 488,1950.3 501,1949.1C514.1,1947.9 535.3,1950.8 542.2,1951.1"/>
<path d="M377.6,1967.6 L399.2,1954.2"/>
<path d="M379.7,1970.7 L402.3,1958.3"/>
<ellipse cx="401.3" cy="1956.3" rx="2" ry="4" transform="rotate(30 401.3 1956.3)"/>
<ellipse cx="378.2" cy="1969.2" rx="1.5" ry="1.8" transform="rotate(30 378.2 1969.2)"/>
<path d="M371.4,2006.7 L453.7,1957.3"/>
<path d="M377.6,2013.9 L455.8,1964.5"/>
<ellipse cx="349.8" cy="2030.3" rx="18.5" ry="12.3" transform="rotate(-8 349.8 2030.3)"/>
<ellipse cx="348.8" cy="2029.3" rx="9.9" ry="6.2" transform="rotate(-8 348.8 2029.3)"/>
<path d="M360.1,2010.8 L371.4,2004.6 L378.6,2010.8 L367.3,2018Z"/>
<path d="M367.3,2018C367.5,2019.2 368.9,2022.3 368.3,2025.2C367.8,2028.1 364.9,2033.8 364.2,2035.5"/>
<path d="M609,1983 L630.6,1970.7 L676.9,1997.4 L676.9,2007.7 L654.3,2021.1 L609,1995.4Z"/>
<path d="M609,1983 L654.3,2008.7 L676.9,1997.4"/>
<path d="M654.3,2008.7 L654.3,2021.1"/>
<path d="M628.6,1993.3 L649.1,1981"/>
<path d="M632.7,1996.4 L652.2,1985.1"/>
<path d="M657.4,2011.8 L674.9,2002" stroke-width="0.9"/>
<path d="M657.4,2014.7 L674.9,2004.8" stroke-width="0.9"/>
<path d="M657.4,2017.6 L674.9,2007.7" stroke-width="0.9"/>
<path d="M370.8,2179.2C378,2173.2 398.8,2152.4 414,2143.2C429.2,2134 448,2128.2 462,2124C476,2119.8 486,2119 498,2118C510,2117 520.4,2116.6 534,2118C547.6,2119.4 572,2125 579.6,2126.4"/>
<path d="M375.6,2182.8C382.8,2177.4 404.4,2159 418.8,2150.4C433.2,2141.8 448.8,2135.6 462,2131.2C475.2,2126.8 486,2125.2 498,2124C510,2122.8 520.8,2122.6 534,2124C547.2,2125.4 570,2131 577.2,2132.4"/>
<path d="M576,2132.4 L586.8,2125.2 L609.6,2138.4 L609.6,2144.4 L598.8,2150.4 L576.7,2137.2Z"/>
<path d="M576.7,2132.4 L598.8,2144.4 L609.6,2138.4"/>
<path d="M598.8,2144.4 L598.8,2150.4"/>
<path d="M586.8,2138.4 L598.8,2131.2"/>
<path d="M600.7,2146.8 L608.4,2142.5" stroke-width="0.8"/>
<path d="M600.7,2148 L608.4,2143.7" stroke-width="0.8"/>
<path d="M600.7,2149.2 L608.4,2144.9" stroke-width="0.8"/>
<path d="M345.6,2198.4 L366,2179.2 L379.2,2186.4 L379.2,2192.4 L360,2206.8 L346.3,2202Z"/>
<path d="M355.2,2187.6 L376.8,2191.2"/>
<path d="M356.9,2184 L378,2186.9"/>
<path d="M347.3,2198.9 L360,2202 L379.2,2186.4"/>
<path d="M360,2202 L360,2206.8"/>
<path d="M349.2,2200.8 L357.6,2203.2" stroke-width="2"/>
<path d="M995.7,1988.1C996.2,1986.9 996.7,1983.8 998.7,1980.9C1000.8,1977.9 1004.7,1972.6 1008,1970.6C1011.3,1968.5 1014.2,1968.3 1018.3,1968.5C1022.4,1968.8 1030.3,1971.5 1032.7,1972.1"/>
<path d="M1001.8,1989.1C1002.2,1987.7 1002,1983.8 1003.9,1980.9C1005.8,1977.9 1009.9,1973.5 1013.1,1971.6C1016.4,1969.7 1020,1969 1023.4,1969.5C1026.9,1970.1 1032,1973.8 1033.7,1974.7"/>
<path d="M1003.9,1991.1C1004.7,1989.4 1006.6,1983.7 1009,1980.9C1011.4,1978 1014.2,1975.2 1018.3,1974.2C1022.4,1973.1 1031.1,1974.6 1033.7,1974.7"/>
<path d="M1007,1993.2C1007.8,1991.5 1009.7,1985.9 1012.1,1982.9C1014.5,1979.9 1017.8,1976.6 1021.4,1975.2C1025,1973.8 1031.7,1974.8 1033.7,1974.7"/>
<path d="M995.7,1988.1 L995.1,1996.3 L997.7,2001.4 L1013.1,2011.7 L1013.1,2000.4 L995.7,1988.1"/>
<path d="M1013.1,2000.4C1014,1998 1015.7,1989.9 1018.3,1986C1020.9,1982.1 1024.8,1978.5 1028.6,1976.7C1032.3,1974.9 1037,1974.5 1040.9,1975.2C1044.9,1975.9 1050.3,1979.9 1052.2,1980.9"/>
<path d="M1013.1,2011.7C1013.5,2012.6 1013.5,2015.1 1015.2,2016.9C1016.9,2018.6 1021,2020.3 1023.4,2022C1025.8,2023.7 1027.2,2026.3 1029.6,2027.1C1032,2028 1036.5,2027.1 1037.8,2027.1"/>
<path d="M1014.2,2000.4C1014,2001.6 1013.1,2005 1013.1,2007.6C1013.1,2010.2 1014,2014.5 1014.2,2015.8"/>
<path d="M1026.5,2026.1C1026.2,2023.7 1023.9,2016.7 1024.5,2011.7C1025,2006.7 1026.7,2000.9 1029.6,1996.3C1032.5,1991.7 1038.3,1986.3 1041.9,1983.9C1045.5,1981.5 1048.5,1981.5 1051.2,1981.9C1053.9,1982.2 1056.9,1983.6 1058.4,1986C1059.9,1988.4 1060.5,1992.7 1060.5,1996.3C1060.5,1999.9 1059.6,2004.7 1058.4,2007.6C1057.2,2010.5 1054.1,2012.7 1053.3,2013.8"/>
<path d="M1030.6,2025.1C1030.5,2022.9 1029.1,2016.2 1029.6,2011.7C1030.1,2007.3 1031.3,2002.5 1033.7,1998.3C1036.1,1994.2 1041.1,1989.3 1044,1987C1046.9,1984.7 1049,1984.1 1051.2,1984.5C1053.4,1984.8 1056.3,1988.3 1057.4,1989.1"/>
<path d="M1037.8,2027.1C1037.8,2024.6 1037.1,2015.5 1037.8,2011.7C1038.5,2007.9 1040.2,2006.4 1041.9,2004.5C1043.7,2002.6 1046.4,2000.7 1048.1,2000.4C1049.8,2000.1 1051.5,2000.9 1052.2,2002.5C1053,2004 1052.9,2007.8 1052.7,2009.7C1052.6,2011.5 1052.1,2013.1 1051.2,2013.8C1050.3,2014.5 1047.9,2015.3 1047.1,2013.8C1046.2,2012.2 1046.2,2006.1 1046.1,2004.5"/>
<path d="M1734.1,1895.9 L1740.4,1891.5 L1745.9,1891.8 L1751,1892.5 L1754,1898.1 L1745.5,1903.2 L1737.4,1901.1Z"/>
<path d="M1734.1,1895.9 L1734.4,1904 L1737.4,1907.2 L1737.4,1901.1"/>
<path d="M1745.5,1903.2 L1746.6,1909.8 L1754,1905.1 L1754,1898.1"/>
<path d="M1737.4,1907.2 L1746.6,1909.8"/>
<path d="M1732.8,1900.7C1732.7,1901.9 1731.6,1906.1 1732.1,1908C1732.5,1909.8 1734,1910.9 1735.6,1911.7C1737.1,1912.4 1738.9,1912.3 1741.4,1912.4C1743.9,1912.5 1748.3,1913.1 1750.7,1912.4C1753.1,1911.7 1755,1909.9 1755.8,1908C1756.7,1906 1756.1,1902.3 1755.8,1900.7C1755.5,1899 1754.3,1898.5 1754,1898.1"/>
<path d="M1737.1,1912.4 L1737.1,1942"/>
<path d="M1750.9,1912.4 L1750.9,1942"/>
<path d="M1737.1,1915.9C1738.2,1916.1 1741.7,1916.9 1744,1916.9C1746.3,1916.9 1749.8,1916.1 1750.9,1915.9"/>
<path d="M1737.1,1921.9C1738.2,1922 1741.7,1922.9 1744,1922.9C1746.3,1922.9 1749.8,1922 1750.9,1921.9"/>
<path d="M1737.1,1927.8C1738.2,1928 1741.7,1928.8 1744,1928.8C1746.3,1928.8 1749.8,1928 1750.9,1927.8"/>
<path d="M1737.1,1933.7C1738.2,1933.9 1741.7,1934.7 1744,1934.7C1746.3,1934.7 1749.8,1933.9 1750.9,1933.7"/>
<path d="M1737.1,1939.6C1738.2,1939.8 1741.7,1940.6 1744,1940.6C1746.3,1940.6 1749.8,1939.8 1750.9,1939.6"/>
<path d="M1737.1,1942C1737.6,1942.5 1739.3,1944.2 1739.9,1945.1C1740.4,1946 1739.9,1946.8 1740.5,1947.3C1741.2,1947.8 1742.8,1948.2 1744,1948.2C1745.2,1948.2 1746.8,1947.8 1747.5,1947.3C1748.1,1946.8 1747.6,1946 1748.1,1945.1C1748.7,1944.2 1750.4,1942.5 1750.9,1942"/>
<path d="M1563.9,2107.5 L1658,2054.7"/>
<path d="M1568.5,2120.3 L1667.3,2067.1"/>
<path d="M1667.3,2067.1C1669.3,2065.5 1676.5,2062.2 1679.6,2057.8C1682.7,2053.5 1685.5,2046 1685.8,2040.9C1686,2035.7 1685.3,2031 1681.1,2027C1677,2023 1668,2018 1661.1,2016.9C1654.1,2015.9 1646.2,2017.6 1639.5,2020.8C1632.8,2024 1625.9,2029.8 1621,2036.2C1616.1,2042.7 1612.1,2052 1610.2,2059.4C1608.2,2066.7 1609.5,2076.7 1609.4,2080.2"/>
<path d="M1658,2054.7C1659.8,2052.9 1666.7,2047.8 1668.8,2043.9C1670.9,2040.1 1671.4,2034.8 1670.3,2031.6C1669.3,2028.4 1667,2024.4 1662.6,2024.7C1658.3,2024.9 1649.5,2029.4 1644.1,2033.1C1638.7,2036.9 1633.3,2042.4 1630.2,2047C1627.1,2051.7 1626.4,2056.8 1625.6,2060.9C1624.8,2065 1625.6,2069.9 1625.6,2071.7"/>
<path d="M1614,2096.4C1615.4,2099 1619.3,2107.5 1622.5,2111.8C1625.7,2116.2 1631.5,2120.8 1633.3,2122.6"/>
<path d="M1627.9,2089.5C1629.3,2091.6 1633.4,2099.1 1636.4,2102.6C1639.4,2106 1644.1,2109 1645.7,2110.3"/>
<ellipse cx="1565.4" cy="2114.1" rx="4.3" ry="7.1" transform="rotate(25 1565.4 2114.1)"/>
<ellipse cx="1565.9" cy="2114.6" rx="0.6" ry="0.6" fill="#000"/>
<path d="M1644.1,2023.9C1646.4,2023.8 1654.1,2022.6 1658,2023.1C1661.9,2023.6 1665.7,2026.3 1667.3,2027"/>
<path d="M1641,2108.7 L1691.9,2079.4 L1699.7,2079.1 L1713.5,2093.3 L1713.5,2097.9 L1704.3,2096.4"/>
<ellipse cx="1691.9" cy="2090.2" rx="7.7" ry="3.9" transform="rotate(-10 1691.9 2090.2)"/>
<ellipse cx="1671.9" cy="2101.8" rx="4.6" ry="2.8" transform="rotate(-10 1671.9 2101.8)"/>
<ellipse cx="1658.8" cy="2110.3" rx="7.7" ry="4.3" transform="rotate(-10 1658.8 2110.3)"/>
<path d="M1648.7,2110.3C1647.1,2111.1 1641.2,2112.9 1638.7,2114.9C1636.3,2117 1634.5,2119.8 1634.1,2122.6C1633.7,2125.5 1634.3,2130.1 1636.4,2131.9C1638.5,2133.7 1644.8,2133.2 1646.4,2133.4"/>
<path d="M1642.6,2108.7C1641.5,2109.3 1637.9,2109.8 1636.4,2111.8C1634.9,2113.9 1633.6,2118 1633.3,2121.1C1633.1,2124.2 1634.6,2128.8 1634.9,2130.3"/>
<path d="M1636.4,2130.3 L1636.4,2136.5"/>
<path d="M1658,2116.5C1656.5,2117.2 1650.7,2118.8 1648.7,2121.1C1646.8,2123.4 1646.8,2126.2 1646.4,2130.3C1646,2134.5 1646.4,2143.2 1646.4,2145.8"/>
<path d="M1646.4,2145.8 L1675.7,2168.9"/>
<path d="M1658,2116.5C1662.6,2119 1679.1,2130.3 1685.8,2131.9C1692.5,2133.4 1693,2128.8 1698.1,2125.7C1703.3,2122.6 1710.5,2115.4 1716.6,2113.4C1722.8,2111.3 1730,2111.6 1735.1,2113.4C1740.3,2115.2 1745.4,2122.4 1747.5,2124.2"/>
<path d="M1685.8,2131.9C1684.5,2133.4 1679.7,2138.3 1678.1,2141.1C1676.4,2144 1676.1,2144.2 1675.7,2148.9C1675.4,2153.5 1675.7,2165.6 1675.7,2168.9"/>
<path d="M1704.3,2096.4 L1747.5,2124.2"/>
<path d="M1675.7,2168.9 L1747.5,2128.8 L1747.5,2124.2"/>
<path d="M1724.3,2144.2 L1742.9,2150.4"/>
<path d="M1747.5,2128.8 L1769.1,2135"/>
<path d="M1636.4,2139.6 L1614,2150.4 L1614,2173.5 L1644.9,2189.7 L1649.5,2189.7 L1649.5,2192.8 L1678.8,2210.6 L1716.6,2189 L1742.9,2196.7 L1750.6,2196.7 L1803.8,2165.8 L1803.8,2138.8 L1778.3,2131.9 L1742.9,2150.4"/>
<path d="M1614,2150.4 L1644.9,2166.6 L1649.5,2165.1"/>
<path d="M1649.5,2171.2 L1678.8,2187.4 L1716.6,2167.4 L1742.9,2174.3 L1750.6,2173.5 L1803.8,2141.1"/>
<path d="M1644.9,2165.8 L1644.9,2189.7"/>
<path d="M1649.5,2170.5 L1649.5,2192.8"/>
<path d="M1678.8,2187.4 L1678.8,2210.6"/>
<path d="M1716.6,2167.4 L1716.6,2189"/>
<path d="M1742.9,2174.3 L1742.9,2196.7"/>
<path d="M1750.6,2173.5 L1750.6,2196.7"/>
<path d="M1614,2154 L1644.9,2170.2" stroke-width="0.8"/>
<path d="M1649.5,2174.1 L1678.8,2190.3 L1716.6,2170.2" stroke-width="0.8"/>
<path d="M1716.6,2170.2 L1742.9,2177.1" stroke-width="0.8"/>
<path d="M1750.6,2176.4 L1803.8,2145.5" stroke-width="0.8"/>
<path d="M1614,2156 L1644.9,2172.2" stroke-width="0.8"/>
<path d="M1649.5,2176.1 L1678.8,2192.3 L1716.6,2172.2" stroke-width="0.8"/>
<path d="M1716.6,2172.2 L1742.9,2179.2" stroke-width="0.8"/>
<path d="M1750.6,2178.4 L1803.8,2147.6" stroke-width="0.8"/>
<path d="M1614,2158.1 L1644.9,2174.3" stroke-width="0.8"/>
<path d="M1649.5,2178.2 L1678.8,2194.4 L1716.6,2174.3" stroke-width="0.8"/>
<path d="M1716.6,2174.3 L1742.9,2181.2" stroke-width="0.8"/>
<path d="M1750.6,2180.5 L1803.8,2149.6" stroke-width="0.8"/>
<path d="M1614,2160.2 L1644.9,2176.4" stroke-width="0.8"/>
<path d="M1649.5,2180.2 L1678.8,2196.4 L1716.6,2176.4" stroke-width="0.8"/>
<path d="M1716.6,2176.4 L1742.9,2183.3" stroke-width="0.8"/>
<path d="M1750.6,2182.5 L1803.8,2151.7" stroke-width="0.8"/>
<path d="M1614,2162.2 L1644.9,2178.4" stroke-width="0.8"/>
<path d="M1649.5,2182.3 L1678.8,2198.5 L1716.6,2178.4" stroke-width="0.8"/>
<path d="M1716.6,2178.4 L1742.9,2185.3" stroke-width="0.8"/>
<path d="M1750.6,2184.6 L1803.8,2153.7" stroke-width="0.8"/>
<path d="M1614,2164.3 L1644.9,2180.5" stroke-width="0.8"/>
<path d="M1649.5,2184.3 L1678.8,2200.5 L1716.6,2180.5" stroke-width="0.8"/>
<path d="M1716.6,2180.5 L1742.9,2187.4" stroke-width="0.8"/>
<path d="M1750.6,2186.6 L1803.8,2155.8" stroke-width="0.8"/>
<path d="M1614,2166.3 L1644.9,2182.5" stroke-width="0.8"/>
<path d="M1649.5,2186.4 L1678.8,2202.6 L1716.6,2182.5" stroke-width="0.8"/>
<path d="M1716.6,2182.5 L1742.9,2189.4" stroke-width="0.8"/>
<path d="M1750.6,2188.7 L1803.8,2157.8" stroke-width="0.8"/>
<path d="M1614,2168.4 L1644.9,2184.6" stroke-width="0.8"/>
<path d="M1649.5,2188.4 L1678.8,2204.6 L1716.6,2184.6" stroke-width="0.8"/>
<path d="M1716.6,2184.6 L1742.9,2191.5" stroke-width="0.8"/>
<path d="M1750.6,2190.7 L1803.8,2159.9" stroke-width="0.8"/>
<ellipse cx="1644.1" cy="2153.5" rx="8.5" ry="5.4" transform="rotate(-8 1644.1 2153.5)"/>
<path d="M1635.6,2153.5C1635.8,2154.4 1635,2157.6 1636.4,2158.9C1637.8,2160.2 1641.5,2161.2 1644.1,2161.2C1646.7,2161.2 1650.4,2160.2 1651.8,2158.9C1653.2,2157.6 1652.5,2154.4 1652.6,2153.5"/>
<ellipse cx="1662.6" cy="2163.5" rx="6.9" ry="4.6" transform="rotate(-8 1662.6 2163.5)"/>
<path d="M1655.7,2163.5C1655.8,2164.2 1655.3,2166.8 1656.5,2167.8C1657.6,2168.9 1660.6,2169.7 1662.6,2169.7C1664.7,2169.7 1667.6,2168.9 1668.8,2167.8C1670,2166.8 1669.4,2164.2 1669.6,2163.5"/>
<ellipse cx="1735.1" cy="2155" rx="9.3" ry="5.4" transform="rotate(-8 1735.1 2155)"/>
<path d="M1725.9,2155C1726,2155.8 1725.1,2158.7 1726.7,2159.9C1728.2,2161 1732.3,2162 1735.1,2162C1738,2162 1742.1,2161 1743.6,2159.9C1745.2,2158.7 1744.3,2155.8 1744.4,2155"/>
<ellipse cx="1630.2" cy="2151.2" rx="3.9" ry="2.3" transform="rotate(-10 1630.2 2151.2)"/>
<ellipse cx="1764.5" cy="2155" rx="4.9" ry="2.8" transform="rotate(-15 1764.5 2155)"/>
<ellipse cx="1783.7" cy="2144.2" rx="7.7" ry="4.6" transform="rotate(-10 1783.7 2144.2)"/>
<ellipse cx="1700.4" cy="2166.6" rx="0.9" ry="0.9" fill="#000"/>
<path d="M1502.6,2138.8C1503.5,2134.7 1502.6,2136.1 1508.1,2133.3C1513.6,2130.6 1529.6,2123.9 1535.5,2122.3C1541.5,2120.7 1541.7,2121.7 1543.8,2123.7C1545.8,2125.8 1548.8,2131.7 1547.9,2134.7C1547,2137.7 1542.2,2139.9 1538.3,2141.5C1534.4,2143.1 1527.3,2141.5 1524.6,2144.3C1521.8,2147 1523.7,2155 1521.8,2158C1520,2161 1516.8,2162.1 1513.6,2162.1C1510.4,2162.1 1504.5,2161.9 1502.6,2158C1500.8,2154.1 1501.7,2142.9 1502.6,2138.8Z"/>
<path d="M1502.6,2138.8C1504.5,2139.5 1509.9,2142.5 1513.6,2142.9C1517.3,2143.4 1522.7,2141.8 1524.6,2141.5"/>
<path d="M1535.5,2122.3 L1541,2141.5" stroke-width="1.6"/>
<ellipse cx="1519.1" cy="2152.5" rx="2" ry="2"/>
<path d="M1951,2226.5 L1951,2268.5"/>
<path d="M1960.1,2226.5 L1960.1,2268.5"/>
<path d="M1951,2226.5C1951.7,2226 1954,2223.7 1955.5,2223.7C1957.1,2223.7 1959.4,2226 1960.1,2226.5"/>
<path d="M1951,2228.3 L1960.1,2229.7" stroke-width="0.9"/>
<path d="M1951,2231.6 L1960.1,2233.1" stroke-width="0.9"/>
<path d="M1951,2235 L1960.1,2236.5" stroke-width="0.9"/>
<path d="M1951,2238.3 L1960.1,2239.8" stroke-width="0.9"/>
<path d="M1951,2241.7 L1960.1,2243.2" stroke-width="0.9"/>
<path d="M1951,2245 L1960.1,2246.5" stroke-width="0.9"/>
<path d="M1951,2248.4 L1960.1,2249.9" stroke-width="0.9"/>
<path d="M1951,2251.8 L1960.1,2253.2" stroke-width="0.9"/>
<path d="M1951,2255.1 L1960.1,2256.6" stroke-width="0.9"/>
<path d="M1951,2258.5 L1960.1,2259.9" stroke-width="0.9"/>
<path d="M1951,2261.8 L1960.1,2263.3" stroke-width="0.9"/>
<path d="M1951,2265.2 L1960.1,2266.6" stroke-width="0.9"/>
<path d="M1990.3,2252.1 L1990.3,2295.9"/>
<path d="M2000.3,2252.1 L2000.3,2295.9"/>
<path d="M1990.3,2252.1C1991.1,2251.6 1993.6,2249.3 1995.3,2249.3C1997,2249.3 1999.5,2251.6 2000.3,2252.1"/>
<path d="M1990.3,2253.9 L2000.3,2255.3" stroke-width="0.9"/>
<path d="M1990.3,2257.4 L2000.3,2258.9" stroke-width="0.9"/>
<path d="M1990.3,2260.9 L2000.3,2262.4" stroke-width="0.9"/>
<path d="M1990.3,2264.4 L2000.3,2265.9" stroke-width="0.9"/>
<path d="M1990.3,2267.9 L2000.3,2269.4" stroke-width="0.9"/>
<path d="M1990.3,2271.4 L2000.3,2272.9" stroke-width="0.9"/>
<path d="M1990.3,2274.9 L2000.3,2276.4" stroke-width="0.9"/>
<path d="M1990.3,2278.4 L2000.3,2279.9" stroke-width="0.9"/>
<path d="M1990.3,2281.9 L2000.3,2283.4" stroke-width="0.9"/>
<path d="M1990.3,2285.4 L2000.3,2286.9" stroke-width="0.9"/>
<path d="M1990.3,2288.9 L2000.3,2290.4" stroke-width="0.9"/>
<path d="M1990.3,2292.4 L2000.3,2293.9" stroke-width="0.9"/>
<path d="M1944.6,2270.3 L1948.2,2263 L1962.9,2263 L1965.6,2268.5 L1962.9,2274 L1950.1,2275.8Z"/>
<path d="M1984.8,2295.9 L1988.5,2290.5 L2003.1,2290.5 L2005.8,2295.9 L2003.1,2303.3 L1990.3,2304.2Z"/>
<path d="M1940.9,2272.2 L1940.9,2330.7 L1947.3,2336.2 L1951.9,2361.8"/>
<path d="M1947.3,2277.7 L1947.3,2336.2"/>
<path d="M1951.9,2283.1 L1951.9,2361.8"/>
<path d="M1948.2,2279.5 L1990.3,2253 L2001.3,2248.4 L2002.2,2292.3"/>
<path d="M1951.9,2283.1 L1989.4,2258.5"/>
<path d="M1966.5,2295.9 L1986.6,2283.1 L1987.5,2288.6"/>
<path d="M1966.5,2295.9 L1966.5,2352.6"/>
<path d="M1971.1,2297.8 L1971.1,2354.5"/>
<path d="M1988.5,2308.7 L1988.5,2361.8"/>
<path d="M2008.6,2301.4 L2008.6,2365.4"/>
<path d="M1988.5,2306.9C1989.7,2307.4 1992.4,2310.1 1995.8,2309.7C1999.1,2309.2 2006.4,2305.1 2008.6,2304.2"/>
<path d="M1932.7,2352.6 L1940.9,2330.7"/>
<path d="M1932.7,2352.6 L1932.7,2400.2 L1963.8,2422.1 L1963.8,2373.7 L1932.7,2352.6"/>
<path d="M1951.9,2363.6 L1970.2,2352.6 L1993.9,2367.3 L1963.8,2373.7"/>
<path d="M1963.8,2373.7 L1999.4,2367.3 L1999.4,2420.3 L1963.8,2425.8"/>
<path d="M1999.4,2367.3 L2008.6,2365.4 L2017.7,2338 L2008.6,2332.5"/>
<path d="M2017.7,2338 L2017.7,2383.7 L2008.6,2413 L1999.4,2420.3"/>
<path d="M1887.9,2388.3 L1924.5,2365.4 L1931.8,2365.4"/>
<path d="M1887.9,2388.3 L1887.9,2398.3 L1901.6,2409.3"/>
<ellipse cx="1908" cy="2394.7" rx="8.5" ry="5" transform="rotate(-5 1908 2394.7)"/>
<path d="M1898.9,2413 L1932.7,2400.2"/>
<path d="M1898.9,2413 L1898.9,2431.3 L1948.2,2466 L1973.8,2458.7 L1981.1,2453.2 L1986.6,2453.2 L1988.5,2473.3 L2034.2,2496.2 L2039.7,2495.3 L2061.6,2480.6 L2061.6,2477 L2052.5,2471.5"/>
<path d="M2043.3,2438.6 L2043.3,2418.5 L2039.7,2414.8 L2039.7,2396.5 L2017.7,2383.7"/>
<path d="M2043.3,2438.6 L2076.2,2466 L2076.2,2473.3 L2072.6,2475.1 L2070.7,2473.3"/>
<path d="M2072.6,2471.5C2070.1,2469.8 2061.9,2463.4 2057.9,2461.4C2054,2459.4 2051.1,2459.1 2048.8,2459.6C2046.5,2460.1 2044.2,2462.5 2044.2,2464.2C2044.2,2465.8 2045.3,2467.8 2048.8,2469.7C2052.3,2471.5 2061.3,2474.2 2065.3,2475.1C2069.2,2476.1 2071.4,2475.1 2072.6,2475.1"/>
<path d="M1898.9,2413 L1948.2,2446.8 L1963.8,2422.1"/>
<path d="M1948.2,2446.8 L1948.2,2466"/>
<path d="M1973.8,2442.2 L1973.8,2458.7"/>
<path d="M1948.2,2446.8 L1973.8,2442.2 L2039.7,2411.1"/>
<path d="M1899.8,2433.1 L1948.2,2462.3 L1973.8,2455"/>
<path d="M1990.3,2473.3 L2039.7,2440.4"/>
<path d="M1973.8,2453.2 L2043.3,2414.8"/>
<ellipse cx="2029.6" cy="2477.9" rx="12" ry="7" transform="rotate(-10 2029.6 2477.9)"/>
<ellipse cx="1925.4" cy="2396.5" rx="4" ry="2.5"/>
<ellipse cx="2025" cy="2398.3" rx="4" ry="2.5"/>
<ellipse cx="1976.6" cy="2431.3" rx="4" ry="2.5"/>
<path d="M1935.4,2423.9 L1942.7,2422.1 L1946.4,2444.1 L1938.2,2442.2Z"/>
<ellipse cx="1940.5" cy="2430.3" rx="1.2" ry="1.5"/>
<path d="M1924.5,2386.5 L1931.8,2380.1"/>
<path d="M1924.5,2381.9 L1931.8,2378.2"/>
<path d="M451.6,2347.2 L463.3,2339.4 L476.5,2347.2 L476.5,2356.9 L463.3,2364.7 L451.6,2358.9Z" stroke-width="1.3"/>
<path d="M451.6,2347.2 L463.3,2354 L476.5,2347.2"/>
<path d="M463.3,2354 L463.3,2364.7"/>
<path d="M457.4,2345.3 L463.3,2342.3 L470.1,2346.2 L464.2,2350.1Z"/>
<path d="M476.5,2356.9 L673.1,2469.6 L692.5,2486.1" stroke-width="1.3"/>
<path d="M469.1,2364.7 L669.2,2481.3 L690.6,2488.1 L692.5,2486.1" stroke-width="1.3"/>
<path d="M473,2361.2 L671.1,2475.4 L691.5,2487.1"/>
<path d="M506,2375.6 L630,2445.5 L626.1,2451 L502.5,2381.4Z" fill="#000" fill-opacity="0.55" stroke-width="1.1"/>
<path d="M505.2,2378.3 L627.6,2448.2" stroke="#fff" stroke-width="0.9" stroke-dasharray="1.2 1.6"/>
</g>
</svg>
</body></html>
